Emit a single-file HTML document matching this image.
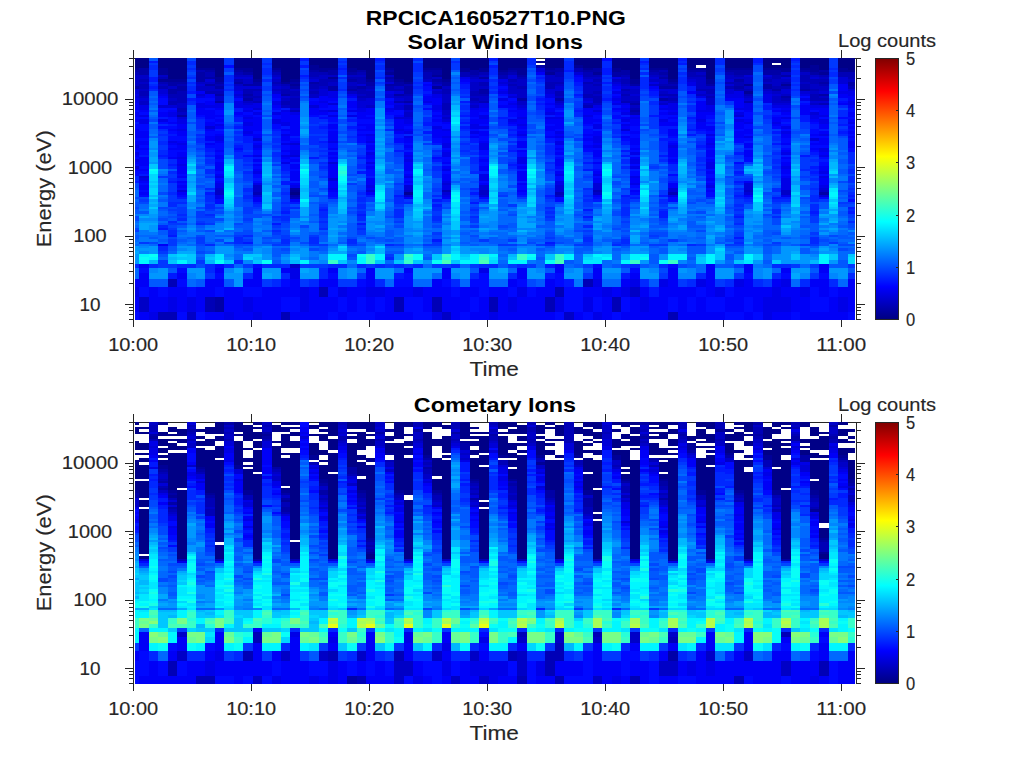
<!DOCTYPE html>
<html><head><meta charset="utf-8"><style>html,body{margin:0;padding:0;background:#fff;overflow:hidden}svg{display:block}text{font-family:"Liberation Sans",sans-serif;stroke-width:0.15px}</style></head>
<body><svg width="1024" height="768" viewBox="0 0 1024 768">
<text x="495.8" y="24.6" font-size="20" text-anchor="middle" font-weight="bold" fill="#000" textLength="260" lengthAdjust="spacingAndGlyphs" >RPCICA160527T10.PNG</text>
<text x="495.2" y="48.6" font-size="20" text-anchor="middle" font-weight="bold" fill="#000" textLength="175.2" lengthAdjust="spacingAndGlyphs" >Solar Wind Ions</text>
<text x="494.9" y="412.3" font-size="20" text-anchor="middle" font-weight="bold" fill="#000" textLength="162.2" lengthAdjust="spacingAndGlyphs" >Cometary Ions</text>
<rect x="133" y="58" width="724" height="1" fill="#262626"/>
<path fill="#000087" d="M135 58h4v10h-4zM139 58h10v10h-10zM158 58h10v10h-10zM168 58h9v21h-9zM177 58h10v21h-10zM196 58h9v10h-9zM205 58h10v10h-10zM215 58h9v19h-9zM234 58h9v10h-9zM243 58h10v10h-10zM253 58h9v21h-9zM272 58h9v10h-9zM281 58h9v24h-9zM290 58h10v21h-10zM290 192h10v3h-10zM309 58h10v7h-10zM319 58h9v10h-9zM328 58h10v10h-10zM347 58h10v10h-10zM357 58h9v12h-9zM366 58h9v21h-9zM385 58h9v10h-9zM394 58h10v21h-10zM404 58h9v24h-9zM423 58h9v10h-9zM432 58h10v10h-10zM442 58h9v21h-9zM460 58h10v10h-10zM470 58h9v12h-9zM479 58h10v10h-10zM498 58h10v12h-10zM508 58h9v10h-9zM517 58h10v10h-10zM536 61h9v2h-9zM545 58h10v10h-10zM555 58h9v10h-9zM574 58h9v7h-9zM583 58h10v10h-10zM593 58h9v10h-9zM612 58h9v10h-9zM621 58h9v12h-9zM630 58h10v21h-10zM649 58h10v10h-10zM659 58h9v10h-9zM668 58h10v21h-10zM687 58h9v10h-9zM696 58h10v7h-10zM706 58h9v21h-9zM725 58h9v10h-9zM734 58h10v10h-10zM744 58h9v10h-9zM763 58h9v10h-9zM772 58h9v5h-9zM772 65h9v3h-9zM781 58h10v10h-10zM800 58h10v10h-10zM810 58h9v7h-9zM819 58h10v12h-10zM838 58h10v10h-10zM848 58h7v12h-7z"/>
<path fill="#000097" d="M135 68h4v2h-4zM158 68h10v7h-10zM158 79h10v3h-10zM168 79h9v3h-9zM177 79h10v3h-10zM196 68h9v2h-9zM205 68h10v2h-10zM215 77h9v5h-9zM234 68h9v2h-9zM243 68h10v4h-10zM253 79h9v3h-9zM272 68h9v2h-9zM281 82h9v2h-9zM290 79h10v3h-10zM290 84h10v2h-10zM290 190h10v2h-10zM309 65h10v5h-10zM319 68h9v4h-9zM328 68h10v2h-10zM328 77h10v2h-10zM347 68h10v4h-10zM366 79h9v3h-9zM385 68h9v2h-9zM385 72h9v3h-9zM394 79h10v3h-10zM404 82h9v2h-9zM404 192h9v3h-9zM423 68h9v2h-9zM432 68h10v2h-10zM432 75h10v2h-10zM432 86h10v3h-10zM442 79h9v3h-9zM460 68h10v4h-10zM479 68h10v4h-10zM498 70h10v2h-10zM508 68h9v2h-9zM517 68h10v7h-10zM545 68h10v2h-10zM545 72h10v3h-10zM574 65h9v3h-9zM583 68h10v2h-10zM593 72h9v3h-9zM612 68h9v4h-9zM630 79h10v5h-10zM649 68h10v2h-10zM659 68h9v2h-9zM668 79h10v3h-10zM687 68h9v2h-9zM696 68h10v2h-10zM706 79h9v5h-9zM725 68h9v2h-9zM734 68h10v2h-10zM744 68h9v2h-9zM744 84h9v2h-9zM744 91h9v3h-9zM763 68h9v2h-9zM772 68h9v2h-9zM781 68h10v4h-10zM781 84h10v2h-10zM800 68h10v2h-10zM810 65h9v7h-9zM819 72h10v3h-10zM838 68h10v4h-10zM848 70h7v2h-7z"/>
<path fill="#0000a7" d="M135 70h4v2h-4zM135 86h4v3h-4zM139 68h10v7h-10zM168 82h9v4h-9zM168 89h9v5h-9zM177 82h10v2h-10zM177 86h10v5h-10zM177 115h10v2h-10zM196 72h9v10h-9zM205 70h10v2h-10zM205 77h10v2h-10zM205 84h10v2h-10zM215 82h9v2h-9zM215 86h9v3h-9zM215 94h9v2h-9zM215 101h9v2h-9zM215 297h9v15h-9zM234 70h9v2h-9zM234 82h9v2h-9zM243 72h10v3h-10zM243 84h10v2h-10zM243 94h10v2h-10zM243 98h10v3h-10zM253 82h9v4h-9zM272 70h9v2h-9zM281 94h9v2h-9zM290 82h10v2h-10zM290 86h10v3h-10zM290 188h10v2h-10zM290 195h10v2h-10zM309 70h10v2h-10zM309 82h10v2h-10zM328 70h10v5h-10zM328 86h10v5h-10zM347 72h10v3h-10zM347 79h10v3h-10zM347 89h10v2h-10zM357 70h9v2h-9zM357 86h9v3h-9zM366 82h9v4h-9zM385 70h9v2h-9zM385 77h9v2h-9zM385 84h9v2h-9zM394 82h10v4h-10zM394 94h10v2h-10zM404 86h9v8h-9zM404 101h9v2h-9zM423 70h9v2h-9zM432 70h10v5h-10zM432 79h10v3h-10zM442 82h9v4h-9zM470 70h9v5h-9zM479 77h10v2h-10zM479 89h10v5h-10zM498 72h10v3h-10zM508 70h9v2h-9zM517 75h10v2h-10zM517 98h10v3h-10zM536 65h9v3h-9zM545 70h10v2h-10zM555 68h9v4h-9zM555 98h9v3h-9zM583 70h10v2h-10zM593 68h9v4h-9zM612 72h9v5h-9zM621 70h9v5h-9zM630 84h10v2h-10zM630 103h10v2h-10zM630 110h10v2h-10zM649 70h10v2h-10zM659 72h9v3h-9zM659 77h9v2h-9zM659 86h9v3h-9zM659 98h9v3h-9zM668 82h10v2h-10zM668 86h10v3h-10zM687 70h9v2h-9zM696 70h10v2h-10zM706 84h9v2h-9zM725 70h9v2h-9zM734 70h10v5h-10zM734 79h10v3h-10zM734 86h10v3h-10zM744 70h9v5h-9zM763 70h9v5h-9zM763 84h9v5h-9zM772 70h9v5h-9zM772 89h9v2h-9zM781 75h10v2h-10zM781 96h10v2h-10zM800 70h10v2h-10zM800 89h10v2h-10zM810 72h9v3h-9zM819 70h10v2h-10zM819 82h10v2h-10zM819 94h10v2h-10zM819 192h10v3h-10zM848 82h7v4h-7z"/>
<path fill="#0000b7" d="M135 72h4v3h-4zM139 79h10v3h-10zM139 84h10v5h-10zM139 91h10v5h-10zM158 77h10v2h-10zM158 82h10v2h-10zM158 86h10v3h-10zM158 312h10v8h-10zM168 94h9v4h-9zM168 101h9v4h-9zM168 279h9v8h-9zM168 312h9v8h-9zM177 84h10v2h-10zM177 91h10v12h-10zM177 108h10v4h-10zM196 70h9v2h-9zM205 72h10v5h-10zM205 91h10v3h-10zM205 297h10v15h-10zM215 84h9v2h-9zM215 91h9v3h-9zM234 72h9v3h-9zM234 79h9v3h-9zM243 89h10v5h-10zM243 96h10v2h-10zM253 89h9v2h-9zM253 96h9v2h-9zM253 101h9v2h-9zM253 192h9v3h-9zM272 72h9v3h-9zM272 82h9v2h-9zM281 84h9v2h-9zM281 89h9v5h-9zM281 101h9v4h-9zM281 312h9v8h-9zM290 91h10v5h-10zM290 98h10v10h-10zM290 110h10v2h-10zM290 197h10v2h-10zM309 72h10v5h-10zM309 84h10v5h-10zM309 91h10v3h-10zM319 72h9v3h-9zM319 79h9v7h-9zM319 287h9v10h-9zM328 79h10v3h-10zM347 77h10v2h-10zM347 86h10v3h-10zM357 72h9v3h-9zM357 77h9v7h-9zM357 89h9v5h-9zM357 96h9v2h-9zM366 86h9v3h-9zM366 91h9v7h-9zM385 79h9v3h-9zM385 86h9v5h-9zM394 89h10v2h-10zM394 101h10v2h-10zM394 297h10v15h-10zM404 84h9v2h-9zM404 94h9v2h-9zM404 105h9v5h-9zM423 72h9v7h-9zM432 82h10v2h-10zM432 297h10v15h-10zM442 89h9v5h-9zM442 103h9v7h-9zM442 190h9v2h-9zM460 72h10v5h-10zM470 75h9v2h-9zM470 91h9v5h-9zM470 98h9v3h-9zM479 72h10v3h-10zM479 82h10v4h-10zM479 94h10v2h-10zM479 101h10v2h-10zM489 297h9v15h-9zM498 75h10v4h-10zM508 72h9v3h-9zM508 79h9v3h-9zM508 84h9v2h-9zM517 77h10v2h-10zM517 86h10v3h-10zM545 82h10v7h-10zM545 297h10v15h-10zM555 72h9v5h-9zM555 82h9v2h-9zM555 91h9v5h-9zM555 192h9v3h-9zM555 287h9v10h-9zM574 68h9v4h-9zM583 72h10v5h-10zM583 82h10v2h-10zM583 94h10v4h-10zM583 105h10v3h-10zM583 279h10v8h-10zM593 75h9v2h-9zM593 79h9v3h-9zM593 84h9v2h-9zM593 91h9v3h-9zM593 96h9v7h-9zM593 190h9v2h-9zM612 297h9v15h-9zM621 75h9v2h-9zM621 79h9v5h-9zM621 89h9v2h-9zM621 94h9v2h-9zM621 101h9v2h-9zM630 101h10v2h-10zM630 108h10v2h-10zM630 112h10v3h-10zM649 72h10v3h-10zM659 70h9v2h-9zM659 75h9v2h-9zM659 84h9v2h-9zM659 94h9v2h-9zM668 84h10v2h-10zM668 94h10v2h-10zM668 98h10v3h-10zM668 192h10v3h-10zM668 312h10v8h-10zM687 72h9v5h-9zM696 75h10v2h-10zM696 89h10v2h-10zM706 89h9v5h-9zM706 96h9v2h-9zM725 72h9v3h-9zM725 82h9v2h-9zM725 86h9v3h-9zM734 75h10v2h-10zM734 82h10v4h-10zM734 89h10v2h-10zM744 89h9v2h-9zM744 94h9v2h-9zM744 101h9v2h-9zM763 79h9v3h-9zM772 75h9v4h-9zM772 86h9v3h-9zM781 82h10v2h-10zM781 86h10v3h-10zM781 98h10v3h-10zM800 75h10v7h-10zM800 84h10v5h-10zM810 79h9v5h-9zM810 89h9v2h-9zM810 94h9v7h-9zM819 75h10v2h-10zM819 79h10v3h-10zM819 84h10v2h-10zM819 98h10v3h-10zM819 103h10v2h-10zM838 72h10v5h-10zM848 72h7v7h-7zM848 86h7v3h-7z"/>
<path fill="#0000c7" d="M135 75h4v11h-4zM139 75h10v4h-10zM139 82h10v2h-10zM139 89h10v2h-10zM139 96h10v2h-10zM139 101h10v4h-10zM139 297h10v15h-10zM158 75h10v2h-10zM158 84h10v2h-10zM168 86h9v3h-9zM168 98h9v3h-9zM177 103h10v5h-10zM177 112h10v3h-10zM187 312h9v8h-9zM196 82h9v2h-9zM196 86h9v5h-9zM205 82h10v2h-10zM205 86h10v5h-10zM215 89h9v2h-9zM215 96h9v5h-9zM215 190h9v5h-9zM234 75h9v2h-9zM234 84h9v2h-9zM243 75h10v2h-10zM243 79h10v5h-10zM243 101h10v2h-10zM253 91h9v5h-9zM253 98h9v3h-9zM253 185h9v7h-9zM272 75h9v2h-9zM272 79h9v3h-9zM272 84h9v2h-9zM272 89h9v2h-9zM281 86h9v3h-9zM281 98h9v3h-9zM281 105h9v3h-9zM290 89h10v2h-10zM290 96h10v2h-10zM290 264h10v4h-10zM309 77h10v2h-10zM309 89h10v2h-10zM309 94h10v4h-10zM319 75h9v4h-9zM319 86h9v3h-9zM328 75h10v2h-10zM328 82h10v4h-10zM347 75h10v2h-10zM347 82h10v4h-10zM347 91h10v3h-10zM357 75h9v2h-9zM357 94h9v2h-9zM357 98h9v3h-9zM366 89h9v2h-9zM366 105h9v3h-9zM385 75h9v2h-9zM394 86h10v3h-10zM394 96h10v2h-10zM404 96h9v5h-9zM404 112h9v5h-9zM404 190h9v2h-9zM404 195h9v2h-9zM423 79h9v3h-9zM432 77h10v2h-10zM432 84h10v2h-10zM432 91h10v3h-10zM442 86h9v3h-9zM442 94h9v9h-9zM442 110h9v5h-9zM442 117h9v2h-9zM442 312h9v8h-9zM470 77h9v2h-9zM470 82h9v9h-9zM470 96h9v2h-9zM470 101h9v2h-9zM470 105h9v3h-9zM479 75h10v2h-10zM479 86h10v3h-10zM479 96h10v5h-10zM479 190h10v5h-10zM508 82h9v2h-9zM508 86h9v8h-9zM517 79h10v7h-10zM517 89h10v9h-10zM517 101h10v4h-10zM545 75h10v7h-10zM555 77h9v5h-9zM555 84h9v2h-9zM555 96h9v2h-9zM555 101h9v2h-9zM555 195h9v2h-9zM564 312h10v8h-10zM583 77h10v2h-10zM583 84h10v10h-10zM583 103h10v2h-10zM593 77h9v2h-9zM593 82h9v2h-9zM593 86h9v5h-9zM593 94h9v2h-9zM593 103h9v2h-9zM593 192h9v3h-9zM612 79h9v3h-9zM621 77h9v2h-9zM621 84h9v2h-9zM621 91h9v3h-9zM621 96h9v5h-9zM630 89h10v5h-10zM630 96h10v5h-10zM630 105h10v3h-10zM630 287h10v10h-10zM649 75h10v2h-10zM649 79h10v3h-10zM649 84h10v2h-10zM659 79h9v5h-9zM659 91h9v3h-9zM659 103h9v2h-9zM668 96h10v2h-10zM668 101h10v2h-10zM687 77h9v2h-9zM696 72h10v3h-10zM696 77h10v12h-10zM696 94h10v2h-10zM706 86h9v3h-9zM706 94h9v2h-9zM706 98h9v7h-9zM725 75h9v4h-9zM734 77h10v2h-10zM744 77h9v7h-9zM744 86h9v3h-9zM744 96h9v2h-9zM744 190h9v2h-9zM763 77h9v2h-9zM763 82h9v2h-9zM763 89h9v2h-9zM772 79h9v7h-9zM772 91h9v3h-9zM772 96h9v7h-9zM781 72h10v3h-10zM781 79h10v3h-10zM781 94h10v2h-10zM781 101h10v2h-10zM781 190h10v5h-10zM800 72h10v3h-10zM800 82h10v2h-10zM810 75h9v2h-9zM810 84h9v5h-9zM810 91h9v3h-9zM810 103h9v2h-9zM819 77h10v2h-10zM819 86h10v5h-10zM819 96h10v2h-10zM819 190h10v2h-10zM848 79h7v3h-7z"/>
<path fill="#0000d7" d="M135 89h4v5h-4zM135 96h4v2h-4zM135 166h4v3h-4zM139 98h10v3h-10zM139 176h10v2h-10zM158 89h10v5h-10zM158 105h10v3h-10zM168 105h9v3h-9zM177 117h10v2h-10zM177 190h10v2h-10zM196 84h9v2h-9zM196 94h9v2h-9zM205 79h10v3h-10zM205 126h10v3h-10zM215 188h9v2h-9zM234 77h9v2h-9zM234 86h9v5h-9zM234 94h9v2h-9zM243 77h10v2h-10zM243 86h10v3h-10zM243 103h10v2h-10zM253 86h9v3h-9zM253 108h9v2h-9zM253 138h9v3h-9zM253 195h9v2h-9zM272 77h9v2h-9zM272 86h9v3h-9zM272 91h9v3h-9zM281 96h9v2h-9zM290 108h10v2h-10zM290 143h10v2h-10zM290 155h10v2h-10zM309 79h10v3h-10zM309 105h10v3h-10zM319 89h9v7h-9zM328 103h10v2h-10zM328 110h10v2h-10zM328 162h10v2h-10zM328 178h10v3h-10zM357 84h9v2h-9zM357 101h9v7h-9zM366 98h9v7h-9zM366 190h9v2h-9zM385 82h9v2h-9zM385 94h9v4h-9zM394 91h10v3h-10zM394 98h10v3h-10zM394 105h10v5h-10zM394 117h10v2h-10zM404 103h9v2h-9zM404 110h9v2h-9zM404 117h9v2h-9zM404 185h9v5h-9zM432 89h10v2h-10zM442 115h9v2h-9zM442 119h9v3h-9zM442 183h9v2h-9zM442 192h9v3h-9zM470 79h9v3h-9zM470 103h9v2h-9zM479 79h10v3h-10zM479 185h10v5h-10zM479 195h10v2h-10zM498 82h10v2h-10zM508 75h9v4h-9zM508 96h9v2h-9zM517 105h10v3h-10zM536 68h9v4h-9zM545 89h10v5h-10zM555 86h9v5h-9zM555 103h9v2h-9zM555 185h9v7h-9zM574 72h9v3h-9zM583 79h10v3h-10zM583 98h10v3h-10zM593 110h9v2h-9zM593 183h9v7h-9zM612 82h9v2h-9zM621 86h9v3h-9zM621 129h9v2h-9zM630 86h10v3h-10zM630 94h10v2h-10zM649 77h10v2h-10zM659 89h9v2h-9zM659 96h9v2h-9zM659 101h9v2h-9zM668 89h10v5h-10zM668 188h10v4h-10zM687 79h9v3h-9zM696 91h10v3h-10zM725 79h9v3h-9zM725 84h9v2h-9zM725 89h9v5h-9zM734 115h10v2h-10zM744 75h9v2h-9zM744 98h9v3h-9zM744 183h9v7h-9zM744 192h9v3h-9zM763 75h9v2h-9zM763 91h9v3h-9zM772 94h9v2h-9zM772 103h9v2h-9zM781 77h10v2h-10zM781 89h10v5h-10zM781 103h10v2h-10zM800 91h10v3h-10zM810 77h9v2h-9zM810 101h9v2h-9zM810 112h9v3h-9zM810 138h9v3h-9zM819 91h10v3h-10zM819 101h10v2h-10zM819 188h10v2h-10zM819 195h10v2h-10zM838 77h10v7h-10zM848 89h7v2h-7z"/>
<path fill="#0000e7" d="M135 94h4v2h-4zM135 98h4v5h-4zM135 145h4v3h-4zM135 152h4v3h-4zM135 159h4v3h-4zM135 287h4v10h-4zM139 105h10v5h-10zM139 115h10v2h-10zM139 119h10v5h-10zM139 178h10v3h-10zM149 312h9v8h-9zM158 94h10v2h-10zM158 119h10v3h-10zM168 112h9v5h-9zM168 141h9v2h-9zM168 297h9v15h-9zM177 119h10v5h-10zM177 129h10v2h-10zM177 143h10v2h-10zM177 157h10v2h-10zM177 164h10v2h-10zM187 297h9v15h-9zM196 96h9v2h-9zM196 103h9v5h-9zM205 105h10v3h-10zM215 103h9v5h-9zM215 124h9v2h-9zM215 136h9v5h-9zM215 176h9v2h-9zM215 183h9v5h-9zM215 195h9v4h-9zM224 312h10v8h-10zM234 91h9v3h-9zM234 96h9v2h-9zM234 101h9v7h-9zM243 105h10v3h-10zM243 110h10v2h-10zM243 117h10v2h-10zM243 122h10v4h-10zM243 131h10v3h-10zM243 297h10v15h-10zM253 103h9v5h-9zM253 112h9v3h-9zM253 145h9v3h-9zM253 155h9v2h-9zM253 171h9v3h-9zM253 183h9v2h-9zM253 312h9v8h-9zM272 101h9v4h-9zM272 112h9v3h-9zM272 119h9v5h-9zM281 110h9v2h-9zM281 122h9v4h-9zM281 134h9v2h-9zM281 143h9v2h-9zM281 155h9v2h-9zM281 162h9v2h-9zM290 112h10v3h-10zM290 150h10v5h-10zM290 185h10v3h-10zM290 268h10v11h-10zM300 287h9v25h-9zM319 101h9v2h-9zM319 110h9v2h-9zM328 91h10v7h-10zM328 115h10v2h-10zM328 141h10v2h-10zM328 188h10v2h-10zM338 287h9v10h-9zM347 94h10v2h-10zM347 110h10v2h-10zM347 115h10v2h-10zM357 108h9v4h-9zM366 134h9v2h-9zM366 141h9v2h-9zM366 152h9v3h-9zM366 162h9v2h-9zM366 185h9v3h-9zM366 287h9v10h-9zM375 287h10v10h-10zM385 91h9v3h-9zM385 108h9v2h-9zM394 103h10v2h-10zM394 129h10v2h-10zM404 119h9v5h-9zM404 131h9v3h-9zM404 136h9v2h-9zM404 155h9v2h-9zM404 159h9v3h-9zM404 176h9v2h-9zM413 287h10v10h-10zM423 101h9v2h-9zM432 94h10v4h-10zM432 105h10v5h-10zM432 126h10v3h-10zM432 312h10v8h-10zM442 129h9v2h-9zM442 136h9v2h-9zM442 143h9v5h-9zM442 152h9v5h-9zM442 169h9v2h-9zM442 181h9v2h-9zM442 185h9v5h-9zM442 195h9v2h-9zM460 77h10v2h-10zM470 108h9v2h-9zM470 124h9v5h-9zM470 131h9v3h-9zM479 103h10v5h-10zM479 115h10v4h-10zM479 126h10v3h-10zM479 143h10v7h-10zM479 174h10v7h-10zM479 268h10v5h-10zM489 312h9v8h-9zM498 79h10v3h-10zM498 84h10v2h-10zM498 91h10v3h-10zM498 98h10v3h-10zM508 94h9v2h-9zM508 103h9v2h-9zM508 119h9v3h-9zM508 297h9v15h-9zM517 108h10v2h-10zM517 117h10v2h-10zM517 124h10v2h-10zM517 134h10v2h-10zM517 157h10v7h-10zM517 287h10v10h-10zM545 94h10v4h-10zM545 112h10v3h-10zM545 117h10v2h-10zM555 105h9v3h-9zM555 117h9v2h-9zM555 131h9v3h-9zM555 136h9v2h-9zM555 141h9v4h-9zM555 174h9v2h-9zM555 181h9v4h-9zM555 297h9v15h-9zM583 101h10v2h-10zM583 115h10v2h-10zM583 297h10v15h-10zM593 105h9v3h-9zM593 124h9v5h-9zM593 136h9v7h-9zM593 145h9v3h-9zM593 174h9v2h-9zM593 279h9v8h-9zM593 312h9v8h-9zM602 287h10v10h-10zM612 77h9v2h-9zM612 84h9v2h-9zM612 91h9v3h-9zM612 98h9v3h-9zM612 103h9v2h-9zM621 103h9v2h-9zM621 108h9v2h-9zM621 112h9v3h-9zM621 119h9v3h-9zM621 124h9v2h-9zM621 287h9v10h-9zM630 117h10v2h-10zM630 152h10v3h-10zM630 159h10v5h-10zM630 166h10v3h-10zM630 176h10v2h-10zM630 183h10v2h-10zM630 279h10v8h-10zM640 297h9v15h-9zM649 82h10v2h-10zM659 108h9v2h-9zM659 119h9v3h-9zM659 279h9v8h-9zM668 103h10v7h-10zM668 112h10v3h-10zM668 145h10v3h-10zM668 195h10v2h-10zM687 82h9v4h-9zM696 96h10v2h-10zM696 110h10v2h-10zM696 119h10v3h-10zM696 279h10v8h-10zM706 105h9v7h-9zM706 134h9v2h-9zM706 143h9v2h-9zM706 162h9v7h-9zM706 185h9v3h-9zM715 287h10v10h-10zM725 94h9v4h-9zM734 91h10v7h-10zM734 108h10v2h-10zM734 112h10v3h-10zM734 119h10v3h-10zM734 279h10v8h-10zM744 103h9v7h-9zM744 122h9v2h-9zM744 136h9v2h-9zM763 94h9v9h-9zM763 297h9v23h-9zM772 105h9v3h-9zM772 122h9v2h-9zM772 287h9v25h-9zM781 105h10v3h-10zM781 110h10v2h-10zM781 117h10v2h-10zM781 126h10v3h-10zM781 131h10v3h-10zM781 152h10v3h-10zM781 166h10v3h-10zM781 178h10v12h-10zM781 195h10v2h-10zM781 279h10v8h-10zM781 297h10v15h-10zM800 94h10v2h-10zM800 98h10v3h-10zM800 287h10v10h-10zM810 105h9v3h-9zM810 115h9v4h-9zM819 105h10v3h-10zM819 115h10v2h-10zM819 119h10v5h-10zM819 134h10v2h-10zM819 148h10v4h-10zM819 155h10v2h-10zM819 171h10v3h-10zM819 176h10v2h-10zM819 185h10v3h-10zM838 91h10v3h-10zM838 297h10v15h-10zM848 91h7v5h-7zM848 101h7v4h-7zM848 122h7v2h-7z"/>
<path fill="#0000f7" d="M135 103h4v7h-4zM135 112h4v5h-4zM135 119h4v3h-4zM135 129h4v9h-4zM135 141h4v4h-4zM135 148h4v2h-4zM135 155h4v2h-4zM135 162h4v2h-4zM135 169h4v2h-4zM135 279h4v8h-4zM135 297h4v15h-4zM139 110h10v2h-10zM139 131h10v7h-10zM139 141h10v4h-10zM139 148h10v2h-10zM139 157h10v9h-10zM139 169h10v2h-10zM139 181h10v2h-10zM139 185h10v5h-10zM139 192h10v3h-10zM139 264h10v4h-10zM139 273h10v14h-10zM139 312h10v8h-10zM149 287h9v25h-9zM158 96h10v2h-10zM158 112h10v5h-10zM158 244h10v2h-10zM158 297h10v15h-10zM168 110h9v2h-9zM168 122h9v2h-9zM168 129h9v2h-9zM168 143h9v2h-9zM168 148h9v2h-9zM168 157h9v2h-9zM168 287h9v10h-9zM177 124h10v5h-10zM177 131h10v5h-10zM177 141h10v2h-10zM177 145h10v5h-10zM177 152h10v5h-10zM177 159h10v5h-10zM177 166h10v8h-10zM177 176h10v2h-10zM177 181h10v2h-10zM177 185h10v3h-10zM177 192h10v3h-10zM177 273h10v6h-10zM177 287h10v25h-10zM196 91h9v3h-9zM196 108h9v7h-9zM196 287h9v25h-9zM205 94h10v4h-10zM205 101h10v4h-10zM205 110h10v9h-10zM205 122h10v4h-10zM205 129h10v2h-10zM205 136h10v5h-10zM205 143h10v2h-10zM205 279h10v18h-10zM205 312h10v8h-10zM215 108h9v2h-9zM215 115h9v2h-9zM215 119h9v3h-9zM215 126h9v3h-9zM215 134h9v2h-9zM215 141h9v2h-9zM215 150h9v2h-9zM215 155h9v4h-9zM215 162h9v9h-9zM215 174h9v2h-9zM215 181h9v2h-9zM215 268h9v5h-9zM215 279h9v8h-9zM215 312h9v8h-9zM224 287h10v25h-10zM234 112h9v3h-9zM234 287h9v33h-9zM243 108h10v2h-10zM243 115h10v2h-10zM243 119h10v3h-10zM243 126h10v5h-10zM243 134h10v2h-10zM243 279h10v8h-10zM243 312h10v8h-10zM253 117h9v14h-9zM253 134h9v4h-9zM253 143h9v2h-9zM253 148h9v2h-9zM253 159h9v3h-9zM253 164h9v2h-9zM253 169h9v2h-9zM253 197h9v5h-9zM253 268h9v19h-9zM253 297h9v15h-9zM262 287h10v33h-10zM272 94h9v4h-9zM272 105h9v3h-9zM272 287h9v33h-9zM281 112h9v10h-9zM281 129h9v2h-9zM281 136h9v5h-9zM281 150h9v2h-9zM281 157h9v2h-9zM281 268h9v5h-9zM281 287h9v10h-9zM290 115h10v21h-10zM290 141h10v2h-10zM290 145h10v5h-10zM290 159h10v3h-10zM290 164h10v5h-10zM290 171h10v10h-10zM290 183h10v2h-10zM290 199h10v3h-10zM290 279h10v18h-10zM290 312h10v8h-10zM300 312h9v8h-9zM309 101h10v4h-10zM309 108h10v7h-10zM309 287h10v33h-10zM319 96h9v5h-9zM319 103h9v5h-9zM319 112h9v3h-9zM319 279h9v8h-9zM319 297h9v23h-9zM328 98h10v3h-10zM328 124h10v5h-10zM328 131h10v10h-10zM328 148h10v2h-10zM328 152h10v3h-10zM328 157h10v2h-10zM328 164h10v14h-10zM328 181h10v7h-10zM328 190h10v2h-10zM328 268h10v5h-10zM328 279h10v8h-10zM328 297h10v15h-10zM338 312h9v8h-9zM347 96h10v2h-10zM347 101h10v7h-10zM347 287h10v25h-10zM357 112h9v7h-9zM357 124h9v2h-9zM357 129h9v2h-9zM357 134h9v2h-9zM357 287h9v10h-9zM366 108h9v7h-9zM366 117h9v2h-9zM366 124h9v7h-9zM366 136h9v5h-9zM366 145h9v5h-9zM366 155h9v4h-9zM366 166h9v3h-9zM366 178h9v7h-9zM366 188h9v2h-9zM366 192h9v3h-9zM366 268h9v19h-9zM366 297h9v15h-9zM375 312h10v8h-10zM385 101h9v4h-9zM385 110h9v2h-9zM385 287h9v33h-9zM394 115h10v2h-10zM394 119h10v10h-10zM394 131h10v3h-10zM394 287h10v10h-10zM394 312h10v8h-10zM404 124h9v2h-9zM404 129h9v2h-9zM404 138h9v5h-9zM404 145h9v3h-9zM404 152h9v3h-9zM404 157h9v2h-9zM404 162h9v9h-9zM404 174h9v2h-9zM404 181h9v2h-9zM404 197h9v2h-9zM404 268h9v5h-9zM404 287h9v10h-9zM404 312h9v8h-9zM423 84h9v2h-9zM423 96h9v5h-9zM423 287h9v25h-9zM432 98h10v7h-10zM432 110h10v2h-10zM432 115h10v2h-10zM432 119h10v3h-10zM432 129h10v9h-10zM432 279h10v18h-10zM442 122h9v2h-9zM442 131h9v5h-9zM442 138h9v5h-9zM442 150h9v2h-9zM442 162h9v2h-9zM442 166h9v3h-9zM442 174h9v7h-9zM442 197h9v2h-9zM442 268h9v11h-9zM442 287h9v25h-9zM451 297h9v23h-9zM460 79h10v3h-10zM460 287h10v25h-10zM470 110h9v7h-9zM470 119h9v5h-9zM470 136h9v2h-9zM470 287h9v10h-9zM470 312h9v8h-9zM479 108h10v4h-10zM479 119h10v5h-10zM479 131h10v5h-10zM479 141h10v2h-10zM479 159h10v3h-10zM479 166h10v5h-10zM479 183h10v2h-10zM479 297h10v23h-10zM489 287h9v10h-9zM498 89h10v2h-10zM498 105h10v3h-10zM498 287h10v33h-10zM508 101h9v2h-9zM508 105h9v3h-9zM508 110h9v2h-9zM508 122h9v2h-9zM508 279h9v8h-9zM508 312h9v8h-9zM517 110h10v7h-10zM517 119h10v5h-10zM517 126h10v3h-10zM517 131h10v3h-10zM517 141h10v7h-10zM517 150h10v2h-10zM517 166h10v3h-10zM517 171h10v10h-10zM517 183h10v2h-10zM517 190h10v2h-10zM517 268h10v11h-10zM517 297h10v23h-10zM527 297h9v23h-9zM536 72h9v3h-9zM536 287h9v33h-9zM545 103h10v2h-10zM545 108h10v4h-10zM545 119h10v5h-10zM545 126h10v5h-10zM545 136h10v2h-10zM545 279h10v18h-10zM545 312h10v8h-10zM555 112h9v3h-9zM555 119h9v10h-9zM555 134h9v2h-9zM555 148h9v2h-9zM555 152h9v3h-9zM555 159h9v7h-9zM555 171h9v3h-9zM555 264h9v9h-9zM574 75h9v2h-9zM574 312h9v8h-9zM583 108h10v7h-10zM583 117h10v7h-10zM583 134h10v2h-10zM583 138h10v3h-10zM583 145h10v3h-10zM583 287h10v10h-10zM593 108h9v2h-9zM593 112h9v3h-9zM593 119h9v3h-9zM593 131h9v5h-9zM593 143h9v2h-9zM593 150h9v7h-9zM593 162h9v2h-9zM593 171h9v3h-9zM593 178h9v5h-9zM593 195h9v2h-9zM593 268h9v11h-9zM593 287h9v10h-9zM602 297h10v23h-10zM612 86h9v3h-9zM612 96h9v2h-9zM612 101h9v2h-9zM612 108h9v2h-9zM612 287h9v10h-9zM621 105h9v3h-9zM621 110h9v2h-9zM621 117h9v2h-9zM621 126h9v3h-9zM621 136h9v2h-9zM621 279h9v8h-9zM621 312h9v8h-9zM630 115h10v2h-10zM630 119h10v7h-10zM630 131h10v3h-10zM630 138h10v7h-10zM630 148h10v2h-10zM630 157h10v2h-10zM630 178h10v5h-10zM630 190h10v2h-10zM630 273h10v6h-10zM630 297h10v23h-10zM640 287h9v10h-9zM640 312h9v8h-9zM649 86h10v3h-10zM649 297h10v23h-10zM659 105h9v3h-9zM659 112h9v3h-9zM659 122h9v4h-9zM659 287h9v33h-9zM668 110h10v2h-10zM668 117h10v2h-10zM668 122h10v4h-10zM668 129h10v7h-10zM668 143h10v2h-10zM668 148h10v9h-10zM668 159h10v3h-10zM668 183h10v5h-10zM668 268h10v29h-10zM678 287h9v33h-9zM687 91h9v3h-9zM687 287h9v10h-9zM687 312h9v8h-9zM696 101h10v9h-10zM696 112h10v7h-10zM696 122h10v7h-10zM696 297h10v23h-10zM706 112h9v3h-9zM706 126h9v5h-9zM706 138h9v5h-9zM706 145h9v3h-9zM706 150h9v7h-9zM706 159h9v3h-9zM706 171h9v3h-9zM706 178h9v3h-9zM706 183h9v2h-9zM706 190h9v2h-9zM706 264h9v33h-9zM706 312h9v8h-9zM715 312h10v8h-10zM725 98h9v3h-9zM725 297h9v15h-9zM734 98h10v10h-10zM734 122h10v7h-10zM734 131h10v7h-10zM734 287h10v25h-10zM744 110h9v2h-9zM744 119h9v3h-9zM744 129h9v5h-9zM744 143h9v5h-9zM744 150h9v7h-9zM744 181h9v2h-9zM744 195h9v2h-9zM744 264h9v9h-9zM744 279h9v18h-9zM744 312h9v8h-9zM753 287h10v25h-10zM763 287h9v10h-9zM772 110h9v2h-9zM772 117h9v5h-9zM772 124h9v2h-9zM772 279h9v8h-9zM772 312h9v8h-9zM781 108h10v2h-10zM781 112h10v3h-10zM781 134h10v4h-10zM781 143h10v2h-10zM781 150h10v2h-10zM781 157h10v2h-10zM781 162h10v4h-10zM781 169h10v5h-10zM781 176h10v2h-10zM781 268h10v5h-10zM781 287h10v10h-10zM781 312h10v8h-10zM791 287h9v25h-9zM800 105h10v10h-10zM800 297h10v23h-10zM810 108h9v2h-9zM810 119h9v3h-9zM810 134h9v2h-9zM810 143h9v2h-9zM810 148h9v2h-9zM810 279h9v8h-9zM810 312h9v8h-9zM819 108h10v7h-10zM819 124h10v5h-10zM819 131h10v3h-10zM819 138h10v7h-10zM819 152h10v3h-10zM819 166h10v5h-10zM819 178h10v7h-10zM819 264h10v9h-10zM819 279h10v18h-10zM819 312h10v8h-10zM829 297h9v23h-9zM838 84h10v7h-10zM838 94h10v4h-10zM838 103h10v2h-10zM838 287h10v10h-10zM838 312h10v8h-10zM848 96h7v5h-7zM848 105h7v3h-7zM848 112h7v5h-7zM848 119h7v3h-7zM848 126h7v3h-7zM848 131h7v3h-7zM848 136h7v2h-7zM848 141h7v7h-7zM848 279h7v33h-7z"/>
<path fill="#0008ff" d="M135 110h4v2h-4zM135 117h4v2h-4zM135 124h4v5h-4zM135 138h4v3h-4zM135 150h4v2h-4zM135 157h4v2h-4zM135 164h4v2h-4zM135 171h4v5h-4zM135 312h4v8h-4zM139 112h10v3h-10zM139 117h10v2h-10zM139 124h10v7h-10zM139 138h10v3h-10zM139 145h10v3h-10zM139 150h10v5h-10zM139 166h10v3h-10zM139 171h10v3h-10zM139 183h10v2h-10zM139 190h10v2h-10zM139 195h10v2h-10zM139 268h10v5h-10zM139 287h10v10h-10zM158 98h10v7h-10zM158 108h10v4h-10zM158 122h10v2h-10zM158 126h10v3h-10zM158 287h10v10h-10zM168 108h9v2h-9zM168 117h9v5h-9zM168 126h9v3h-9zM168 131h9v3h-9zM168 136h9v5h-9zM168 145h9v3h-9zM168 150h9v7h-9zM177 136h10v5h-10zM177 150h10v2h-10zM177 174h10v2h-10zM177 183h10v2h-10zM177 188h10v2h-10zM177 195h10v2h-10zM177 268h10v5h-10zM177 279h10v8h-10zM177 312h10v8h-10zM187 287h9v10h-9zM196 98h9v5h-9zM196 115h9v2h-9zM196 312h9v8h-9zM205 98h10v3h-10zM205 108h10v2h-10zM205 119h10v3h-10zM205 131h10v5h-10zM205 145h10v3h-10zM215 110h9v5h-9zM215 117h9v2h-9zM215 122h9v2h-9zM215 131h9v3h-9zM215 143h9v7h-9zM215 152h9v3h-9zM215 159h9v3h-9zM215 171h9v3h-9zM215 178h9v3h-9zM215 199h9v5h-9zM215 264h9v4h-9zM215 273h9v6h-9zM215 287h9v10h-9zM224 65h10v3h-10zM234 98h9v3h-9zM234 115h9v2h-9zM234 148h9v2h-9zM243 112h10v3h-10zM243 155h10v2h-10zM243 287h10v10h-10zM253 110h9v2h-9zM253 115h9v2h-9zM253 131h9v3h-9zM253 141h9v2h-9zM253 150h9v5h-9zM253 166h9v3h-9zM253 174h9v4h-9zM253 181h9v2h-9zM253 264h9v4h-9zM253 287h9v10h-9zM272 98h9v3h-9zM272 108h9v2h-9zM272 115h9v4h-9zM272 124h9v5h-9zM281 131h9v3h-9zM281 141h9v2h-9zM281 145h9v5h-9zM281 152h9v3h-9zM281 159h9v3h-9zM281 279h9v8h-9zM281 297h9v15h-9zM290 138h10v3h-10zM290 157h10v2h-10zM290 169h10v2h-10zM290 297h10v15h-10zM309 98h10v3h-10zM309 115h10v2h-10zM319 108h9v2h-9zM319 117h9v2h-9zM328 101h10v2h-10zM328 105h10v5h-10zM328 112h10v3h-10zM328 117h10v5h-10zM328 129h10v2h-10zM328 143h10v5h-10zM328 155h10v2h-10zM328 159h10v3h-10zM328 192h10v5h-10zM328 273h10v6h-10zM328 287h10v10h-10zM328 312h10v8h-10zM338 297h9v15h-9zM347 108h10v2h-10zM347 312h10v8h-10zM357 119h9v5h-9zM357 126h9v3h-9zM357 131h9v3h-9zM357 136h9v7h-9zM357 279h9v8h-9zM357 297h9v23h-9zM366 115h9v2h-9zM366 119h9v5h-9zM366 131h9v3h-9zM366 143h9v2h-9zM366 150h9v2h-9zM366 159h9v3h-9zM366 164h9v2h-9zM366 169h9v7h-9zM366 312h9v8h-9zM375 297h10v15h-10zM385 98h9v3h-9zM385 105h9v3h-9zM385 112h9v3h-9zM394 110h10v5h-10zM394 138h10v5h-10zM394 279h10v8h-10zM404 126h9v3h-9zM404 143h9v2h-9zM404 148h9v2h-9zM404 171h9v3h-9zM404 178h9v3h-9zM404 183h9v2h-9zM404 273h9v14h-9zM404 297h9v15h-9zM413 297h10v23h-10zM423 82h9v2h-9zM423 86h9v5h-9zM423 94h9v2h-9zM423 103h9v2h-9zM423 108h9v2h-9zM423 312h9v8h-9zM432 112h10v3h-10zM432 117h10v2h-10zM432 122h10v4h-10zM432 138h10v5h-10zM432 157h10v2h-10zM442 124h9v5h-9zM442 148h9v2h-9zM442 157h9v5h-9zM442 171h9v3h-9zM442 279h9v8h-9zM451 287h9v10h-9zM460 82h10v2h-10zM460 312h10v8h-10zM470 117h9v2h-9zM470 129h9v2h-9zM470 134h9v2h-9zM470 279h9v8h-9zM470 297h9v15h-9zM479 112h10v3h-10zM479 124h10v2h-10zM479 136h10v5h-10zM479 150h10v5h-10zM479 157h10v2h-10zM479 162h10v4h-10zM479 181h10v2h-10zM479 197h10v2h-10zM479 273h10v24h-10zM498 86h10v3h-10zM498 94h10v2h-10zM498 101h10v4h-10zM508 98h9v3h-9zM508 108h9v2h-9zM508 112h9v5h-9zM508 124h9v2h-9zM508 287h9v10h-9zM517 129h10v2h-10zM517 136h10v2h-10zM517 152h10v5h-10zM517 164h10v2h-10zM517 185h10v5h-10zM517 192h10v3h-10zM517 279h10v8h-10zM527 287h9v10h-9zM545 98h10v5h-10zM545 105h10v3h-10zM545 124h10v2h-10zM545 131h10v5h-10zM555 108h9v2h-9zM555 115h9v2h-9zM555 129h9v2h-9zM555 138h9v3h-9zM555 145h9v3h-9zM555 150h9v2h-9zM555 157h9v2h-9zM555 166h9v3h-9zM555 176h9v5h-9zM555 197h9v5h-9zM555 273h9v14h-9zM555 312h9v8h-9zM564 287h10v25h-10zM574 77h9v5h-9zM574 287h9v25h-9zM583 124h10v2h-10zM583 129h10v5h-10zM583 136h10v2h-10zM583 141h10v4h-10zM583 148h10v4h-10zM583 312h10v8h-10zM593 115h9v4h-9zM593 122h9v2h-9zM593 148h9v2h-9zM593 157h9v2h-9zM593 169h9v2h-9zM593 176h9v2h-9zM593 197h9v2h-9zM593 264h9v4h-9zM593 297h9v15h-9zM602 58h10v3h-10zM612 89h9v2h-9zM612 94h9v2h-9zM612 110h9v2h-9zM612 115h9v4h-9zM612 312h9v8h-9zM621 122h9v2h-9zM621 131h9v3h-9zM621 138h9v3h-9zM621 297h9v15h-9zM630 126h10v5h-10zM630 134h10v4h-10zM630 145h10v3h-10zM630 150h10v2h-10zM630 164h10v2h-10zM630 171h10v5h-10zM630 185h10v3h-10zM630 192h10v3h-10zM630 268h10v5h-10zM649 89h10v2h-10zM659 110h9v2h-9zM659 115h9v4h-9zM668 115h10v2h-10zM668 119h10v3h-10zM668 136h10v2h-10zM668 141h10v2h-10zM668 157h10v2h-10zM668 162h10v2h-10zM668 174h10v2h-10zM668 197h10v5h-10zM668 264h10v4h-10zM668 297h10v15h-10zM687 297h9v15h-9zM696 129h10v2h-10zM696 287h10v10h-10zM706 115h9v4h-9zM706 122h9v2h-9zM706 131h9v3h-9zM706 136h9v2h-9zM706 148h9v2h-9zM706 157h9v2h-9zM706 169h9v2h-9zM706 174h9v4h-9zM706 181h9v2h-9zM706 188h9v2h-9zM706 192h9v5h-9zM706 297h9v15h-9zM715 297h10v15h-10zM725 287h9v10h-9zM725 312h9v8h-9zM734 110h10v2h-10zM734 117h10v2h-10zM734 129h10v2h-10zM734 138h10v5h-10zM734 162h10v2h-10zM734 312h10v8h-10zM744 112h9v7h-9zM744 124h9v5h-9zM744 134h9v2h-9zM744 138h9v3h-9zM744 157h9v5h-9zM744 273h9v6h-9zM744 297h9v15h-9zM753 312h10v8h-10zM772 108h9v2h-9zM772 115h9v2h-9zM772 126h9v3h-9zM781 115h10v2h-10zM781 119h10v3h-10zM781 124h10v2h-10zM781 129h10v2h-10zM781 138h10v5h-10zM781 148h10v2h-10zM781 159h10v3h-10zM781 174h10v2h-10zM781 273h10v6h-10zM791 312h9v8h-9zM800 96h10v2h-10zM800 103h10v2h-10zM810 110h9v2h-9zM810 122h9v2h-9zM810 129h9v5h-9zM810 136h9v2h-9zM810 141h9v2h-9zM810 145h9v3h-9zM810 150h9v2h-9zM810 287h9v25h-9zM819 117h10v2h-10zM819 136h10v2h-10zM819 145h10v3h-10zM819 157h10v2h-10zM819 162h10v4h-10zM819 174h10v2h-10zM819 197h10v2h-10zM819 273h10v6h-10zM819 297h10v15h-10zM829 287h9v10h-9zM838 101h10v2h-10zM838 117h10v2h-10zM848 108h7v4h-7zM848 117h7v2h-7zM848 124h7v2h-7zM848 129h7v2h-7zM848 134h7v2h-7zM848 138h7v3h-7zM848 148h7v4h-7zM848 199h7v3h-7zM848 312h7v8h-7z"/>
<path fill="#0018ff" d="M135 122h4v2h-4zM135 181h4v2h-4zM139 155h10v2h-10zM139 174h10v2h-10zM149 61h9v2h-9zM149 77h9v5h-9zM149 86h9v3h-9zM158 117h10v2h-10zM158 155h10v2h-10zM158 228h10v2h-10zM168 124h9v2h-9zM168 134h9v2h-9zM168 164h9v2h-9zM168 181h9v2h-9zM168 235h9v2h-9zM168 273h9v6h-9zM177 178h10v3h-10zM177 197h10v2h-10zM187 91h9v3h-9zM187 98h9v3h-9zM196 117h9v2h-9zM205 141h10v2h-10zM205 148h10v4h-10zM205 155h10v2h-10zM205 192h10v3h-10zM215 129h9v2h-9zM234 108h9v4h-9zM234 117h9v5h-9zM234 126h9v3h-9zM234 145h9v3h-9zM234 150h9v2h-9zM243 136h10v7h-10zM243 242h10v2h-10zM253 157h9v2h-9zM253 162h9v2h-9zM253 178h9v3h-9zM253 202h9v2h-9zM272 110h9v2h-9zM272 129h9v2h-9zM272 223h9v2h-9zM281 108h9v2h-9zM281 126h9v3h-9zM281 164h9v7h-9zM281 181h9v4h-9zM281 211h9v3h-9zM290 136h10v2h-10zM290 162h10v2h-10zM290 181h10v2h-10zM290 202h10v2h-10zM300 58h9v3h-9zM300 65h9v3h-9zM300 75h9v2h-9zM309 157h10v2h-10zM319 115h9v2h-9zM319 126h9v3h-9zM319 141h9v2h-9zM319 209h9v2h-9zM328 122h10v2h-10zM328 150h10v2h-10zM328 197h10v2h-10zM338 68h9v2h-9zM347 98h10v3h-10zM347 112h10v3h-10zM347 119h10v3h-10zM347 126h10v3h-10zM357 157h9v2h-9zM357 171h9v3h-9zM357 214h9v2h-9zM357 223h9v2h-9zM366 176h9v2h-9zM366 195h9v2h-9zM375 58h10v3h-10zM385 115h9v4h-9zM394 134h10v4h-10zM394 150h10v2h-10zM394 195h10v2h-10zM394 273h10v6h-10zM404 150h9v2h-9zM423 91h9v3h-9zM423 122h9v4h-9zM423 131h9v3h-9zM432 143h10v2h-10zM432 159h10v3h-10zM432 199h10v3h-10zM432 204h10v3h-10zM432 239h10v3h-10zM442 164h9v2h-9zM460 84h10v5h-10zM460 101h10v2h-10zM460 115h10v2h-10zM460 122h10v2h-10zM460 126h10v3h-10zM470 138h9v5h-9zM470 192h9v3h-9zM470 202h9v2h-9zM479 129h10v2h-10zM479 155h10v2h-10zM479 171h10v3h-10zM489 58h9v3h-9zM489 65h9v3h-9zM498 96h10v2h-10zM498 117h10v2h-10zM508 117h9v2h-9zM508 129h9v2h-9zM508 134h9v2h-9zM508 150h9v2h-9zM508 164h9v2h-9zM517 138h10v3h-10zM517 169h10v2h-10zM517 181h10v2h-10zM517 195h10v2h-10zM536 77h9v2h-9zM536 98h9v3h-9zM536 103h9v2h-9zM545 115h10v2h-10zM545 138h10v5h-10zM545 195h10v2h-10zM545 242h10v2h-10zM545 264h10v4h-10zM545 273h10v6h-10zM555 110h9v2h-9zM555 155h9v2h-9zM555 169h9v2h-9zM564 70h10v2h-10zM564 279h10v8h-10zM574 82h9v4h-9zM574 94h9v2h-9zM574 110h9v2h-9zM583 126h10v3h-10zM583 162h10v2h-10zM583 169h10v2h-10zM583 209h10v2h-10zM583 216h10v2h-10zM593 129h9v2h-9zM593 159h9v3h-9zM593 164h9v5h-9zM593 199h9v3h-9zM602 68h10v7h-10zM602 82h10v2h-10zM602 98h10v3h-10zM612 105h9v3h-9zM612 112h9v3h-9zM612 122h9v2h-9zM621 115h9v2h-9zM621 134h9v2h-9zM621 141h9v4h-9zM621 150h9v2h-9zM621 155h9v2h-9zM621 195h9v2h-9zM621 273h9v6h-9zM630 155h10v2h-10zM630 169h10v2h-10zM630 188h10v2h-10zM630 197h10v2h-10zM640 61h9v2h-9zM649 91h10v5h-10zM649 115h10v2h-10zM649 287h10v10h-10zM659 126h9v8h-9zM659 138h9v3h-9zM659 155h9v2h-9zM659 195h9v2h-9zM659 211h9v7h-9zM668 126h10v3h-10zM668 138h10v3h-10zM668 181h10v2h-10zM678 58h9v3h-9zM678 63h9v2h-9zM687 86h9v5h-9zM687 117h9v2h-9zM687 129h9v2h-9zM687 134h9v2h-9zM696 98h10v3h-10zM696 131h10v3h-10zM696 145h10v3h-10zM706 119h9v3h-9zM706 124h9v2h-9zM734 152h10v3h-10zM734 171h10v3h-10zM734 181h10v2h-10zM734 195h10v2h-10zM734 216h10v2h-10zM734 237h10v2h-10zM744 141h9v2h-9zM744 148h9v2h-9zM744 197h9v2h-9zM753 58h10v5h-10zM763 105h9v5h-9zM772 112h9v3h-9zM772 131h9v3h-9zM772 143h9v2h-9zM772 197h9v2h-9zM781 122h10v2h-10zM781 145h10v3h-10zM781 155h10v2h-10zM781 197h10v2h-10zM791 58h9v3h-9zM800 101h10v2h-10zM800 115h10v7h-10zM800 155h10v2h-10zM810 124h9v5h-9zM810 152h9v3h-9zM810 166h9v3h-9zM810 171h9v3h-9zM810 211h9v3h-9zM819 129h10v2h-10zM819 159h10v3h-10zM838 98h10v3h-10zM838 124h10v2h-10zM838 131h10v3h-10zM848 195h7v2h-7zM848 207h7v2h-7zM848 211h7v3h-7z"/>
<path fill="#0028ff" d="M135 176h4v5h-4zM135 264h4v4h-4zM149 65h9v5h-9zM149 84h9v2h-9zM149 89h9v2h-9zM149 264h9v4h-9zM158 124h10v2h-10zM158 129h10v2h-10zM158 134h10v2h-10zM158 141h10v4h-10zM158 150h10v5h-10zM158 157h10v2h-10zM158 225h10v3h-10zM158 246h10v5h-10zM168 159h9v5h-9zM168 166h9v3h-9zM168 171h9v3h-9zM168 178h9v3h-9zM168 192h9v3h-9zM168 202h9v5h-9zM168 221h9v2h-9zM168 230h9v5h-9zM177 202h10v2h-10zM177 214h10v2h-10zM177 218h10v3h-10zM177 264h10v4h-10zM187 61h9v4h-9zM187 68h9v2h-9zM187 77h9v2h-9zM187 82h9v2h-9zM187 86h9v5h-9zM187 101h9v4h-9zM187 264h9v4h-9zM196 119h9v10h-9zM196 134h9v2h-9zM196 138h9v5h-9zM196 223h9v2h-9zM205 152h10v3h-10zM205 159h10v5h-10zM205 169h10v5h-10zM205 188h10v2h-10zM205 195h10v7h-10zM205 204h10v5h-10zM205 214h10v2h-10zM205 244h10v2h-10zM205 264h10v9h-10zM224 75h10v7h-10zM224 84h10v2h-10zM224 89h10v2h-10zM224 264h10v4h-10zM234 124h9v2h-9zM234 131h9v3h-9zM234 136h9v5h-9zM234 143h9v2h-9zM234 152h9v7h-9zM234 237h9v7h-9zM234 260h9v4h-9zM243 143h10v7h-10zM243 152h10v3h-10zM243 157h10v5h-10zM243 164h10v2h-10zM243 171h10v3h-10zM243 188h10v4h-10zM243 195h10v4h-10zM243 235h10v2h-10zM243 273h10v6h-10zM253 204h9v3h-9zM262 63h10v2h-10zM262 68h10v7h-10zM262 79h10v3h-10zM262 264h10v4h-10zM272 131h9v5h-9zM272 138h9v5h-9zM272 145h9v3h-9zM272 152h9v5h-9zM272 216h9v2h-9zM272 230h9v2h-9zM272 264h9v4h-9zM272 279h9v8h-9zM281 171h9v3h-9zM281 176h9v2h-9zM281 192h9v3h-9zM281 202h9v2h-9zM281 207h9v4h-9zM281 216h9v5h-9zM281 239h9v5h-9zM281 264h9v4h-9zM281 273h9v6h-9zM290 207h10v2h-10zM300 77h9v2h-9zM309 117h10v7h-10zM309 126h10v8h-10zM309 136h10v9h-10zM309 237h10v7h-10zM309 279h10v8h-10zM319 119h9v3h-9zM319 124h9v2h-9zM319 129h9v5h-9zM319 136h9v2h-9zM319 143h9v5h-9zM319 150h9v2h-9zM319 155h9v2h-9zM319 162h9v2h-9zM319 166h9v3h-9zM319 207h9v2h-9zM319 211h9v7h-9zM319 221h9v2h-9zM319 228h9v2h-9zM319 268h9v11h-9zM328 264h10v4h-10zM338 61h9v2h-9zM338 65h9v3h-9zM338 70h9v5h-9zM338 77h9v2h-9zM338 89h9v2h-9zM338 264h9v4h-9zM347 117h10v2h-10zM347 129h10v2h-10zM347 136h10v2h-10zM347 239h10v5h-10zM357 143h9v2h-9zM357 155h9v2h-9zM357 164h9v5h-9zM357 192h9v3h-9zM357 197h9v5h-9zM357 204h9v5h-9zM357 211h9v3h-9zM357 216h9v5h-9zM357 228h9v2h-9zM357 264h9v4h-9zM375 61h10v2h-10zM375 65h10v5h-10zM375 77h10v2h-10zM375 264h10v4h-10zM375 279h10v8h-10zM385 129h9v2h-9zM385 244h9v2h-9zM385 257h9v3h-9zM394 143h10v2h-10zM394 197h10v7h-10zM394 209h10v9h-10zM394 264h10v4h-10zM404 134h9v2h-9zM404 202h9v2h-9zM413 58h10v3h-10zM413 63h10v9h-10zM413 82h10v2h-10zM413 86h10v3h-10zM413 264h10v4h-10zM423 105h9v3h-9zM423 117h9v5h-9zM432 150h10v2h-10zM432 155h10v2h-10zM432 166h10v5h-10zM432 195h10v2h-10zM432 207h10v4h-10zM432 216h10v5h-10zM442 199h9v3h-9zM451 61h9v2h-9zM451 264h9v4h-9zM451 279h9v8h-9zM460 89h10v5h-10zM460 96h10v2h-10zM460 105h10v5h-10zM460 112h10v3h-10zM460 119h10v3h-10zM460 129h10v2h-10zM460 136h10v2h-10zM460 143h10v2h-10zM460 150h10v2h-10zM470 145h9v5h-9zM470 152h9v3h-9zM470 157h9v7h-9zM470 171h9v3h-9zM470 188h9v2h-9zM470 209h9v2h-9zM470 216h9v2h-9zM470 273h9v6h-9zM479 199h10v3h-10zM479 264h10v4h-10zM489 68h9v7h-9zM489 79h9v3h-9zM489 86h9v3h-9zM489 91h9v3h-9zM489 264h9v4h-9zM498 108h10v2h-10zM498 119h10v7h-10zM508 126h9v3h-9zM508 131h9v3h-9zM508 136h9v2h-9zM508 141h9v2h-9zM508 145h9v5h-9zM508 162h9v2h-9zM508 166h9v3h-9zM508 273h9v6h-9zM517 148h10v2h-10zM517 264h10v4h-10zM527 58h9v7h-9zM536 75h9v2h-9zM536 79h9v3h-9zM536 96h9v2h-9zM536 101h9v2h-9zM536 105h9v5h-9zM545 145h10v10h-10zM545 162h10v2h-10zM545 169h10v2h-10zM545 197h10v2h-10zM545 207h10v2h-10zM545 211h10v3h-10zM545 216h10v2h-10zM545 244h10v2h-10zM564 61h10v9h-10zM574 86h9v5h-9zM574 96h9v2h-9zM574 108h9v2h-9zM574 112h9v5h-9zM583 152h10v3h-10zM583 157h10v2h-10zM583 188h10v2h-10zM583 195h10v2h-10zM583 199h10v3h-10zM583 225h10v3h-10zM583 237h10v5h-10zM602 61h10v7h-10zM602 77h10v2h-10zM602 86h10v5h-10zM602 94h10v4h-10zM612 119h9v3h-9zM612 129h9v5h-9zM612 136h9v2h-9zM612 244h9v2h-9zM621 159h9v5h-9zM621 166h9v3h-9zM621 197h9v7h-9zM621 207h9v9h-9zM621 239h9v5h-9zM630 195h10v2h-10zM630 264h10v4h-10zM640 63h9v2h-9zM640 68h9v2h-9zM640 72h9v3h-9zM640 77h9v12h-9zM640 279h9v8h-9zM649 96h10v2h-10zM649 101h10v4h-10zM659 134h9v2h-9zM659 141h9v11h-9zM659 159h9v3h-9zM659 199h9v5h-9zM659 209h9v2h-9zM659 264h9v4h-9zM668 164h10v7h-10zM668 176h10v5h-10zM678 61h9v2h-9zM678 72h9v3h-9zM678 77h9v7h-9zM687 94h9v4h-9zM687 101h9v2h-9zM687 105h9v7h-9zM687 119h9v3h-9zM687 124h9v5h-9zM687 244h9v2h-9zM687 279h9v8h-9zM696 141h10v4h-10zM696 148h10v2h-10zM696 157h10v5h-10zM696 164h10v2h-10zM696 169h10v2h-10zM696 273h10v6h-10zM706 197h9v2h-9zM715 58h10v7h-10zM725 279h9v8h-9zM734 143h10v2h-10zM734 164h10v5h-10zM734 174h10v2h-10zM734 183h10v2h-10zM734 188h10v2h-10zM734 192h10v3h-10zM734 197h10v2h-10zM734 204h10v3h-10zM734 209h10v2h-10zM734 214h10v2h-10zM734 223h10v2h-10zM734 242h10v2h-10zM744 199h9v3h-9zM753 63h10v2h-10zM753 279h10v8h-10zM763 103h9v2h-9zM763 115h9v4h-9zM772 136h9v5h-9zM772 152h9v3h-9zM772 159h9v5h-9zM772 166h9v3h-9zM772 188h9v4h-9zM772 199h9v3h-9zM772 209h9v5h-9zM772 216h9v2h-9zM772 264h9v4h-9zM772 273h9v6h-9zM781 199h10v3h-10zM781 264h10v4h-10zM791 61h9v2h-9zM791 65h9v3h-9zM791 70h9v5h-9zM791 77h9v5h-9zM791 84h9v2h-9zM791 89h9v2h-9zM800 169h10v2h-10zM800 279h10v8h-10zM810 155h9v2h-9zM810 159h9v3h-9zM810 169h9v2h-9zM810 174h9v2h-9zM810 178h9v3h-9zM810 188h9v2h-9zM810 195h9v7h-9zM810 204h9v7h-9zM810 214h9v2h-9zM810 237h9v7h-9zM829 68h9v2h-9zM829 72h9v5h-9zM829 279h9v8h-9zM838 105h10v3h-10zM838 110h10v7h-10zM838 119h10v5h-10zM838 129h10v2h-10zM838 134h10v2h-10zM848 152h7v12h-7zM848 169h7v5h-7zM848 176h7v7h-7zM848 188h7v2h-7zM848 192h7v3h-7zM848 197h7v2h-7zM848 209h7v2h-7zM848 221h7v2h-7zM848 273h7v6h-7z"/>
<path fill="#0048ff" d="M135 183h4v5h-4zM135 197h4v2h-4zM135 207h4v2h-4zM135 216h4v5h-4zM135 228h4v2h-4zM139 197h10v2h-10zM139 202h10v2h-10zM149 119h9v3h-9zM149 242h9v2h-9zM158 159h10v10h-10zM158 192h10v3h-10zM158 207h10v2h-10zM158 218h10v3h-10zM168 207h9v2h-9zM168 211h9v3h-9zM168 216h9v2h-9zM168 225h9v3h-9zM168 237h9v2h-9zM177 204h10v3h-10zM187 58h9v3h-9zM187 72h9v3h-9zM187 79h9v3h-9zM187 94h9v4h-9zM187 122h9v2h-9zM196 131h9v3h-9zM196 145h9v3h-9zM196 150h9v2h-9zM196 155h9v2h-9zM196 166h9v3h-9zM196 185h9v3h-9zM196 207h9v2h-9zM196 218h9v3h-9zM196 235h9v2h-9zM196 244h9v2h-9zM196 251h9v3h-9zM196 264h9v4h-9zM205 174h10v2h-10zM205 190h10v2h-10zM205 211h10v3h-10zM205 218h10v5h-10zM205 230h10v2h-10zM215 211h9v3h-9zM215 218h9v3h-9zM215 239h9v3h-9zM224 91h10v5h-10zM224 126h10v3h-10zM234 122h9v2h-9zM234 129h9v2h-9zM234 159h9v12h-9zM234 223h9v2h-9zM234 232h9v3h-9zM234 244h9v2h-9zM243 169h10v2h-10zM243 181h10v2h-10zM243 185h10v3h-10zM243 202h10v5h-10zM243 214h10v4h-10zM243 221h10v2h-10zM243 230h10v5h-10zM243 237h10v2h-10zM243 244h10v2h-10zM253 209h9v2h-9zM253 214h9v4h-9zM262 77h10v2h-10zM262 82h10v4h-10zM262 94h10v2h-10zM262 115h10v2h-10zM262 134h10v2h-10zM262 143h10v2h-10zM262 214h10v2h-10zM262 237h10v2h-10zM262 242h10v2h-10zM272 150h9v2h-9zM272 211h9v3h-9zM272 221h9v2h-9zM272 228h9v2h-9zM272 235h9v4h-9zM272 242h9v2h-9zM281 178h9v3h-9zM281 185h9v3h-9zM281 223h9v5h-9zM281 230h9v5h-9zM281 248h9v3h-9zM290 204h10v3h-10zM290 211h10v7h-10zM290 237h10v2h-10zM300 68h9v2h-9zM300 84h9v2h-9zM300 89h9v2h-9zM300 96h9v2h-9zM300 225h9v3h-9zM300 242h9v2h-9zM309 145h10v3h-10zM309 152h10v5h-10zM309 159h10v5h-10zM309 195h10v2h-10zM309 248h10v3h-10zM319 159h9v3h-9zM319 171h9v5h-9zM319 188h9v2h-9zM319 195h9v2h-9zM319 202h9v2h-9zM319 232h9v3h-9zM328 199h10v3h-10zM338 79h9v3h-9zM338 91h9v3h-9zM338 96h9v2h-9zM338 119h9v5h-9zM338 131h9v3h-9zM338 141h9v2h-9zM347 150h10v2h-10zM347 174h10v2h-10zM347 207h10v2h-10zM347 211h10v3h-10zM347 237h10v2h-10zM347 254h10v3h-10zM357 145h9v3h-9zM357 169h9v2h-9zM357 185h9v5h-9zM357 221h9v2h-9zM357 244h9v2h-9zM366 237h9v2h-9zM375 70h10v2h-10zM375 84h10v2h-10zM375 98h10v3h-10zM385 122h9v2h-9zM385 143h9v2h-9zM385 216h9v2h-9zM385 239h9v3h-9zM394 157h10v7h-10zM394 185h10v5h-10zM394 207h10v2h-10zM394 218h10v3h-10zM394 225h10v3h-10zM413 61h10v2h-10zM413 77h10v2h-10zM413 94h10v2h-10zM413 105h10v3h-10zM413 129h10v2h-10zM413 134h10v2h-10zM423 115h9v2h-9zM423 129h9v2h-9zM423 134h9v2h-9zM432 148h10v2h-10zM432 164h10v2h-10zM432 183h10v5h-10zM432 192h10v3h-10zM432 197h10v2h-10zM432 225h10v3h-10zM432 235h10v4h-10zM442 202h9v2h-9zM442 207h9v2h-9zM451 58h9v3h-9zM460 138h10v3h-10zM460 155h10v2h-10zM460 188h10v2h-10zM470 155h9v2h-9zM470 181h9v2h-9zM470 197h9v2h-9zM470 204h9v3h-9zM470 214h9v2h-9zM470 235h9v2h-9zM489 63h9v2h-9zM489 77h9v2h-9zM489 96h9v2h-9zM489 117h9v5h-9zM489 126h9v3h-9zM489 134h9v2h-9zM498 138h10v3h-10zM498 152h10v3h-10zM498 157h10v7h-10zM498 192h10v3h-10zM498 225h10v3h-10zM508 138h9v3h-9zM508 143h9v2h-9zM508 157h9v2h-9zM508 171h9v3h-9zM508 185h9v3h-9zM508 214h9v2h-9zM527 70h9v2h-9zM527 79h9v3h-9zM527 96h9v5h-9zM527 112h9v3h-9zM527 124h9v5h-9zM527 131h9v3h-9zM527 242h9v2h-9zM527 279h9v8h-9zM536 84h9v2h-9zM536 94h9v2h-9zM536 115h9v4h-9zM545 159h10v3h-10zM545 174h10v7h-10zM545 185h10v3h-10zM545 202h10v5h-10zM545 232h10v5h-10zM545 239h10v3h-10zM555 202h9v2h-9zM555 242h9v2h-9zM564 79h10v3h-10zM564 136h10v2h-10zM574 98h9v3h-9zM574 134h9v2h-9zM574 214h9v2h-9zM574 230h9v2h-9zM583 174h10v2h-10zM583 178h10v3h-10zM583 207h10v2h-10zM583 214h10v2h-10zM583 232h10v3h-10zM593 204h9v3h-9zM602 103h10v5h-10zM602 110h10v5h-10zM602 122h10v2h-10zM602 126h10v3h-10zM612 141h9v2h-9zM612 176h9v2h-9zM612 181h9v4h-9zM612 199h9v3h-9zM612 211h9v5h-9zM612 228h9v2h-9zM612 239h9v3h-9zM621 148h9v2h-9zM621 157h9v2h-9zM621 164h9v2h-9zM621 169h9v5h-9zM621 176h9v2h-9zM621 190h9v5h-9zM621 218h9v3h-9zM621 223h9v5h-9zM621 230h9v2h-9zM621 235h9v2h-9zM640 91h9v3h-9zM640 96h9v5h-9zM640 124h9v2h-9zM640 129h9v2h-9zM649 98h10v3h-10zM649 134h10v2h-10zM649 164h10v2h-10zM649 232h10v3h-10zM649 237h10v2h-10zM659 162h9v2h-9zM659 166h9v3h-9zM659 178h9v5h-9zM659 197h9v2h-9zM659 207h9v2h-9zM659 221h9v4h-9zM659 232h9v5h-9zM659 268h9v5h-9zM668 202h10v2h-10zM668 207h10v2h-10zM678 65h9v3h-9zM678 70h9v2h-9zM678 96h9v2h-9zM678 264h9v4h-9zM687 103h9v2h-9zM687 112h9v3h-9zM687 136h9v2h-9zM687 141h9v2h-9zM687 202h9v2h-9zM696 136h10v2h-10zM696 150h10v2h-10zM696 178h10v3h-10zM696 199h10v3h-10zM696 211h10v3h-10zM696 230h10v2h-10zM706 202h9v2h-9zM715 65h10v3h-10zM715 72h10v3h-10zM715 82h10v2h-10zM715 122h10v2h-10zM725 157h9v2h-9zM725 176h9v2h-9zM725 207h9v2h-9zM725 239h9v3h-9zM734 145h10v3h-10zM734 159h10v3h-10zM734 176h10v2h-10zM734 185h10v3h-10zM734 225h10v3h-10zM734 230h10v2h-10zM744 176h9v2h-9zM753 65h10v7h-10zM753 98h10v3h-10zM753 112h10v3h-10zM753 126h10v3h-10zM763 124h9v10h-9zM763 155h9v2h-9zM763 171h9v3h-9zM763 192h9v3h-9zM763 214h9v2h-9zM763 244h9v2h-9zM772 148h9v2h-9zM772 174h9v2h-9zM772 178h9v3h-9zM772 192h9v3h-9zM772 204h9v5h-9zM772 214h9v2h-9zM772 218h9v7h-9zM772 232h9v3h-9zM772 244h9v2h-9zM781 202h10v2h-10zM791 96h9v2h-9zM791 105h9v3h-9zM791 117h9v2h-9zM791 131h9v3h-9zM800 129h10v5h-10zM800 152h10v3h-10zM800 171h10v5h-10zM800 178h10v3h-10zM800 185h10v5h-10zM800 197h10v2h-10zM810 181h9v2h-9zM810 202h9v2h-9zM810 235h9v2h-9zM819 239h10v3h-10zM829 77h9v2h-9zM829 91h9v3h-9zM829 235h9v2h-9zM838 108h10v2h-10zM838 136h10v2h-10zM838 181h10v2h-10zM838 190h10v2h-10zM838 204h10v3h-10zM838 244h10v2h-10zM838 248h10v3h-10zM848 164h7v2h-7zM848 174h7v2h-7zM848 183h7v2h-7zM848 204h7v3h-7zM848 218h7v3h-7zM848 223h7v5h-7zM848 244h7v2h-7z"/>
<path fill="#0058ff" d="M135 188h4v2h-4zM135 202h4v5h-4zM135 209h4v5h-4zM135 235h4v4h-4zM139 211h10v3h-10zM149 58h9v3h-9zM149 91h9v5h-9zM149 98h9v3h-9zM149 103h9v2h-9zM149 110h9v2h-9zM149 117h9v2h-9zM149 124h9v5h-9zM149 136h9v2h-9zM149 237h9v2h-9zM149 279h9v8h-9zM158 199h10v3h-10zM158 209h10v2h-10zM158 216h10v2h-10zM158 223h10v2h-10zM158 230h10v5h-10zM158 239h10v3h-10zM158 254h10v3h-10zM158 279h10v8h-10zM168 169h9v2h-9zM168 214h9v2h-9zM168 218h9v3h-9zM168 246h9v5h-9zM168 268h9v5h-9zM177 221h10v2h-10zM177 225h10v3h-10zM177 230h10v2h-10zM177 239h10v3h-10zM187 105h9v5h-9zM187 112h9v7h-9zM187 131h9v5h-9zM187 138h9v3h-9zM187 145h9v3h-9zM187 237h9v2h-9zM196 152h9v3h-9zM196 159h9v3h-9zM196 164h9v2h-9zM196 174h9v2h-9zM196 178h9v5h-9zM196 188h9v2h-9zM196 195h9v2h-9zM196 199h9v3h-9zM196 225h9v3h-9zM196 230h9v2h-9zM196 246h9v5h-9zM196 257h9v3h-9zM196 279h9v8h-9zM205 166h10v3h-10zM205 178h10v3h-10zM205 183h10v5h-10zM205 242h10v2h-10zM205 251h10v3h-10zM215 204h9v3h-9zM215 209h9v2h-9zM215 235h9v2h-9zM224 72h10v3h-10zM224 96h10v7h-10zM224 124h10v2h-10zM224 136h10v2h-10zM224 141h10v7h-10zM224 235h10v2h-10zM224 279h10v8h-10zM234 171h9v3h-9zM234 178h9v5h-9zM234 197h9v10h-9zM234 225h9v3h-9zM234 246h9v2h-9zM243 183h10v2h-10zM243 223h10v7h-10zM243 248h10v3h-10zM253 211h9v3h-9zM262 91h10v3h-10zM262 96h10v5h-10zM262 110h10v2h-10zM262 119h10v10h-10zM262 141h10v2h-10zM262 145h10v3h-10zM262 230h10v2h-10zM262 239h10v3h-10zM272 162h9v2h-9zM272 169h9v5h-9zM272 176h9v2h-9zM272 185h9v3h-9zM272 192h9v5h-9zM272 202h9v9h-9zM272 214h9v2h-9zM272 248h9v9h-9zM272 260h9v4h-9zM281 228h9v2h-9zM281 251h9v3h-9zM290 209h10v2h-10zM290 239h10v3h-10zM300 82h9v2h-9zM300 86h9v3h-9zM300 91h9v3h-9zM300 98h9v3h-9zM300 145h9v5h-9zM309 171h10v5h-10zM309 181h10v7h-10zM309 192h10v3h-10zM309 202h10v2h-10zM309 214h10v2h-10zM309 221h10v2h-10zM309 232h10v3h-10zM319 178h9v3h-9zM319 190h9v2h-9zM319 197h9v5h-9zM319 230h9v2h-9zM319 235h9v7h-9zM319 246h9v5h-9zM328 202h10v2h-10zM338 75h9v2h-9zM338 94h9v2h-9zM338 108h9v2h-9zM338 115h9v2h-9zM338 126h9v5h-9zM338 136h9v2h-9zM338 145h9v3h-9zM338 242h9v2h-9zM347 145h10v5h-10zM347 155h10v2h-10zM347 166h10v8h-10zM347 178h10v3h-10zM347 185h10v7h-10zM347 199h10v3h-10zM347 209h10v2h-10zM347 214h10v2h-10zM347 223h10v14h-10zM347 257h10v3h-10zM357 174h9v4h-9zM357 181h9v4h-9zM357 235h9v2h-9zM357 242h9v2h-9zM357 251h9v3h-9zM366 204h9v3h-9zM366 209h9v2h-9zM375 79h10v3h-10zM375 91h10v5h-10zM375 237h10v5h-10zM385 126h9v3h-9zM385 134h9v2h-9zM385 138h9v5h-9zM385 145h9v3h-9zM385 152h9v10h-9zM385 169h9v5h-9zM385 199h9v3h-9zM385 211h9v5h-9zM385 230h9v7h-9zM385 246h9v2h-9zM385 251h9v3h-9zM394 164h10v5h-10zM394 171h10v3h-10zM394 178h10v5h-10zM394 223h10v2h-10zM394 237h10v5h-10zM394 246h10v2h-10zM394 251h10v3h-10zM413 98h10v3h-10zM413 108h10v4h-10zM413 122h10v2h-10zM413 126h10v3h-10zM413 131h10v3h-10zM423 169h9v2h-9zM423 235h9v2h-9zM423 239h9v3h-9zM423 246h9v2h-9zM423 257h9v3h-9zM432 145h10v3h-10zM432 178h10v5h-10zM432 223h10v2h-10zM432 246h10v2h-10zM442 204h9v3h-9zM451 70h9v2h-9zM451 77h9v2h-9zM451 82h9v2h-9zM451 89h9v2h-9zM451 181h9v2h-9zM460 98h10v3h-10zM460 159h10v7h-10zM460 178h10v3h-10zM460 183h10v5h-10zM460 190h10v7h-10zM460 211h10v3h-10zM460 216h10v5h-10zM460 225h10v3h-10zM460 232h10v3h-10zM460 242h10v2h-10zM470 178h9v3h-9zM470 183h9v5h-9zM470 223h9v2h-9zM470 230h9v2h-9zM470 237h9v5h-9zM470 244h9v2h-9zM470 268h9v5h-9zM479 202h10v2h-10zM479 207h10v2h-10zM489 94h9v2h-9zM489 98h9v3h-9zM489 103h9v7h-9zM489 112h9v3h-9zM489 124h9v2h-9zM489 129h9v2h-9zM489 136h9v2h-9zM489 237h9v7h-9zM498 129h10v5h-10zM498 148h10v2h-10zM498 169h10v5h-10zM498 199h10v8h-10zM498 209h10v2h-10zM498 228h10v2h-10zM498 239h10v5h-10zM498 264h10v4h-10zM508 174h9v7h-9zM508 192h9v3h-9zM508 211h9v3h-9zM508 223h9v5h-9zM508 237h9v2h-9zM508 248h9v3h-9zM517 199h10v3h-10zM517 244h10v2h-10zM527 68h9v2h-9zM527 72h9v3h-9zM527 77h9v2h-9zM527 84h9v5h-9zM527 94h9v2h-9zM527 103h9v2h-9zM527 110h9v2h-9zM527 115h9v7h-9zM527 129h9v2h-9zM527 136h9v2h-9zM527 239h9v3h-9zM536 119h9v3h-9zM536 129h9v5h-9zM536 141h9v2h-9zM536 145h9v5h-9zM536 152h9v3h-9zM536 157h9v2h-9zM536 190h9v7h-9zM536 204h9v7h-9zM536 225h9v3h-9zM536 239h9v3h-9zM536 248h9v3h-9zM536 257h9v3h-9zM536 279h9v8h-9zM545 183h10v2h-10zM545 221h10v7h-10zM545 230h10v2h-10zM545 246h10v2h-10zM545 268h10v5h-10zM555 237h9v5h-9zM564 82h10v7h-10zM564 98h10v5h-10zM564 131h10v5h-10zM564 239h10v5h-10zM564 260h10v4h-10zM574 117h9v2h-9zM574 122h9v4h-9zM574 136h9v2h-9zM574 143h9v5h-9zM574 159h9v3h-9zM574 166h9v5h-9zM574 178h9v10h-9zM574 190h9v2h-9zM574 197h9v2h-9zM574 202h9v7h-9zM574 211h9v3h-9zM574 216h9v2h-9zM574 223h9v7h-9zM574 242h9v2h-9zM574 248h9v6h-9zM574 264h9v4h-9zM583 171h10v3h-10zM583 183h10v5h-10zM583 223h10v2h-10zM583 228h10v2h-10zM583 246h10v5h-10zM583 268h10v5h-10zM593 207h9v2h-9zM602 108h10v2h-10zM602 119h10v3h-10zM602 124h10v2h-10zM602 129h10v2h-10zM602 239h10v3h-10zM612 138h9v3h-9zM612 143h9v5h-9zM612 174h9v2h-9zM612 185h9v3h-9zM612 192h9v3h-9zM612 202h9v2h-9zM612 209h9v2h-9zM612 225h9v3h-9zM612 248h9v3h-9zM612 264h9v4h-9zM621 174h9v2h-9zM621 178h9v3h-9zM621 183h9v2h-9zM621 228h9v2h-9zM621 232h9v3h-9zM621 246h9v2h-9zM621 268h9v5h-9zM630 202h10v2h-10zM630 207h10v2h-10zM640 70h9v2h-9zM640 75h9v2h-9zM640 117h9v5h-9zM640 131h9v3h-9zM640 242h9v2h-9zM640 264h9v4h-9zM649 129h10v5h-10zM649 136h10v2h-10zM649 141h10v9h-10zM649 169h10v2h-10zM649 195h10v2h-10zM649 202h10v2h-10zM649 207h10v4h-10zM649 214h10v2h-10zM649 218h10v5h-10zM649 225h10v3h-10zM649 230h10v2h-10zM649 246h10v2h-10zM649 254h10v10h-10zM649 279h10v8h-10zM659 171h9v3h-9zM659 176h9v2h-9zM659 183h9v7h-9zM659 225h9v3h-9zM659 230h9v2h-9zM659 239h9v5h-9zM659 248h9v6h-9zM678 91h9v5h-9zM678 98h9v5h-9zM678 105h9v3h-9zM678 239h9v3h-9zM687 148h9v7h-9zM687 162h9v4h-9zM687 190h9v5h-9zM687 199h9v3h-9zM687 211h9v3h-9zM687 221h9v7h-9zM687 246h9v8h-9zM687 257h9v3h-9zM687 264h9v4h-9zM696 176h10v2h-10zM696 185h10v3h-10zM696 192h10v3h-10zM696 197h10v2h-10zM696 216h10v2h-10zM696 225h10v3h-10zM696 237h10v2h-10zM696 246h10v8h-10zM706 199h9v3h-9zM715 79h10v3h-10zM715 84h10v7h-10zM715 94h10v2h-10zM715 98h10v7h-10zM715 112h10v3h-10zM715 126h10v3h-10zM715 134h10v2h-10zM715 242h10v2h-10zM715 264h10v4h-10zM725 105h9v3h-9zM725 155h9v2h-9zM725 159h9v3h-9zM725 166h9v3h-9zM725 178h9v7h-9zM725 188h9v7h-9zM725 197h9v2h-9zM725 204h9v3h-9zM725 209h9v5h-9zM725 216h9v5h-9zM725 225h9v3h-9zM725 235h9v4h-9zM725 246h9v2h-9zM725 254h9v6h-9zM725 264h9v4h-9zM734 228h10v2h-10zM734 246h10v2h-10zM734 251h10v3h-10zM744 174h9v2h-9zM744 204h9v5h-9zM753 75h10v7h-10zM753 86h10v5h-10zM753 96h10v2h-10zM753 105h10v3h-10zM753 134h10v2h-10zM763 134h9v2h-9zM763 145h9v7h-9zM763 157h9v9h-9zM763 169h9v2h-9zM763 174h9v2h-9zM763 195h9v4h-9zM763 204h9v3h-9zM763 209h9v2h-9zM763 216h9v2h-9zM763 230h9v7h-9zM763 239h9v3h-9zM763 246h9v8h-9zM763 260h9v4h-9zM772 181h9v2h-9zM772 185h9v3h-9zM772 230h9v2h-9zM781 237h10v2h-10zM791 108h9v2h-9zM791 129h9v2h-9zM791 134h9v4h-9zM791 244h9v2h-9zM800 138h10v3h-10zM800 145h10v3h-10zM800 150h10v2h-10zM800 199h10v5h-10zM800 211h10v3h-10zM800 216h10v2h-10zM800 225h10v3h-10zM800 235h10v4h-10zM800 248h10v6h-10zM810 223h9v9h-9zM810 246h9v2h-9zM810 268h9v5h-9zM819 202h10v7h-10zM819 237h10v2h-10zM819 242h10v4h-10zM829 84h9v5h-9zM829 98h9v3h-9zM829 103h9v2h-9zM829 117h9v2h-9zM829 122h9v2h-9zM829 134h9v2h-9zM829 239h9v3h-9zM829 264h9v4h-9zM838 138h10v12h-10zM838 152h10v3h-10zM838 159h10v5h-10zM838 169h10v5h-10zM838 192h10v3h-10zM838 197h10v2h-10zM838 211h10v5h-10zM838 225h10v3h-10zM838 235h10v4h-10zM838 242h10v2h-10zM838 260h10v8h-10zM848 228h7v2h-7zM848 232h7v3h-7zM848 237h7v2h-7zM848 248h7v3h-7zM848 268h7v5h-7z"/>
<path fill="#0068ff" d="M135 190h4v7h-4zM135 199h4v3h-4zM135 221h4v2h-4zM135 225h4v3h-4zM135 232h4v3h-4zM135 239h4v3h-4zM135 244h4v2h-4zM135 268h4v11h-4zM139 204h10v5h-10zM139 235h10v2h-10zM149 96h9v2h-9zM149 101h9v2h-9zM149 105h9v3h-9zM149 115h9v2h-9zM149 129h9v5h-9zM149 235h9v2h-9zM149 244h9v2h-9zM158 174h10v2h-10zM158 178h10v5h-10zM158 185h10v7h-10zM158 197h10v2h-10zM158 211h10v5h-10zM158 221h10v2h-10zM158 235h10v4h-10zM158 242h10v2h-10zM158 257h10v3h-10zM168 251h9v3h-9zM177 232h10v3h-10zM177 237h10v2h-10zM177 242h10v2h-10zM187 110h9v2h-9zM187 119h9v3h-9zM187 124h9v7h-9zM187 136h9v2h-9zM187 143h9v2h-9zM187 148h9v4h-9zM187 216h9v2h-9zM187 223h9v2h-9zM187 239h9v3h-9zM187 244h9v2h-9zM187 279h9v8h-9zM196 157h9v2h-9zM196 162h9v2h-9zM196 169h9v5h-9zM196 176h9v2h-9zM196 183h9v2h-9zM196 190h9v5h-9zM196 197h9v2h-9zM196 202h9v2h-9zM196 209h9v2h-9zM196 228h9v2h-9zM196 254h9v3h-9zM205 181h10v2h-10zM205 232h10v10h-10zM205 246h10v5h-10zM215 214h9v2h-9zM215 221h9v2h-9zM215 244h9v2h-9zM224 122h10v2h-10zM224 131h10v5h-10zM224 138h10v3h-10zM224 148h10v7h-10zM224 230h10v2h-10zM224 244h10v2h-10zM234 174h9v4h-9zM234 183h9v12h-9zM234 211h9v5h-9zM234 218h9v3h-9zM234 228h9v4h-9zM234 248h9v3h-9zM234 254h9v6h-9zM234 264h9v4h-9zM243 246h10v2h-10zM243 268h10v5h-10zM253 232h9v5h-9zM253 244h9v2h-9zM262 101h10v2h-10zM262 105h10v5h-10zM262 112h10v3h-10zM262 129h10v2h-10zM262 136h10v5h-10zM262 148h10v2h-10zM262 155h10v2h-10zM262 216h10v2h-10zM262 221h10v4h-10zM262 235h10v2h-10zM262 244h10v2h-10zM272 166h9v3h-9zM272 181h9v2h-9zM272 199h9v3h-9zM272 239h9v3h-9zM272 246h9v2h-9zM272 257h9v3h-9zM281 246h9v2h-9zM290 235h10v2h-10zM300 94h9v2h-9zM300 138h9v5h-9zM300 228h9v14h-9zM300 244h9v2h-9zM309 164h10v7h-10zM309 176h10v5h-10zM309 188h10v4h-10zM309 204h10v10h-10zM309 216h10v5h-10zM309 246h10v2h-10zM309 257h10v3h-10zM319 185h9v3h-9zM319 251h9v3h-9zM328 204h10v3h-10zM328 244h10v2h-10zM338 98h9v7h-9zM338 110h9v5h-9zM338 124h9v2h-9zM338 134h9v2h-9zM338 138h9v3h-9zM338 143h9v2h-9zM338 148h9v2h-9zM338 232h9v3h-9zM338 237h9v5h-9zM347 152h10v3h-10zM347 159h10v7h-10zM347 176h10v2h-10zM347 192h10v7h-10zM347 202h10v5h-10zM347 216h10v7h-10zM347 246h10v2h-10zM347 251h10v3h-10zM347 264h10v4h-10zM357 237h9v2h-9zM357 246h9v5h-9zM357 268h9v5h-9zM366 202h9v2h-9zM366 207h9v2h-9zM366 235h9v2h-9zM366 239h9v3h-9zM375 86h10v3h-10zM375 96h10v2h-10zM375 242h10v2h-10zM385 131h9v3h-9zM385 136h9v2h-9zM385 164h9v5h-9zM385 188h9v11h-9zM385 207h9v4h-9zM385 218h9v5h-9zM385 225h9v5h-9zM385 237h9v2h-9zM385 242h9v2h-9zM385 248h9v3h-9zM385 260h9v4h-9zM385 279h9v8h-9zM394 174h10v4h-10zM394 228h10v7h-10zM394 242h10v2h-10zM394 248h10v3h-10zM394 268h10v5h-10zM404 204h9v3h-9zM404 244h9v2h-9zM413 96h10v2h-10zM413 101h10v4h-10zM413 112h10v10h-10zM413 124h10v2h-10zM413 136h10v5h-10zM413 244h10v2h-10zM413 279h10v8h-10zM423 141h9v2h-9zM423 145h9v5h-9zM423 157h9v5h-9zM423 164h9v5h-9zM423 171h9v5h-9zM423 192h9v7h-9zM423 211h9v3h-9zM423 216h9v12h-9zM423 230h9v2h-9zM423 237h9v2h-9zM423 242h9v2h-9zM423 248h9v3h-9zM423 254h9v3h-9zM423 264h9v4h-9zM423 279h9v8h-9zM432 228h10v4h-10zM432 248h10v6h-10zM432 273h10v6h-10zM451 75h9v2h-9zM451 79h9v3h-9zM451 84h9v5h-9zM451 91h9v3h-9zM451 171h9v3h-9zM460 166h10v5h-10zM460 174h10v2h-10zM460 181h10v2h-10zM460 199h10v3h-10zM460 204h10v7h-10zM460 214h10v2h-10zM460 230h10v2h-10zM460 235h10v7h-10zM460 244h10v2h-10zM460 264h10v4h-10zM460 279h10v8h-10zM470 174h9v4h-9zM470 232h9v3h-9zM470 242h9v2h-9zM479 242h10v4h-10zM489 101h9v2h-9zM489 115h9v2h-9zM489 131h9v3h-9zM489 232h9v3h-9zM489 244h9v2h-9zM489 279h9v8h-9zM498 136h10v2h-10zM498 141h10v2h-10zM498 145h10v3h-10zM498 155h10v2h-10zM498 197h10v2h-10zM498 207h10v2h-10zM498 214h10v11h-10zM498 232h10v7h-10zM498 246h10v5h-10zM498 254h10v3h-10zM498 260h10v4h-10zM498 279h10v8h-10zM508 181h9v4h-9zM508 190h9v2h-9zM508 195h9v7h-9zM508 207h9v2h-9zM508 216h9v7h-9zM508 228h9v4h-9zM508 235h9v2h-9zM508 246h9v2h-9zM508 251h9v3h-9zM508 268h9v5h-9zM527 75h9v2h-9zM527 82h9v2h-9zM527 89h9v5h-9zM527 101h9v2h-9zM527 105h9v5h-9zM527 122h9v2h-9zM527 237h9v2h-9zM527 244h9v2h-9zM536 122h9v4h-9zM536 136h9v5h-9zM536 143h9v2h-9zM536 150h9v2h-9zM536 155h9v2h-9zM536 159h9v3h-9zM536 188h9v2h-9zM536 197h9v7h-9zM536 211h9v5h-9zM536 218h9v3h-9zM536 235h9v4h-9zM536 242h9v2h-9zM536 251h9v6h-9zM536 260h9v8h-9zM545 228h10v2h-10zM545 248h10v3h-10zM555 204h9v3h-9zM555 235h9v2h-9zM564 89h10v2h-10zM564 94h10v2h-10zM564 126h10v5h-10zM564 237h10v2h-10zM564 244h10v2h-10zM564 264h10v4h-10zM574 119h9v3h-9zM574 126h9v8h-9zM574 141h9v2h-9zM574 152h9v7h-9zM574 162h9v2h-9zM574 171h9v7h-9zM574 188h9v2h-9zM574 192h9v5h-9zM574 199h9v3h-9zM574 218h9v3h-9zM574 232h9v7h-9zM574 246h9v2h-9zM574 254h9v10h-9zM583 181h10v2h-10zM583 221h10v2h-10zM583 251h10v3h-10zM593 202h9v2h-9zM593 214h9v2h-9zM593 242h9v4h-9zM602 115h10v2h-10zM602 134h10v4h-10zM602 237h10v2h-10zM602 260h10v8h-10zM602 279h10v8h-10zM612 150h9v2h-9zM612 155h9v4h-9zM612 162h9v12h-9zM612 195h9v4h-9zM612 204h9v3h-9zM612 216h9v9h-9zM612 230h9v7h-9zM612 251h9v9h-9zM612 279h9v8h-9zM621 181h9v2h-9zM621 185h9v3h-9zM621 248h9v3h-9zM630 204h10v3h-10zM630 244h10v2h-10zM640 103h9v14h-9zM640 122h9v2h-9zM640 134h9v7h-9zM640 148h9v2h-9zM640 232h9v3h-9zM640 237h9v5h-9zM640 244h9v2h-9zM649 138h10v3h-10zM649 150h10v14h-10zM649 197h10v5h-10zM649 204h10v3h-10zM649 211h10v3h-10zM649 223h10v2h-10zM649 228h10v2h-10zM649 242h10v2h-10zM649 248h10v6h-10zM649 264h10v4h-10zM659 164h9v2h-9zM659 169h9v2h-9zM659 174h9v2h-9zM659 237h9v2h-9zM659 246h9v2h-9zM678 108h9v9h-9zM678 145h9v3h-9zM678 235h9v4h-9zM678 244h9v2h-9zM687 138h9v3h-9zM687 143h9v5h-9zM687 155h9v7h-9zM687 166h9v3h-9zM687 171h9v3h-9zM687 176h9v2h-9zM687 188h9v2h-9zM687 195h9v4h-9zM687 204h9v5h-9zM687 216h9v5h-9zM687 228h9v4h-9zM687 237h9v5h-9zM687 254h9v3h-9zM687 260h9v4h-9zM696 183h10v2h-10zM696 188h10v4h-10zM696 195h10v2h-10zM696 202h10v5h-10zM696 209h10v2h-10zM696 218h10v3h-10zM696 228h10v2h-10zM696 232h10v5h-10zM696 239h10v5h-10zM696 264h10v9h-10zM706 204h9v3h-9zM706 214h9v2h-9zM715 75h10v4h-10zM715 91h10v3h-10zM715 96h10v2h-10zM715 110h10v2h-10zM715 115h10v7h-10zM715 124h10v2h-10zM715 129h10v5h-10zM715 237h10v5h-10zM725 162h9v2h-9zM725 169h9v5h-9zM725 195h9v2h-9zM725 199h9v5h-9zM725 221h9v4h-9zM725 230h9v5h-9zM725 242h9v2h-9zM725 248h9v3h-9zM725 260h9v4h-9zM734 248h10v3h-10zM734 268h10v5h-10zM744 164h9v2h-9zM753 72h10v3h-10zM753 82h10v4h-10zM753 91h10v3h-10zM753 101h10v4h-10zM753 108h10v4h-10zM753 115h10v7h-10zM753 124h10v2h-10zM753 131h10v3h-10zM753 143h10v2h-10zM753 235h10v4h-10zM753 242h10v4h-10zM763 136h9v9h-9zM763 152h9v3h-9zM763 176h9v7h-9zM763 188h9v2h-9zM763 199h9v3h-9zM763 218h9v12h-9zM763 237h9v2h-9zM763 242h9v2h-9zM763 254h9v6h-9zM763 264h9v4h-9zM772 183h9v2h-9zM772 225h9v5h-9zM772 235h9v4h-9zM772 246h9v8h-9zM772 268h9v5h-9zM781 204h10v3h-10zM781 209h10v2h-10zM781 242h10v4h-10zM791 101h9v2h-9zM791 110h9v7h-9zM791 119h9v10h-9zM791 138h9v3h-9zM791 237h9v2h-9zM791 279h9v8h-9zM800 136h10v2h-10zM800 141h10v2h-10zM800 148h10v2h-10zM800 181h10v4h-10zM800 190h10v5h-10zM800 204h10v3h-10zM800 218h10v7h-10zM800 230h10v5h-10zM800 239h10v5h-10zM800 264h10v4h-10zM810 251h9v3h-9zM819 235h10v2h-10zM829 101h9v2h-9zM829 105h9v10h-9zM829 119h9v3h-9zM829 124h9v10h-9zM829 136h9v7h-9zM829 237h9v2h-9zM838 150h10v2h-10zM838 155h10v4h-10zM838 164h10v5h-10zM838 174h10v2h-10zM838 183h10v7h-10zM838 195h10v2h-10zM838 199h10v3h-10zM838 207h10v4h-10zM838 216h10v2h-10zM838 221h10v4h-10zM838 230h10v5h-10zM838 239h10v3h-10zM838 246h10v2h-10zM838 251h10v9h-10zM838 279h10v8h-10zM848 235h7v2h-7zM848 239h7v3h-7zM848 246h7v2h-7zM848 251h7v3h-7z"/>
<path fill="#0078ff" d="M135 214h4v2h-4zM135 223h4v2h-4zM135 242h4v2h-4zM139 209h10v2h-10zM139 230h10v5h-10zM139 237h10v5h-10zM139 244h10v2h-10zM149 108h9v2h-9zM149 112h9v3h-9zM149 122h9v2h-9zM149 134h9v2h-9zM149 232h9v3h-9zM149 239h9v3h-9zM158 171h10v3h-10zM158 183h10v2h-10zM158 195h10v2h-10zM158 202h10v5h-10zM177 228h10v2h-10zM177 235h10v2h-10zM177 244h10v2h-10zM187 141h9v2h-9zM187 152h9v3h-9zM187 209h9v7h-9zM187 218h9v5h-9zM187 232h9v5h-9zM187 242h9v2h-9zM196 204h9v3h-9zM196 232h9v3h-9zM205 225h10v3h-10zM215 232h9v3h-9zM215 237h9v2h-9zM215 242h9v2h-9zM224 115h10v7h-10zM224 129h10v2h-10zM224 232h10v3h-10zM224 237h10v2h-10zM234 195h9v2h-9zM234 207h9v4h-9zM234 216h9v2h-9zM234 221h9v2h-9zM234 251h9v3h-9zM243 251h10v3h-10zM253 221h9v2h-9zM253 225h9v3h-9zM253 237h9v7h-9zM262 103h10v2h-10zM262 117h10v2h-10zM262 131h10v3h-10zM262 150h10v5h-10zM262 211h10v3h-10zM262 218h10v3h-10zM262 225h10v5h-10zM262 232h10v3h-10zM272 174h9v2h-9zM272 178h9v3h-9zM272 183h9v2h-9zM272 188h9v4h-9zM290 218h10v3h-10zM290 223h10v5h-10zM290 242h10v4h-10zM300 101h9v2h-9zM300 143h9v2h-9zM300 150h9v2h-9zM300 221h9v2h-9zM309 197h10v5h-10zM309 223h10v9h-10zM309 251h10v6h-10zM319 181h9v4h-9zM319 192h9v3h-9zM319 242h9v2h-9zM328 207h10v7h-10zM338 105h9v3h-9zM338 117h9v2h-9zM338 150h9v2h-9zM338 155h9v4h-9zM338 225h9v3h-9zM347 143h10v2h-10zM347 157h10v2h-10zM347 181h10v2h-10zM347 248h10v3h-10zM357 178h9v3h-9zM357 239h9v3h-9zM366 211h9v5h-9zM366 232h9v3h-9zM366 242h9v4h-9zM375 89h10v2h-10zM375 101h10v7h-10zM375 232h10v5h-10zM385 148h9v4h-9zM385 162h9v2h-9zM385 178h9v3h-9zM385 183h9v2h-9zM385 202h9v5h-9zM385 223h9v2h-9zM394 169h10v2h-10zM394 235h10v2h-10zM404 207h9v4h-9zM404 235h9v2h-9zM404 246h9v2h-9zM413 141h10v2h-10zM413 150h10v2h-10zM423 150h9v5h-9zM423 162h9v2h-9zM423 181h9v2h-9zM423 188h9v2h-9zM423 228h9v2h-9zM423 232h9v3h-9zM423 251h9v3h-9zM442 209h9v5h-9zM442 216h9v2h-9zM442 223h9v2h-9zM442 237h9v2h-9zM442 244h9v2h-9zM451 94h9v2h-9zM451 166h9v3h-9zM451 178h9v3h-9zM451 183h9v2h-9zM460 157h10v2h-10zM460 171h10v3h-10zM460 176h10v2h-10zM460 197h10v2h-10zM460 202h10v2h-10zM460 221h10v4h-10zM460 228h10v2h-10zM470 228h9v2h-9zM479 209h10v2h-10zM479 225h10v3h-10zM479 232h10v3h-10zM479 237h10v2h-10zM489 110h9v2h-9zM489 122h9v2h-9zM489 138h9v5h-9zM489 230h9v2h-9zM498 134h10v2h-10zM498 143h10v2h-10zM498 150h10v2h-10zM498 164h10v5h-10zM498 174h10v2h-10zM498 178h10v3h-10zM498 188h10v4h-10zM498 211h10v3h-10zM498 230h10v2h-10zM498 251h10v3h-10zM498 257h10v3h-10zM508 188h9v2h-9zM508 202h9v2h-9zM508 209h9v2h-9zM508 242h9v2h-9zM517 202h10v2h-10zM517 235h10v2h-10zM527 134h9v2h-9zM527 138h9v12h-9zM527 216h9v2h-9zM527 232h9v3h-9zM527 260h9v4h-9zM536 126h9v3h-9zM536 134h9v2h-9zM536 162h9v2h-9zM536 185h9v3h-9zM536 216h9v2h-9zM536 221h9v4h-9zM536 228h9v7h-9zM536 246h9v2h-9zM545 181h10v2h-10zM545 251h10v3h-10zM555 211h9v3h-9zM555 225h9v3h-9zM555 244h9v2h-9zM564 91h10v3h-10zM564 96h10v2h-10zM564 105h10v3h-10zM564 119h10v3h-10zM564 138h10v3h-10zM564 155h10v2h-10zM564 230h10v5h-10zM574 148h9v4h-9zM574 164h9v2h-9zM574 209h9v2h-9zM574 221h9v2h-9zM574 279h9v8h-9zM593 209h9v5h-9zM593 230h9v5h-9zM593 239h9v3h-9zM602 117h10v2h-10zM602 131h10v3h-10zM602 141h10v2h-10zM602 150h10v2h-10zM602 157h10v2h-10zM602 225h10v3h-10zM602 232h10v5h-10zM602 242h10v4h-10zM612 148h9v2h-9zM612 152h9v3h-9zM612 159h9v3h-9zM612 178h9v3h-9zM612 188h9v4h-9zM612 207h9v2h-9zM612 237h9v2h-9zM612 246h9v2h-9zM612 260h9v4h-9zM621 251h9v3h-9zM630 209h10v5h-10zM630 216h10v2h-10zM640 101h9v2h-9zM640 126h9v3h-9zM640 141h9v7h-9zM640 152h9v3h-9zM640 218h9v3h-9zM640 235h9v2h-9zM649 171h10v10h-10zM649 190h10v2h-10zM649 216h10v2h-10zM649 239h10v3h-10zM659 228h9v2h-9zM668 204h10v3h-10zM668 209h10v2h-10zM668 223h10v2h-10zM668 232h10v7h-10zM668 242h10v4h-10zM678 103h9v2h-9zM678 119h9v3h-9zM678 134h9v2h-9zM678 138h9v3h-9zM678 143h9v2h-9zM678 150h9v7h-9zM678 218h9v3h-9zM678 232h9v3h-9zM687 169h9v2h-9zM687 174h9v2h-9zM687 183h9v2h-9zM687 209h9v2h-9zM687 214h9v2h-9zM687 232h9v5h-9zM687 242h9v2h-9zM696 181h10v2h-10zM696 207h10v2h-10zM696 214h10v2h-10zM696 223h10v2h-10zM706 207h9v4h-9zM706 244h9v2h-9zM715 105h10v5h-10zM715 138h10v3h-10zM715 232h10v3h-10zM725 108h9v2h-9zM725 152h9v3h-9zM725 164h9v2h-9zM725 174h9v2h-9zM725 185h9v3h-9zM725 214h9v2h-9zM725 228h9v2h-9zM725 251h9v3h-9zM744 244h9v2h-9zM753 94h10v2h-10zM753 122h10v2h-10zM753 129h10v2h-10zM753 136h10v2h-10zM753 141h10v2h-10zM753 225h10v3h-10zM753 232h10v3h-10zM753 239h10v3h-10zM753 264h10v4h-10zM763 166h9v3h-9zM763 183h9v5h-9zM763 190h9v2h-9zM763 202h9v2h-9zM763 207h9v2h-9zM763 211h9v3h-9zM772 239h9v3h-9zM781 207h10v2h-10zM781 211h10v3h-10zM781 216h10v2h-10zM781 235h10v2h-10zM781 239h10v3h-10zM791 98h9v3h-9zM791 103h9v2h-9zM791 141h9v2h-9zM791 152h9v3h-9zM791 230h9v7h-9zM791 239h9v5h-9zM800 134h10v2h-10zM800 143h10v2h-10zM800 207h10v4h-10zM800 214h10v2h-10zM800 228h10v2h-10zM800 246h10v2h-10zM810 248h9v3h-9zM819 211h10v3h-10zM819 218h10v3h-10zM819 225h10v3h-10zM819 230h10v2h-10zM829 89h9v2h-9zM829 96h9v2h-9zM829 115h9v2h-9zM829 143h9v2h-9zM829 150h9v2h-9zM829 223h9v2h-9zM829 232h9v3h-9zM829 246h9v2h-9zM838 176h10v5h-10zM838 218h10v3h-10zM838 228h10v2h-10z"/>
<path fill="#0038ff" d="M135 230h4v2h-4zM139 199h10v3h-10zM139 242h10v2h-10zM149 63h9v2h-9zM149 70h9v7h-9zM149 82h9v2h-9zM158 131h10v3h-10zM158 136h10v5h-10zM158 145h10v5h-10zM158 176h10v2h-10zM158 251h10v3h-10zM158 260h10v8h-10zM168 174h9v4h-9zM168 183h9v9h-9zM168 195h9v7h-9zM168 209h9v2h-9zM168 223h9v2h-9zM168 228h9v2h-9zM168 239h9v7h-9zM168 264h9v4h-9zM177 199h10v3h-10zM177 207h10v7h-10zM177 216h10v2h-10zM177 223h10v2h-10zM187 65h9v3h-9zM187 70h9v2h-9zM187 75h9v2h-9zM187 84h9v2h-9zM196 129h9v2h-9zM196 136h9v2h-9zM196 143h9v2h-9zM196 148h9v2h-9zM196 211h9v7h-9zM196 221h9v2h-9zM196 237h9v7h-9zM196 260h9v4h-9zM205 157h10v2h-10zM205 164h10v2h-10zM205 176h10v2h-10zM205 202h10v2h-10zM205 209h10v2h-10zM205 216h10v2h-10zM205 223h10v2h-10zM205 273h10v6h-10zM215 207h9v2h-9zM224 58h10v7h-10zM224 68h10v4h-10zM224 82h10v2h-10zM224 86h10v3h-10zM224 242h10v2h-10zM234 134h9v2h-9zM234 141h9v2h-9zM234 235h9v2h-9zM243 150h10v2h-10zM243 162h10v2h-10zM243 166h10v3h-10zM243 174h10v7h-10zM243 192h10v3h-10zM243 199h10v3h-10zM243 207h10v7h-10zM243 218h10v3h-10zM243 239h10v3h-10zM243 264h10v4h-10zM253 207h9v2h-9zM262 58h10v5h-10zM262 65h10v3h-10zM262 75h10v2h-10zM262 86h10v5h-10zM262 279h10v8h-10zM272 136h9v2h-9zM272 143h9v2h-9zM272 148h9v2h-9zM272 157h9v5h-9zM272 164h9v2h-9zM272 218h9v3h-9zM272 225h9v3h-9zM272 232h9v3h-9zM272 244h9v2h-9zM281 174h9v2h-9zM281 188h9v4h-9zM281 195h9v7h-9zM281 204h9v3h-9zM281 214h9v2h-9zM281 221h9v2h-9zM281 235h9v4h-9zM281 244h9v2h-9zM300 61h9v4h-9zM300 70h9v5h-9zM300 79h9v3h-9zM300 264h9v4h-9zM300 279h9v8h-9zM309 124h10v2h-10zM309 134h10v2h-10zM309 148h10v4h-10zM309 235h10v2h-10zM309 244h10v2h-10zM309 264h10v4h-10zM319 122h9v2h-9zM319 134h9v2h-9zM319 138h9v3h-9zM319 148h9v2h-9zM319 152h9v3h-9zM319 157h9v2h-9zM319 164h9v2h-9zM319 169h9v2h-9zM319 176h9v2h-9zM319 204h9v3h-9zM319 218h9v3h-9zM319 223h9v5h-9zM319 244h9v2h-9zM319 264h9v4h-9zM338 58h9v3h-9zM338 63h9v2h-9zM338 82h9v7h-9zM338 279h9v8h-9zM347 122h10v4h-10zM347 131h10v5h-10zM347 138h10v5h-10zM347 183h10v2h-10zM347 244h10v2h-10zM347 279h10v8h-10zM357 148h9v7h-9zM357 159h9v5h-9zM357 190h9v2h-9zM357 195h9v2h-9zM357 202h9v2h-9zM357 209h9v2h-9zM357 225h9v3h-9zM357 230h9v5h-9zM357 273h9v6h-9zM366 197h9v5h-9zM366 264h9v4h-9zM375 63h10v2h-10zM375 72h10v5h-10zM375 82h10v2h-10zM385 119h9v3h-9zM385 124h9v2h-9zM385 254h9v3h-9zM385 264h9v4h-9zM394 145h10v5h-10zM394 152h10v5h-10zM394 183h10v2h-10zM394 190h10v5h-10zM394 204h10v3h-10zM394 221h10v2h-10zM394 244h10v2h-10zM404 199h9v3h-9zM404 264h9v4h-9zM413 72h10v5h-10zM413 79h10v3h-10zM413 84h10v2h-10zM413 89h10v5h-10zM423 110h9v5h-9zM423 126h9v3h-9zM423 136h9v5h-9zM423 143h9v2h-9zM423 244h9v2h-9zM432 152h10v3h-10zM432 162h10v2h-10zM432 171h10v7h-10zM432 188h10v4h-10zM432 202h10v2h-10zM432 211h10v5h-10zM432 221h10v2h-10zM432 232h10v3h-10zM432 242h10v4h-10zM432 264h10v4h-10zM442 264h9v4h-9zM451 63h9v7h-9zM460 94h10v2h-10zM460 103h10v2h-10zM460 110h10v2h-10zM460 117h10v2h-10zM460 124h10v2h-10zM460 131h10v5h-10zM460 141h10v2h-10zM460 145h10v5h-10zM460 152h10v3h-10zM470 143h9v2h-9zM470 150h9v2h-9zM470 164h9v7h-9zM470 190h9v2h-9zM470 195h9v2h-9zM470 199h9v3h-9zM470 207h9v2h-9zM470 211h9v3h-9zM470 218h9v5h-9zM470 225h9v3h-9zM470 264h9v4h-9zM479 239h10v3h-10zM489 61h9v2h-9zM489 75h9v2h-9zM489 82h9v4h-9zM489 89h9v2h-9zM498 110h10v7h-10zM498 126h10v3h-10zM498 195h10v2h-10zM498 244h10v2h-10zM508 152h9v5h-9zM508 159h9v3h-9zM508 169h9v2h-9zM508 204h9v3h-9zM508 239h9v3h-9zM508 244h9v2h-9zM508 264h9v4h-9zM517 197h10v2h-10zM527 65h9v3h-9zM527 264h9v4h-9zM536 82h9v2h-9zM536 86h9v8h-9zM536 110h9v5h-9zM536 244h9v2h-9zM545 143h10v2h-10zM545 155h10v4h-10zM545 164h10v5h-10zM545 171h10v3h-10zM545 188h10v7h-10zM545 199h10v3h-10zM545 209h10v2h-10zM545 214h10v2h-10zM545 218h10v3h-10zM545 237h10v2h-10zM564 58h10v3h-10zM564 72h10v7h-10zM574 91h9v3h-9zM574 101h9v7h-9zM574 138h9v3h-9zM574 244h9v2h-9zM583 155h10v2h-10zM583 159h10v3h-10zM583 164h10v5h-10zM583 176h10v2h-10zM583 190h10v5h-10zM583 197h10v2h-10zM583 202h10v5h-10zM583 211h10v3h-10zM583 218h10v3h-10zM583 230h10v2h-10zM583 235h10v2h-10zM583 242h10v4h-10zM583 264h10v4h-10zM583 273h10v6h-10zM602 75h10v2h-10zM602 79h10v3h-10zM602 84h10v2h-10zM602 91h10v3h-10zM602 101h10v2h-10zM612 124h9v5h-9zM612 134h9v2h-9zM612 242h9v2h-9zM621 145h9v3h-9zM621 152h9v3h-9zM621 188h9v2h-9zM621 204h9v3h-9zM621 216h9v2h-9zM621 221h9v2h-9zM621 237h9v2h-9zM621 244h9v2h-9zM621 264h9v4h-9zM630 199h10v3h-10zM640 58h9v3h-9zM640 65h9v3h-9zM640 89h9v2h-9zM640 94h9v2h-9zM649 105h10v10h-10zM649 117h10v12h-10zM649 166h10v3h-10zM649 235h10v2h-10zM649 244h10v2h-10zM659 136h9v2h-9zM659 152h9v3h-9zM659 157h9v2h-9zM659 190h9v5h-9zM659 204h9v3h-9zM659 218h9v3h-9zM659 244h9v2h-9zM659 273h9v6h-9zM668 171h10v3h-10zM668 239h10v3h-10zM678 68h9v2h-9zM678 75h9v2h-9zM678 84h9v7h-9zM678 279h9v8h-9zM687 98h9v3h-9zM687 115h9v2h-9zM687 122h9v2h-9zM687 131h9v3h-9zM696 134h10v2h-10zM696 138h10v3h-10zM696 152h10v5h-10zM696 162h10v2h-10zM696 166h10v3h-10zM696 171h10v5h-10zM696 244h10v2h-10zM715 68h10v4h-10zM715 279h10v8h-10zM725 101h9v4h-9zM725 244h9v2h-9zM734 148h10v4h-10zM734 155h10v4h-10zM734 169h10v2h-10zM734 178h10v3h-10zM734 190h10v2h-10zM734 199h10v5h-10zM734 207h10v2h-10zM734 211h10v3h-10zM734 218h10v5h-10zM734 232h10v5h-10zM734 239h10v3h-10zM734 244h10v2h-10zM734 264h10v4h-10zM734 273h10v6h-10zM744 162h9v2h-9zM744 178h9v3h-9zM744 202h9v2h-9zM763 110h9v5h-9zM763 119h9v5h-9zM763 279h9v8h-9zM772 129h9v2h-9zM772 134h9v2h-9zM772 141h9v2h-9zM772 145h9v3h-9zM772 150h9v2h-9zM772 155h9v4h-9zM772 164h9v2h-9zM772 169h9v5h-9zM772 176h9v2h-9zM772 195h9v2h-9zM772 202h9v2h-9zM772 242h9v2h-9zM791 63h9v2h-9zM791 68h9v2h-9zM791 75h9v2h-9zM791 82h9v2h-9zM791 86h9v3h-9zM791 91h9v5h-9zM791 264h9v4h-9zM800 122h10v7h-10zM800 157h10v12h-10zM800 176h10v2h-10zM800 244h10v2h-10zM810 157h9v2h-9zM810 162h9v4h-9zM810 176h9v2h-9zM810 183h9v5h-9zM810 190h9v5h-9zM810 216h9v7h-9zM810 232h9v3h-9zM810 244h9v2h-9zM810 264h9v4h-9zM810 273h9v6h-9zM819 199h10v3h-10zM829 58h9v10h-9zM829 70h9v2h-9zM829 79h9v5h-9zM829 242h9v2h-9zM838 126h10v3h-10zM838 202h10v2h-10zM848 166h7v3h-7zM848 185h7v3h-7zM848 190h7v2h-7zM848 202h7v2h-7zM848 214h7v4h-7zM848 264h7v4h-7z"/>
<path fill="#0097ff" d="M135 246h4v5h-4zM135 254h4v10h-4zM139 221h10v2h-10zM139 248h10v3h-10zM149 141h9v7h-9zM149 152h9v5h-9zM149 162h9v2h-9zM149 214h9v4h-9zM149 221h9v2h-9zM149 225h9v7h-9zM149 246h9v8h-9zM149 273h9v6h-9zM158 268h10v11h-10zM177 246h10v2h-10zM187 157h9v2h-9zM187 174h9v2h-9zM187 181h9v2h-9zM187 207h9v2h-9zM187 228h9v2h-9zM187 246h9v5h-9zM187 268h9v5h-9zM196 268h9v11h-9zM215 246h9v8h-9zM224 110h10v5h-10zM224 155h10v2h-10zM224 214h10v4h-10zM224 221h10v7h-10zM224 246h10v8h-10zM224 257h10v3h-10zM224 273h10v6h-10zM234 273h9v14h-9zM253 248h9v6h-9zM262 157h10v2h-10zM262 181h10v2h-10zM262 209h10v2h-10zM262 246h10v2h-10zM262 254h10v6h-10zM262 268h10v5h-10zM272 268h9v11h-9zM281 257h9v3h-9zM290 246h10v2h-10zM290 251h10v3h-10zM300 117h9v5h-9zM300 124h9v2h-9zM300 134h9v2h-9zM300 155h9v4h-9zM300 248h9v9h-9zM300 273h9v6h-9zM309 260h10v4h-10zM309 268h10v11h-10zM319 254h9v6h-9zM328 214h10v2h-10zM328 218h10v10h-10zM328 230h10v5h-10zM328 237h10v5h-10zM328 248h10v3h-10zM338 214h9v7h-9zM338 228h9v2h-9zM338 244h9v2h-9zM347 268h10v11h-10zM366 218h9v3h-9zM366 223h9v7h-9zM366 246h9v2h-9zM366 251h9v3h-9zM375 108h10v9h-10zM375 122h10v2h-10zM375 131h10v7h-10zM375 141h10v2h-10zM375 145h10v3h-10zM375 150h10v2h-10zM375 155h10v2h-10zM375 174h10v2h-10zM375 178h10v5h-10zM375 211h10v10h-10zM375 230h10v2h-10zM375 244h10v2h-10zM375 268h10v11h-10zM385 268h9v11h-9zM394 254h10v6h-10zM404 216h9v12h-9zM404 232h9v3h-9zM404 248h9v6h-9zM413 152h10v3h-10zM413 157h10v2h-10zM413 221h10v2h-10zM413 228h10v2h-10zM413 235h10v2h-10zM413 242h10v2h-10zM413 251h10v3h-10zM413 268h10v11h-10zM423 176h9v2h-9zM423 204h9v3h-9zM423 260h9v4h-9zM423 268h9v11h-9zM432 268h10v5h-10zM442 214h9v2h-9zM442 218h9v3h-9zM442 225h9v5h-9zM442 235h9v2h-9zM442 239h9v5h-9zM442 246h9v8h-9zM451 96h9v5h-9zM451 103h9v2h-9zM451 141h9v2h-9zM451 145h9v3h-9zM451 152h9v3h-9zM451 162h9v2h-9zM451 169h9v2h-9zM451 230h9v5h-9zM451 237h9v2h-9zM451 242h9v4h-9zM451 268h9v5h-9zM460 246h10v8h-10zM460 268h10v11h-10zM470 246h9v2h-9zM470 251h9v3h-9zM479 214h10v2h-10zM479 218h10v5h-10zM479 230h10v2h-10zM479 246h10v2h-10zM489 143h9v2h-9zM489 148h9v2h-9zM489 152h9v3h-9zM489 157h9v2h-9zM489 211h9v10h-9zM489 228h9v2h-9zM489 246h9v8h-9zM489 268h9v11h-9zM498 273h10v6h-10zM517 209h10v5h-10zM517 216h10v2h-10zM517 232h10v3h-10zM517 242h10v2h-10zM517 248h10v6h-10zM527 218h9v3h-9zM527 230h9v2h-9zM527 268h9v11h-9zM536 178h9v7h-9zM536 273h9v6h-9zM555 216h9v2h-9zM555 221h9v2h-9zM555 228h9v4h-9zM555 246h9v2h-9zM564 110h10v7h-10zM564 141h10v2h-10zM564 145h10v5h-10zM564 214h10v14h-10zM564 246h10v2h-10zM564 251h10v3h-10zM564 273h10v6h-10zM574 268h9v11h-9zM593 216h9v2h-9zM593 225h9v3h-9zM593 248h9v3h-9zM602 145h10v5h-10zM602 152h10v3h-10zM602 214h10v9h-10zM602 230h10v2h-10zM602 246h10v8h-10zM602 268h10v5h-10zM612 268h9v5h-9zM630 214h10v2h-10zM630 225h10v3h-10zM630 242h10v2h-10zM630 246h10v8h-10zM640 150h9v2h-9zM640 159h9v3h-9zM640 216h9v2h-9zM640 223h9v2h-9zM640 246h9v2h-9zM640 251h9v3h-9zM640 260h9v4h-9zM640 268h9v11h-9zM649 273h10v6h-10zM659 254h9v6h-9zM668 216h10v2h-10zM668 221h10v2h-10zM668 228h10v2h-10zM668 246h10v8h-10zM678 126h9v5h-9zM678 136h9v2h-9zM678 178h9v3h-9zM678 216h9v2h-9zM678 246h9v2h-9zM678 251h9v3h-9zM678 268h9v5h-9zM687 181h9v2h-9zM687 185h9v3h-9zM706 216h9v2h-9zM706 223h9v2h-9zM706 228h9v4h-9zM706 239h9v5h-9zM706 246h9v8h-9zM715 145h10v3h-10zM715 157h10v2h-10zM715 162h10v2h-10zM715 181h10v2h-10zM715 244h10v2h-10zM715 260h10v4h-10zM715 268h10v11h-10zM725 110h9v9h-9zM725 129h9v2h-9zM725 136h9v2h-9zM725 141h9v2h-9zM725 268h9v11h-9zM744 211h9v3h-9zM744 218h9v7h-9zM744 228h9v2h-9zM744 232h9v7h-9zM744 246h9v8h-9zM753 152h10v3h-10zM753 157h10v2h-10zM753 162h10v2h-10zM753 176h10v2h-10zM753 214h10v7h-10zM753 223h10v2h-10zM753 230h10v2h-10zM753 248h10v6h-10zM753 260h10v4h-10zM763 268h9v11h-9zM772 254h9v6h-9zM781 223h10v2h-10zM781 232h10v3h-10zM781 246h10v18h-10zM791 143h9v2h-9zM791 155h9v2h-9zM791 159h9v5h-9zM791 176h9v2h-9zM791 181h9v4h-9zM791 214h9v4h-9zM791 223h9v5h-9zM791 246h9v5h-9zM791 260h9v4h-9zM791 268h9v5h-9zM800 254h10v10h-10zM800 268h10v5h-10zM810 257h9v3h-9zM819 216h10v2h-10zM819 228h10v2h-10zM819 232h10v3h-10zM819 246h10v2h-10zM819 251h10v3h-10zM829 148h9v2h-9zM829 152h9v3h-9zM829 174h9v2h-9zM829 214h9v4h-9zM829 230h9v2h-9zM829 251h9v3h-9zM829 260h9v4h-9zM829 268h9v5h-9zM838 268h10v11h-10z"/>
<path fill="#00a7ff" d="M135 251h4v3h-4zM139 216h10v2h-10zM139 223h10v7h-10zM149 150h9v2h-9zM149 157h9v5h-9zM149 199h9v3h-9zM149 204h9v3h-9zM149 209h9v5h-9zM149 223h9v2h-9zM177 251h10v3h-10zM187 159h9v3h-9zM187 176h9v5h-9zM187 183h9v5h-9zM187 195h9v7h-9zM187 251h9v3h-9zM215 230h9v2h-9zM224 209h10v2h-10zM234 268h9v5h-9zM262 164h10v2h-10zM262 178h10v3h-10zM262 185h10v7h-10zM262 202h10v2h-10zM262 273h10v6h-10zM290 230h10v2h-10zM300 122h9v2h-9zM300 129h9v5h-9zM300 207h9v9h-9zM300 218h9v3h-9zM300 268h9v5h-9zM328 228h10v2h-10zM328 235h10v2h-10zM328 251h10v3h-10zM338 197h9v2h-9zM338 223h9v2h-9zM338 251h9v3h-9zM366 216h9v2h-9zM375 117h10v2h-10zM375 126h10v3h-10zM375 138h10v3h-10zM375 143h10v2h-10zM375 148h10v2h-10zM375 152h10v3h-10zM375 159h10v5h-10zM375 171h10v3h-10zM375 176h10v2h-10zM375 183h10v2h-10zM375 225h10v3h-10zM385 181h9v2h-9zM413 223h10v5h-10zM413 232h10v3h-10zM413 248h10v3h-10zM451 101h9v2h-9zM451 131h9v5h-9zM451 138h9v3h-9zM451 155h9v2h-9zM451 159h9v3h-9zM451 185h9v3h-9zM479 216h10v2h-10zM479 228h10v2h-10zM489 145h9v3h-9zM489 159h9v3h-9zM489 204h9v3h-9zM489 209h9v2h-9zM498 268h10v5h-10zM517 207h10v2h-10zM517 214h10v2h-10zM517 218h10v10h-10zM527 150h9v5h-9zM527 188h9v2h-9zM527 207h9v4h-9zM527 214h9v2h-9zM527 223h9v5h-9zM536 169h9v2h-9zM555 223h9v2h-9zM564 122h10v2h-10zM564 152h10v3h-10zM564 159h10v3h-10zM564 209h10v2h-10zM593 218h9v3h-9zM593 223h9v2h-9zM593 228h9v2h-9zM602 155h10v2h-10zM602 204h10v3h-10zM602 209h10v5h-10zM630 235h10v7h-10zM640 157h9v2h-9zM640 162h9v4h-9zM640 169h9v2h-9zM640 176h9v5h-9zM640 214h9v2h-9zM640 225h9v3h-9zM649 181h10v2h-10zM668 218h10v3h-10zM678 131h9v3h-9zM678 159h9v3h-9zM678 174h9v4h-9zM678 183h9v2h-9zM678 207h9v7h-9zM678 225h9v5h-9zM706 221h9v2h-9zM706 235h9v4h-9zM715 141h10v2h-10zM715 148h10v2h-10zM715 155h10v2h-10zM715 159h10v3h-10zM715 174h10v4h-10zM715 183h10v2h-10zM715 207h10v2h-10zM715 211h10v3h-10zM715 225h10v3h-10zM715 230h10v2h-10zM725 119h9v5h-9zM725 131h9v5h-9zM725 143h9v7h-9zM744 166h9v3h-9zM744 171h9v3h-9zM744 242h9v2h-9zM753 178h10v3h-10zM753 183h10v2h-10zM753 211h10v3h-10zM781 218h10v5h-10zM781 228h10v4h-10zM791 166h9v3h-9zM791 178h9v3h-9zM791 207h9v4h-9zM791 218h9v3h-9zM791 251h9v3h-9zM791 273h9v6h-9zM819 214h10v2h-10zM819 223h10v2h-10zM819 248h10v3h-10zM829 159h9v3h-9zM829 183h9v2h-9zM829 209h9v2h-9zM829 218h9v3h-9zM829 228h9v2h-9z"/>
<path fill="#0087ff" d="M139 214h10v2h-10zM139 218h10v3h-10zM139 246h10v2h-10zM139 251h10v3h-10zM149 138h9v3h-9zM149 148h9v2h-9zM149 218h9v3h-9zM149 268h9v5h-9zM158 169h10v2h-10zM177 248h10v3h-10zM187 155h9v2h-9zM187 202h9v5h-9zM187 225h9v3h-9zM187 230h9v2h-9zM187 273h9v6h-9zM205 228h10v2h-10zM215 216h9v2h-9zM215 223h9v7h-9zM224 103h10v7h-10zM224 157h10v2h-10zM224 211h10v3h-10zM224 218h10v3h-10zM224 239h10v3h-10zM224 254h10v3h-10zM224 268h10v5h-10zM243 260h10v4h-10zM253 218h9v3h-9zM253 223h9v2h-9zM253 228h9v4h-9zM253 246h9v2h-9zM262 159h10v3h-10zM262 183h10v2h-10zM262 248h10v6h-10zM272 197h9v2h-9zM281 254h9v3h-9zM281 260h9v4h-9zM290 221h10v2h-10zM290 228h10v2h-10zM290 232h10v3h-10zM290 248h10v3h-10zM300 103h9v14h-9zM300 126h9v3h-9zM300 136h9v2h-9zM300 152h9v3h-9zM300 216h9v2h-9zM300 223h9v2h-9zM300 246h9v2h-9zM300 257h9v3h-9zM319 260h9v4h-9zM328 216h10v2h-10zM328 242h10v2h-10zM328 246h10v2h-10zM338 152h9v3h-9zM338 221h9v2h-9zM338 230h9v2h-9zM338 235h9v2h-9zM338 268h9v11h-9zM347 260h10v4h-10zM366 221h9v2h-9zM366 230h9v2h-9zM366 248h9v3h-9zM375 119h10v3h-10zM375 124h10v2h-10zM375 129h10v2h-10zM375 157h10v2h-10zM375 221h10v4h-10zM375 228h10v2h-10zM385 174h9v4h-9zM385 185h9v3h-9zM404 211h9v5h-9zM404 228h9v4h-9zM404 237h9v7h-9zM413 143h10v7h-10zM413 155h10v2h-10zM413 159h10v3h-10zM413 230h10v2h-10zM413 237h10v5h-10zM413 246h10v2h-10zM423 155h9v2h-9zM423 178h9v3h-9zM423 183h9v5h-9zM423 190h9v2h-9zM423 199h9v5h-9zM423 209h9v2h-9zM423 214h9v2h-9zM442 221h9v2h-9zM442 230h9v5h-9zM451 72h9v3h-9zM451 136h9v2h-9zM451 143h9v2h-9zM451 148h9v4h-9zM451 157h9v2h-9zM451 164h9v2h-9zM451 174h9v4h-9zM451 273h9v6h-9zM470 248h9v3h-9zM479 204h10v3h-10zM479 211h10v3h-10zM479 223h10v2h-10zM479 235h10v2h-10zM479 248h10v6h-10zM489 150h9v2h-9zM489 155h9v2h-9zM489 221h9v7h-9zM489 235h9v2h-9zM498 176h10v2h-10zM498 181h10v7h-10zM508 232h9v3h-9zM517 204h10v3h-10zM517 228h10v2h-10zM517 237h10v5h-10zM517 246h10v2h-10zM527 157h9v2h-9zM527 221h9v2h-9zM527 228h9v2h-9zM527 235h9v2h-9zM527 246h9v8h-9zM536 164h9v5h-9zM536 171h9v7h-9zM536 268h9v5h-9zM555 207h9v4h-9zM555 214h9v2h-9zM555 218h9v3h-9zM555 232h9v3h-9zM555 248h9v6h-9zM564 103h10v2h-10zM564 108h10v2h-10zM564 117h10v2h-10zM564 124h10v2h-10zM564 143h10v2h-10zM564 150h10v2h-10zM564 157h10v2h-10zM564 228h10v2h-10zM564 235h10v2h-10zM564 248h10v3h-10zM564 268h10v5h-10zM574 239h9v3h-9zM593 221h9v2h-9zM593 235h9v4h-9zM593 246h9v2h-9zM593 251h9v3h-9zM602 138h10v3h-10zM602 143h10v2h-10zM602 159h10v3h-10zM602 223h10v2h-10zM602 228h10v2h-10zM602 273h10v6h-10zM612 273h9v6h-9zM630 218h10v7h-10zM630 228h10v2h-10zM630 232h10v3h-10zM640 155h9v2h-9zM640 181h9v2h-9zM640 221h9v2h-9zM640 228h9v4h-9zM640 248h9v3h-9zM649 183h10v7h-10zM649 192h10v3h-10zM649 268h10v5h-10zM668 211h10v5h-10zM668 225h10v3h-10zM668 230h10v2h-10zM678 117h9v2h-9zM678 122h9v4h-9zM678 141h9v2h-9zM678 148h9v2h-9zM678 157h9v2h-9zM678 181h9v2h-9zM678 214h9v2h-9zM678 221h9v4h-9zM678 230h9v2h-9zM678 242h9v2h-9zM678 248h9v3h-9zM678 260h9v4h-9zM678 273h9v6h-9zM687 178h9v3h-9zM687 268h9v11h-9zM696 221h10v2h-10zM706 211h9v3h-9zM706 218h9v3h-9zM706 225h9v3h-9zM706 232h9v3h-9zM715 136h10v2h-10zM715 143h10v2h-10zM715 150h10v5h-10zM715 178h10v3h-10zM715 214h10v11h-10zM715 235h10v2h-10zM725 124h9v5h-9zM725 150h9v2h-9zM734 254h10v6h-10zM744 209h9v2h-9zM744 214h9v4h-9zM744 225h9v3h-9zM744 230h9v2h-9zM744 239h9v3h-9zM753 138h10v3h-10zM753 145h10v7h-10zM753 155h10v2h-10zM753 181h10v2h-10zM753 221h10v2h-10zM753 228h10v2h-10zM753 246h10v2h-10zM753 268h10v11h-10zM781 214h10v2h-10zM791 145h9v7h-9zM791 157h9v2h-9zM791 221h9v2h-9zM791 228h9v2h-9zM800 195h10v2h-10zM800 273h10v6h-10zM810 254h9v3h-9zM819 209h10v2h-10zM819 221h10v2h-10zM829 94h9v2h-9zM829 145h9v3h-9zM829 155h9v4h-9zM829 178h9v5h-9zM829 225h9v3h-9zM829 244h9v2h-9zM829 248h9v3h-9zM829 273h9v6h-9zM848 230h7v2h-7zM848 242h7v2h-7z"/>
<path fill="#00f7ff" d="M139 254h10v3h-10zM139 260h10v4h-10zM149 171h9v3h-9zM149 257h9v3h-9zM177 260h10v4h-10zM224 166h10v5h-10zM224 190h10v2h-10zM224 195h10v2h-10zM300 171h9v3h-9zM300 199h9v3h-9zM300 260h9v4h-9zM328 254h10v6h-10zM338 164h9v2h-9zM338 181h9v2h-9zM338 254h9v6h-9zM357 257h9v7h-9zM375 192h10v7h-10zM375 254h10v6h-10zM413 169h10v5h-10zM413 190h10v7h-10zM451 122h9v2h-9zM451 192h9v3h-9zM451 197h9v2h-9zM451 254h9v6h-9zM460 260h10v4h-10zM470 254h9v10h-9zM489 169h9v7h-9zM489 254h9v3h-9zM508 260h9v4h-9zM517 260h10v4h-10zM527 171h9v3h-9zM527 176h9v2h-9zM527 257h9v3h-9zM564 171h10v3h-10zM564 254h10v6h-10zM593 254h9v3h-9zM602 171h10v5h-10zM602 195h10v4h-10zM602 257h10v3h-10zM621 260h9v4h-9zM630 254h10v6h-10zM640 190h9v5h-9zM640 254h9v3h-9zM668 254h10v6h-10zM678 192h9v5h-9zM678 254h9v6h-9zM706 254h9v10h-9zM744 254h9v6h-9zM753 199h10v3h-10zM819 254h10v10h-10zM829 192h9v5h-9z"/>
<path fill="#08fff7" d="M139 257h10v3h-10zM149 169h9v2h-9zM149 254h9v3h-9zM215 260h9v4h-9zM224 192h10v3h-10zM262 260h10v4h-10zM300 169h9v2h-9zM338 176h9v5h-9zM357 254h9v3h-9zM413 254h10v6h-10zM432 260h10v4h-10zM451 195h9v2h-9zM451 199h9v3h-9zM489 166h9v3h-9zM527 169h9v2h-9zM527 254h9v3h-9zM545 260h10v4h-10zM602 169h10v2h-10zM602 192h10v3h-10zM640 257h9v3h-9zM659 260h9v4h-9zM753 195h10v2h-10z"/>
<path fill="#00c7ff" d="M149 164h9v5h-9zM149 181h9v2h-9zM149 185h9v3h-9zM149 207h9v2h-9zM168 254h9v3h-9zM168 260h9v4h-9zM177 257h10v3h-10zM187 169h9v2h-9zM187 254h9v10h-9zM205 257h10v3h-10zM224 204h10v3h-10zM224 260h10v4h-10zM243 254h10v3h-10zM253 254h9v3h-9zM253 260h9v4h-9zM262 174h10v2h-10zM262 192h10v3h-10zM262 204h10v5h-10zM290 257h10v3h-10zM300 185h9v3h-9zM300 192h9v7h-9zM338 162h9v2h-9zM338 190h9v2h-9zM338 195h9v2h-9zM338 202h9v7h-9zM338 248h9v3h-9zM338 260h9v4h-9zM375 166h10v3h-10zM375 260h10v4h-10zM394 260h10v4h-10zM413 166h10v3h-10zM413 176h10v2h-10zM413 181h10v4h-10zM413 207h10v2h-10zM413 211h10v7h-10zM413 260h10v4h-10zM432 254h10v6h-10zM451 110h9v2h-9zM451 115h9v2h-9zM451 126h9v5h-9zM451 216h9v2h-9zM451 221h9v9h-9zM451 248h9v3h-9zM451 260h9v4h-9zM460 254h10v3h-10zM489 178h9v5h-9zM489 188h9v2h-9zM489 197h9v2h-9zM489 207h9v2h-9zM508 257h9v3h-9zM527 190h9v2h-9zM527 195h9v2h-9zM527 202h9v2h-9zM545 254h10v6h-10zM564 183h10v5h-10zM564 190h10v5h-10zM564 199h10v5h-10zM564 207h10v2h-10zM583 254h10v3h-10zM602 178h10v5h-10zM640 171h9v5h-9zM640 188h9v2h-9zM678 164h9v2h-9zM678 188h9v2h-9zM678 202h9v2h-9zM696 257h10v7h-10zM715 164h10v10h-10zM715 190h10v2h-10zM715 199h10v3h-10zM715 204h10v3h-10zM715 251h10v9h-10zM734 260h10v4h-10zM744 169h9v2h-9zM753 164h10v2h-10zM753 169h10v2h-10zM753 174h10v2h-10zM753 202h10v9h-10zM753 254h10v6h-10zM772 260h9v4h-9zM781 225h10v3h-10zM791 169h9v2h-9zM791 197h9v7h-9zM791 254h9v6h-9zM829 169h9v2h-9zM829 199h9v3h-9zM829 207h9v2h-9zM829 211h9v3h-9zM829 254h9v6h-9zM848 254h7v3h-7z"/>
<path fill="#00d7ff" d="M149 174h9v7h-9zM149 183h9v2h-9zM149 188h9v7h-9zM149 197h9v2h-9zM177 254h10v3h-10zM187 164h9v2h-9zM187 192h9v3h-9zM224 164h10v2h-10zM224 176h10v2h-10zM224 183h10v5h-10zM224 199h10v5h-10zM243 257h10v3h-10zM300 166h9v3h-9zM300 178h9v7h-9zM300 202h9v5h-9zM338 185h9v3h-9zM338 192h9v3h-9zM338 246h9v2h-9zM375 185h10v5h-10zM375 204h10v5h-10zM375 246h10v2h-10zM413 164h10v2h-10zM413 178h10v3h-10zM413 202h10v2h-10zM413 209h10v2h-10zM451 112h9v3h-9zM451 124h9v2h-9zM451 190h9v2h-9zM451 207h9v2h-9zM451 214h9v2h-9zM451 218h9v3h-9zM451 246h9v2h-9zM451 251h9v3h-9zM460 257h10v3h-10zM489 183h9v5h-9zM489 192h9v5h-9zM489 199h9v3h-9zM489 260h9v4h-9zM527 164h9v5h-9zM527 178h9v5h-9zM527 185h9v3h-9zM527 197h9v5h-9zM527 204h9v3h-9zM564 162h10v4h-10zM564 181h10v2h-10zM564 188h10v2h-10zM564 197h10v2h-10zM583 257h10v3h-10zM602 176h10v2h-10zM602 183h10v2h-10zM602 202h10v2h-10zM640 166h9v3h-9zM640 197h9v5h-9zM640 207h9v2h-9zM678 190h9v2h-9zM678 199h9v3h-9zM715 197h10v2h-10zM715 202h10v2h-10zM715 248h10v3h-10zM753 190h10v2h-10zM791 192h9v3h-9zM791 204h9v3h-9zM829 171h9v3h-9zM829 204h9v3h-9zM848 257h7v7h-7z"/>
<path fill="#00b7ff" d="M149 195h9v2h-9zM149 202h9v2h-9zM149 260h9v4h-9zM168 257h9v3h-9zM187 162h9v2h-9zM187 166h9v3h-9zM187 188h9v4h-9zM205 254h10v3h-10zM205 260h10v4h-10zM224 159h10v5h-10zM224 178h10v5h-10zM224 207h10v2h-10zM224 228h10v2h-10zM253 257h9v3h-9zM262 162h10v2h-10zM262 166h10v8h-10zM262 176h10v2h-10zM262 195h10v7h-10zM290 254h10v3h-10zM290 260h10v4h-10zM300 159h9v5h-9zM300 188h9v4h-9zM338 159h9v3h-9zM338 199h9v3h-9zM338 209h9v5h-9zM375 164h10v2h-10zM375 169h10v2h-10zM375 202h10v2h-10zM375 209h10v2h-10zM375 248h10v6h-10zM413 162h10v2h-10zM413 204h10v3h-10zM413 218h10v3h-10zM423 207h9v2h-9zM451 105h9v5h-9zM451 188h9v2h-9zM451 235h9v2h-9zM451 239h9v3h-9zM489 162h9v2h-9zM489 190h9v2h-9zM508 254h9v3h-9zM517 230h10v2h-10zM527 155h9v2h-9zM527 159h9v5h-9zM527 183h9v2h-9zM527 192h9v3h-9zM527 211h9v3h-9zM564 204h10v3h-10zM564 211h10v3h-10zM602 162h10v2h-10zM602 199h10v3h-10zM602 207h10v2h-10zM621 254h9v6h-9zM630 230h10v2h-10zM640 183h9v2h-9zM640 202h9v5h-9zM640 209h9v5h-9zM678 162h9v2h-9zM678 166h9v8h-9zM678 185h9v3h-9zM678 204h9v3h-9zM696 254h10v3h-10zM715 185h10v5h-10zM715 192h10v5h-10zM715 209h10v2h-10zM715 228h10v2h-10zM715 246h10v2h-10zM725 138h9v3h-9zM753 159h10v3h-10zM753 166h10v3h-10zM753 171h10v3h-10zM753 185h10v3h-10zM791 164h9v2h-9zM791 171h9v5h-9zM791 185h9v7h-9zM791 195h9v2h-9zM791 211h9v3h-9zM810 260h9v4h-9zM829 162h9v7h-9zM829 176h9v2h-9zM829 185h9v3h-9zM829 221h9v2h-9z"/>
<path fill="#00e7ff" d="M187 171h9v3h-9zM215 254h9v6h-9zM224 171h10v5h-10zM224 188h10v2h-10zM224 197h10v2h-10zM300 164h9v2h-9zM300 174h9v4h-9zM338 183h9v2h-9zM338 188h9v2h-9zM375 190h10v2h-10zM375 199h10v3h-10zM413 174h10v2h-10zM413 185h10v5h-10zM413 197h10v5h-10zM451 117h9v5h-9zM451 202h9v5h-9zM451 209h9v5h-9zM489 164h9v2h-9zM489 176h9v2h-9zM489 202h9v2h-9zM489 257h9v3h-9zM527 174h9v2h-9zM564 166h10v5h-10zM564 174h10v7h-10zM564 195h10v2h-10zM583 260h10v4h-10zM593 257h9v7h-9zM602 164h10v5h-10zM602 185h10v7h-10zM602 254h10v3h-10zM640 185h9v3h-9zM640 195h9v2h-9zM678 197h9v2h-9zM744 260h9v4h-9zM753 188h10v2h-10zM753 192h10v3h-10zM753 197h10v2h-10zM829 188h9v4h-9zM829 197h9v2h-9zM829 202h9v2h-9z"/>
<path fill="#38ffc7" d="M328 260h10v4h-10zM366 254h9v10h-9zM404 254h9v3h-9zM404 260h9v4h-9zM442 254h9v3h-9zM479 257h10v3h-10zM517 254h10v6h-10zM555 254h9v6h-9zM630 260h10v4h-10zM668 260h10v4h-10z"/>
<path fill="#18ffe7" d="M338 166h9v5h-9zM338 174h9v2h-9z"/>
<path fill="#28ffd7" d="M338 171h9v3h-9zM404 257h9v3h-9zM442 257h9v3h-9zM479 254h10v3h-10z"/>
<path fill="#48ffb7" d="M442 260h9v4h-9zM479 260h10v4h-10zM555 260h9v4h-9z"/>
<rect x="133" y="50" width="1" height="277" fill="#262626"/>
<rect x="856" y="58" width="1" height="262" fill="#262626"/>
<rect x="133" y="50" width="1" height="8" fill="#262626"/>
<rect x="133" y="320" width="1" height="7" fill="#262626"/>
<rect x="251" y="50" width="1" height="8" fill="#262626"/>
<rect x="251" y="320" width="1" height="7" fill="#262626"/>
<rect x="369" y="50" width="1" height="8" fill="#262626"/>
<rect x="369" y="320" width="1" height="7" fill="#262626"/>
<rect x="487" y="50" width="1" height="8" fill="#262626"/>
<rect x="487" y="320" width="1" height="7" fill="#262626"/>
<rect x="605" y="50" width="1" height="8" fill="#262626"/>
<rect x="605" y="320" width="1" height="7" fill="#262626"/>
<rect x="723" y="50" width="1" height="8" fill="#262626"/>
<rect x="723" y="320" width="1" height="7" fill="#262626"/>
<rect x="841" y="50" width="1" height="8" fill="#262626"/>
<rect x="841" y="320" width="1" height="7" fill="#262626"/>
<rect x="129" y="319" width="5" height="1" fill="#262626"/>
<rect x="856" y="319" width="5" height="1" fill="#262626"/>
<rect x="129" y="314" width="5" height="1" fill="#262626"/>
<rect x="856" y="314" width="5" height="1" fill="#262626"/>
<rect x="129" y="310" width="5" height="1" fill="#262626"/>
<rect x="856" y="310" width="5" height="1" fill="#262626"/>
<rect x="129" y="307" width="5" height="1" fill="#262626"/>
<rect x="856" y="307" width="5" height="1" fill="#262626"/>
<rect x="125" y="304" width="9" height="1" fill="#262626"/>
<rect x="856" y="304" width="9" height="1" fill="#262626"/>
<rect x="129" y="283" width="5" height="1" fill="#262626"/>
<rect x="856" y="283" width="5" height="1" fill="#262626"/>
<rect x="129" y="271" width="5" height="1" fill="#262626"/>
<rect x="856" y="271" width="5" height="1" fill="#262626"/>
<rect x="129" y="263" width="5" height="1" fill="#262626"/>
<rect x="856" y="263" width="5" height="1" fill="#262626"/>
<rect x="129" y="256" width="5" height="1" fill="#262626"/>
<rect x="856" y="256" width="5" height="1" fill="#262626"/>
<rect x="129" y="251" width="5" height="1" fill="#262626"/>
<rect x="856" y="251" width="5" height="1" fill="#262626"/>
<rect x="129" y="247" width="5" height="1" fill="#262626"/>
<rect x="856" y="247" width="5" height="1" fill="#262626"/>
<rect x="129" y="243" width="5" height="1" fill="#262626"/>
<rect x="856" y="243" width="5" height="1" fill="#262626"/>
<rect x="129" y="239" width="5" height="1" fill="#262626"/>
<rect x="856" y="239" width="5" height="1" fill="#262626"/>
<rect x="125" y="236" width="9" height="1" fill="#262626"/>
<rect x="856" y="236" width="9" height="1" fill="#262626"/>
<rect x="129" y="215" width="5" height="1" fill="#262626"/>
<rect x="856" y="215" width="5" height="1" fill="#262626"/>
<rect x="129" y="203" width="5" height="1" fill="#262626"/>
<rect x="856" y="203" width="5" height="1" fill="#262626"/>
<rect x="129" y="194" width="5" height="1" fill="#262626"/>
<rect x="856" y="194" width="5" height="1" fill="#262626"/>
<rect x="129" y="188" width="5" height="1" fill="#262626"/>
<rect x="856" y="188" width="5" height="1" fill="#262626"/>
<rect x="129" y="182" width="5" height="1" fill="#262626"/>
<rect x="856" y="182" width="5" height="1" fill="#262626"/>
<rect x="129" y="178" width="5" height="1" fill="#262626"/>
<rect x="856" y="178" width="5" height="1" fill="#262626"/>
<rect x="129" y="174" width="5" height="1" fill="#262626"/>
<rect x="856" y="174" width="5" height="1" fill="#262626"/>
<rect x="129" y="170" width="5" height="1" fill="#262626"/>
<rect x="856" y="170" width="5" height="1" fill="#262626"/>
<rect x="125" y="167" width="9" height="1" fill="#262626"/>
<rect x="856" y="167" width="9" height="1" fill="#262626"/>
<rect x="129" y="146" width="5" height="1" fill="#262626"/>
<rect x="856" y="146" width="5" height="1" fill="#262626"/>
<rect x="129" y="134" width="5" height="1" fill="#262626"/>
<rect x="856" y="134" width="5" height="1" fill="#262626"/>
<rect x="129" y="126" width="5" height="1" fill="#262626"/>
<rect x="856" y="126" width="5" height="1" fill="#262626"/>
<rect x="129" y="119" width="5" height="1" fill="#262626"/>
<rect x="856" y="119" width="5" height="1" fill="#262626"/>
<rect x="129" y="114" width="5" height="1" fill="#262626"/>
<rect x="856" y="114" width="5" height="1" fill="#262626"/>
<rect x="129" y="109" width="5" height="1" fill="#262626"/>
<rect x="856" y="109" width="5" height="1" fill="#262626"/>
<rect x="129" y="105" width="5" height="1" fill="#262626"/>
<rect x="856" y="105" width="5" height="1" fill="#262626"/>
<rect x="129" y="102" width="5" height="1" fill="#262626"/>
<rect x="856" y="102" width="5" height="1" fill="#262626"/>
<rect x="125" y="99" width="9" height="1" fill="#262626"/>
<rect x="856" y="99" width="9" height="1" fill="#262626"/>
<rect x="129" y="78" width="5" height="1" fill="#262626"/>
<rect x="856" y="78" width="5" height="1" fill="#262626"/>
<rect x="129" y="66" width="5" height="1" fill="#262626"/>
<rect x="856" y="66" width="5" height="1" fill="#262626"/>
<rect x="129" y="58" width="5" height="1" fill="#262626"/>
<rect x="856" y="58" width="5" height="1" fill="#262626"/>
<text x="90" y="104.9" font-size="18.2" text-anchor="middle" font-weight="normal" fill="#262626" stroke="#262626" textLength="56.6" lengthAdjust="spacingAndGlyphs" >10000</text>
<text x="90" y="174" font-size="18.2" text-anchor="middle" font-weight="normal" fill="#262626" stroke="#262626" textLength="44.4" lengthAdjust="spacingAndGlyphs" >1000</text>
<text x="90" y="241.8" font-size="18.2" text-anchor="middle" font-weight="normal" fill="#262626" stroke="#262626" textLength="33.4" lengthAdjust="spacingAndGlyphs" >100</text>
<text x="90" y="310.9" font-size="18.2" text-anchor="middle" font-weight="normal" fill="#262626" stroke="#262626" textLength="21.0" lengthAdjust="spacingAndGlyphs" >10</text>
<text x="133.15" y="351.2" font-size="18.2" text-anchor="middle" font-weight="normal" fill="#262626" stroke="#262626" textLength="50.0" lengthAdjust="spacingAndGlyphs" >10:00</text>
<text x="251.15" y="351.2" font-size="18.2" text-anchor="middle" font-weight="normal" fill="#262626" stroke="#262626" textLength="50.0" lengthAdjust="spacingAndGlyphs" >10:10</text>
<text x="369.15" y="351.2" font-size="18.2" text-anchor="middle" font-weight="normal" fill="#262626" stroke="#262626" textLength="50.0" lengthAdjust="spacingAndGlyphs" >10:20</text>
<text x="487.15" y="351.2" font-size="18.2" text-anchor="middle" font-weight="normal" fill="#262626" stroke="#262626" textLength="50.0" lengthAdjust="spacingAndGlyphs" >10:30</text>
<text x="605.15" y="351.2" font-size="18.2" text-anchor="middle" font-weight="normal" fill="#262626" stroke="#262626" textLength="50.0" lengthAdjust="spacingAndGlyphs" >10:40</text>
<text x="723.15" y="351.2" font-size="18.2" text-anchor="middle" font-weight="normal" fill="#262626" stroke="#262626" textLength="50.0" lengthAdjust="spacingAndGlyphs" >10:50</text>
<text x="841.15" y="351.2" font-size="18.2" text-anchor="middle" font-weight="normal" fill="#262626" stroke="#262626" textLength="50.0" lengthAdjust="spacingAndGlyphs" >11:00</text>
<text x="494.2" y="375.9" font-size="21" text-anchor="middle" font-weight="normal" fill="#262626" stroke="#262626" textLength="49.4" lengthAdjust="spacingAndGlyphs" >Time</text>
<text x="0" y="0" font-size="21" text-anchor="middle" fill="#262626" stroke="#262626" textLength="117" lengthAdjust="spacingAndGlyphs" transform="translate(51.3,188.8) rotate(-90)">Energy (eV)</text>
<text x="838.0" y="46.8" font-size="18.3" text-anchor="start" font-weight="normal" fill="#262626" stroke="#262626" textLength="98" lengthAdjust="spacingAndGlyphs" >Log counts</text>
<defs><linearGradient id="cb0" x1="0" y1="1" x2="0" y2="0">
<stop offset="0" stop-color="#000080"/>
<stop offset="0.125" stop-color="#0000ff"/>
<stop offset="0.375" stop-color="#00ffff"/>
<stop offset="0.625" stop-color="#ffff00"/>
<stop offset="0.875" stop-color="#ff0000"/>
<stop offset="1" stop-color="#800000"/>
</linearGradient></defs>
<rect x="875.5" y="58.5" width="23" height="261" fill="url(#cb0)" stroke="#262626" stroke-width="1"/>
<rect x="896" y="319" width="2" height="1" fill="#262626"/>
<text x="906" y="326.1" font-size="18.2" text-anchor="start" font-weight="normal" fill="#262626" stroke="#262626" textLength="9.2" lengthAdjust="spacingAndGlyphs" >0</text>
<rect x="896" y="267" width="2" height="1" fill="#262626"/>
<text x="906" y="273.8" font-size="18.2" text-anchor="start" font-weight="normal" fill="#262626" stroke="#262626" textLength="9.2" lengthAdjust="spacingAndGlyphs" >1</text>
<rect x="896" y="215" width="2" height="1" fill="#262626"/>
<text x="906" y="221.5" font-size="18.2" text-anchor="start" font-weight="normal" fill="#262626" stroke="#262626" textLength="9.2" lengthAdjust="spacingAndGlyphs" >2</text>
<rect x="896" y="162" width="2" height="1" fill="#262626"/>
<text x="906" y="169.3" font-size="18.2" text-anchor="start" font-weight="normal" fill="#262626" stroke="#262626" textLength="9.2" lengthAdjust="spacingAndGlyphs" >3</text>
<rect x="896" y="110" width="2" height="1" fill="#262626"/>
<text x="906" y="117.0" font-size="18.2" text-anchor="start" font-weight="normal" fill="#262626" stroke="#262626" textLength="9.2" lengthAdjust="spacingAndGlyphs" >4</text>
<rect x="896" y="58" width="2" height="1" fill="#262626"/>
<text x="906" y="64.7" font-size="18.2" text-anchor="start" font-weight="normal" fill="#262626" stroke="#262626" textLength="9.2" lengthAdjust="spacingAndGlyphs" >5</text>
<rect x="133" y="422" width="724" height="1" fill="#262626"/>
<path fill="#000087" d="M135 422h4v3h-4zM135 427h4v7h-4zM135 441h4v9h-4zM135 453h4v2h-4zM135 460h4v19h-4zM135 481h4v9h-4zM139 427h10v2h-10zM139 432h10v2h-10zM139 443h10v7h-10zM139 453h10v2h-10zM139 458h10v4h-10zM139 465h10v14h-10zM139 481h10v17h-10zM139 500h10v7h-10zM139 509h10v45h-10zM139 556h10v3h-10zM158 422h10v3h-10zM158 432h10v4h-10zM158 439h10v7h-10zM158 448h10v5h-10zM158 455h10v3h-10zM158 460h10v5h-10zM168 427h9v5h-9zM168 434h9v2h-9zM168 439h9v2h-9zM168 443h9v7h-9zM168 453h9v37h-9zM177 429h10v7h-10zM177 439h10v4h-10zM177 446h10v4h-10zM177 453h10v35h-10zM177 490h10v69h-10zM196 429h9v3h-9zM196 436h9v3h-9zM196 441h9v5h-9zM196 448h9v19h-9zM205 427h10v7h-10zM205 439h10v7h-10zM205 450h10v43h-10zM215 422h9v12h-9zM215 436h9v5h-9zM215 446h9v12h-9zM215 460h9v82h-9zM215 545h9v14h-9zM234 422h9v10h-9zM234 434h9v2h-9zM234 441h9v24h-9zM243 425h10v16h-10zM243 448h10v2h-10zM243 458h10v4h-10zM243 465h10v2h-10zM243 469h10v21h-10zM253 422h9v3h-9zM253 427h9v2h-9zM253 432h9v7h-9zM253 441h9v7h-9zM253 450h9v22h-9zM253 474h9v85h-9zM272 425h9v7h-9zM272 441h9v2h-9zM272 446h9v21h-9zM281 422h9v3h-9zM281 427h9v5h-9zM281 434h9v14h-9zM281 453h9v2h-9zM281 458h9v28h-9zM281 488h9v2h-9zM290 422h10v3h-10zM290 427h10v2h-10zM290 432h10v4h-10zM290 441h10v7h-10zM290 453h10v87h-10zM290 542h10v17h-10zM309 425h10v4h-10zM309 434h10v2h-10zM309 443h10v12h-10zM319 422h9v5h-9zM319 429h9v3h-9zM319 434h9v7h-9zM319 450h9v5h-9zM319 460h9v2h-9zM319 465h9v14h-9zM328 422h10v14h-10zM328 439h10v11h-10zM328 453h10v19h-10zM328 474h10v85h-10zM347 422h10v7h-10zM347 432h10v2h-10zM347 436h10v3h-10zM347 443h10v24h-10zM357 422h9v7h-9zM357 432h9v18h-9zM357 455h9v5h-9zM357 462h9v14h-9zM357 479h9v11h-9zM366 422h9v10h-9zM366 434h9v2h-9zM366 439h9v7h-9zM366 458h9v4h-9zM366 465h9v73h-9zM366 554h9v5h-9zM385 429h9v3h-9zM385 436h9v5h-9zM385 443h9v10h-9zM394 422h10v17h-10zM394 443h10v47h-10zM404 422h9v5h-9zM404 434h9v2h-9zM404 441h9v5h-9zM404 448h9v7h-9zM404 458h9v37h-9zM404 500h9v59h-9zM423 422h9v7h-9zM423 432h9v23h-9zM432 422h10v5h-10zM432 439h10v7h-10zM432 458h10v18h-10zM432 479h10v11h-10zM442 425h9v4h-9zM442 436h9v17h-9zM442 455h9v3h-9zM442 460h9v99h-9zM460 422h10v17h-10zM470 427h9v2h-9zM470 432h9v2h-9zM470 436h9v3h-9zM470 441h9v5h-9zM470 450h9v5h-9zM470 458h9v21h-9zM479 432h10v2h-10zM479 436h10v17h-10zM479 455h10v10h-10zM479 467h10v33h-10zM479 502h10v5h-10zM479 509h10v50h-10zM498 422h10v7h-10zM498 432h10v2h-10zM498 436h10v19h-10zM508 422h9v5h-9zM508 429h9v5h-9zM508 443h9v7h-9zM508 453h9v5h-9zM508 460h9v7h-9zM508 469h9v10h-9zM517 425h10v9h-10zM517 436h10v5h-10zM517 443h10v3h-10zM517 450h10v3h-10zM517 455h10v104h-10zM536 425h9v9h-9zM536 436h9v3h-9zM536 441h9v14h-9zM545 422h10v3h-10zM545 427h10v2h-10zM545 439h10v2h-10zM545 443h10v3h-10zM545 450h10v5h-10zM545 460h10v30h-10zM555 425h9v11h-9zM555 439h9v2h-9zM555 455h9v3h-9zM555 460h9v99h-9zM574 427h9v7h-9zM574 441h9v14h-9zM583 422h10v5h-10zM583 429h10v7h-10zM583 439h10v2h-10zM583 443h10v3h-10zM583 450h10v3h-10zM583 458h10v14h-10zM583 474h10v16h-10zM593 422h9v7h-9zM593 432h9v7h-9zM593 441h9v2h-9zM593 450h9v5h-9zM593 460h9v28h-9zM593 490h9v22h-9zM593 514h9v5h-9zM593 521h9v38h-9zM612 422h9v3h-9zM612 429h9v3h-9zM612 439h9v9h-9zM612 450h9v5h-9zM621 422h9v5h-9zM621 434h9v5h-9zM621 441h9v5h-9zM621 450h9v17h-9zM621 469h9v3h-9zM621 474h9v5h-9zM630 422h10v3h-10zM630 427h10v7h-10zM630 436h10v10h-10zM630 448h10v2h-10zM630 460h10v99h-10zM649 422h10v3h-10zM649 427h10v2h-10zM649 432h10v2h-10zM649 436h10v3h-10zM649 443h10v12h-10zM659 422h9v7h-9zM659 432h9v7h-9zM659 448h9v7h-9zM659 458h9v2h-9zM659 462h9v10h-9zM659 474h9v5h-9zM668 422h10v3h-10zM668 429h10v5h-10zM668 439h10v7h-10zM668 448h10v2h-10zM668 453h10v2h-10zM668 458h10v101h-10zM687 436h9v5h-9zM696 422h10v5h-10zM696 429h10v10h-10zM696 441h10v2h-10zM696 446h10v2h-10zM696 458h10v32h-10zM706 422h9v7h-9zM706 434h9v9h-9zM706 446h9v2h-9zM706 450h9v3h-9zM706 455h9v10h-9zM706 467h9v92h-9zM725 429h9v3h-9zM725 434h9v7h-9zM725 443h9v10h-9zM734 422h10v3h-10zM734 427h10v2h-10zM734 432h10v9h-10zM734 450h10v3h-10zM734 460h10v30h-10zM744 422h9v10h-9zM744 434h9v2h-9zM744 441h9v5h-9zM744 455h9v3h-9zM744 460h9v7h-9zM744 472h9v87h-9zM763 427h9v12h-9zM763 441h9v7h-9zM763 450h9v5h-9zM772 422h9v5h-9zM772 429h9v5h-9zM772 439h9v28h-9zM772 469h9v21h-9zM781 422h10v3h-10zM781 427h10v2h-10zM781 439h10v2h-10zM781 443h10v3h-10zM781 448h10v7h-10zM781 460h10v28h-10zM781 490h10v69h-10zM800 422h10v5h-10zM800 439h10v4h-10zM800 446h10v2h-10zM800 450h10v5h-10zM810 427h9v9h-9zM810 439h9v11h-9zM810 453h9v5h-9zM810 460h9v19h-9zM810 481h9v9h-9zM819 432h10v2h-10zM819 436h10v14h-10zM819 455h10v3h-10zM819 460h10v63h-10zM819 528h10v10h-10zM819 554h10v5h-10zM838 422h10v3h-10zM838 429h10v7h-10zM838 439h10v4h-10zM838 448h10v7h-10zM848 429h7v3h-7zM848 436h7v3h-7zM848 441h7v2h-7zM848 448h7v5h-7zM848 460h7v19h-7z"/>
<path fill="#000097" d="M135 490h4v3h-4zM149 436h9v3h-9zM158 465h10v4h-10zM168 490h9v3h-9zM168 495h9v3h-9zM196 467h9v2h-9zM205 493h10v2h-10zM234 465h9v4h-9zM243 490h10v5h-10zM262 434h10v2h-10zM281 490h9v3h-9zM281 500h9v2h-9zM309 455h10v5h-10zM319 479h9v4h-9zM357 490h9v3h-9zM366 538h9v2h-9zM366 552h9v2h-9zM385 453h9v2h-9zM394 490h10v3h-10zM423 455h9v3h-9zM432 490h10v3h-10zM460 441h10v2h-10zM470 479h9v2h-9zM498 455h10v3h-10zM508 479h9v2h-9zM536 455h9v3h-9zM536 462h9v3h-9zM574 455h9v3h-9zM583 490h10v5h-10zM612 455h9v5h-9zM621 479h9v2h-9zM659 479h9v2h-9zM668 559h10v2h-10zM687 443h9v7h-9zM696 490h10v5h-10zM715 429h10v3h-10zM725 453h9v2h-9zM734 490h10v3h-10zM763 455h9v5h-9zM772 490h9v5h-9zM810 490h9v5h-9zM810 509h9v3h-9zM819 538h10v2h-10zM819 552h10v2h-10zM838 455h10v3h-10zM848 479h7v4h-7z"/>
<path fill="#0000a7" d="M135 493h4v5h-4zM149 434h9v2h-9zM158 469h10v3h-10zM158 481h10v2h-10zM158 488h10v2h-10zM168 493h9v2h-9zM168 502h9v3h-9zM168 507h9v2h-9zM187 429h9v3h-9zM196 469h9v3h-9zM205 495h10v3h-10zM224 422h10v3h-10zM253 559h9v2h-9zM262 432h10v2h-10zM262 436h10v3h-10zM272 467h9v2h-9zM281 493h9v2h-9zM281 498h9v2h-9zM281 507h9v5h-9zM319 483h9v3h-9zM319 490h9v5h-9zM347 467h10v7h-10zM347 676h10v8h-10zM357 493h9v5h-9zM366 540h9v2h-9zM366 545h9v2h-9zM366 549h9v3h-9zM375 432h10v2h-10zM394 493h10v2h-10zM413 429h10v3h-10zM423 458h9v2h-9zM423 467h9v2h-9zM432 493h10v2h-10zM451 432h9v2h-9zM460 443h10v7h-10zM470 481h9v2h-9zM470 498h9v2h-9zM489 434h9v2h-9zM508 483h9v3h-9zM545 490h10v8h-10zM583 498h10v9h-10zM621 481h9v2h-9zM640 422h9v3h-9zM640 436h9v3h-9zM649 458h10v2h-10zM659 481h9v5h-9zM659 498h9v2h-9zM668 651h10v10h-10zM678 434h9v2h-9zM687 450h9v3h-9zM725 455h9v3h-9zM734 493h10v2h-10zM753 422h10v3h-10zM753 434h10v2h-10zM781 559h10v2h-10zM791 436h9v5h-9zM800 455h10v7h-10zM810 495h9v3h-9zM819 540h10v2h-10zM829 425h9v2h-9zM829 436h9v3h-9zM838 458h10v2h-10zM848 483h7v3h-7zM848 488h7v2h-7z"/>
<path fill="#0000d7" d="M135 498h4v2h-4zM139 559h10v2h-10zM149 432h9v2h-9zM149 446h9v2h-9zM158 483h10v3h-10zM168 500h9v2h-9zM168 505h9v2h-9zM168 514h9v2h-9zM187 422h9v3h-9zM187 436h9v3h-9zM187 441h9v2h-9zM196 474h9v5h-9zM196 481h9v2h-9zM224 441h10v5h-10zM234 469h9v5h-9zM243 502h10v5h-10zM262 441h10v7h-10zM272 474h9v2h-9zM281 514h9v2h-9zM300 436h9v3h-9zM309 467h10v2h-10zM319 502h9v3h-9zM328 559h10v2h-10zM338 429h9v3h-9zM338 434h9v2h-9zM338 443h9v3h-9zM347 476h10v3h-10zM357 507h9v2h-9zM375 427h10v2h-10zM375 436h10v3h-10zM375 446h10v2h-10zM394 502h10v3h-10zM413 443h10v5h-10zM423 481h9v2h-9zM432 502h10v3h-10zM451 429h9v3h-9zM451 443h9v3h-9zM460 450h10v3h-10zM460 455h10v3h-10zM470 495h9v3h-9zM470 502h9v3h-9zM489 443h9v5h-9zM489 450h9v3h-9zM498 465h10v2h-10zM508 500h9v2h-9zM508 505h9v2h-9zM527 425h9v2h-9zM536 472h9v2h-9zM536 486h9v2h-9zM545 502h10v3h-10zM555 559h9v2h-9zM564 443h10v7h-10zM583 516h10v3h-10zM602 422h10v3h-10zM602 439h10v7h-10zM621 493h9v2h-9zM621 498h9v2h-9zM621 521h9v2h-9zM630 559h10v2h-10zM640 432h9v2h-9zM649 462h10v3h-10zM649 469h10v3h-10zM659 490h9v3h-9zM659 505h9v2h-9zM678 446h9v2h-9zM687 455h9v3h-9zM696 500h10v5h-10zM753 443h10v3h-10zM753 448h10v2h-10zM763 467h9v2h-9zM772 507h9v2h-9zM791 441h9v2h-9zM791 446h9v2h-9zM800 465h10v7h-10zM810 514h9v2h-9zM829 446h9v2h-9zM838 467h10v2h-10zM848 493h7v2h-7zM848 502h7v3h-7z"/>
<path fill="#0000c7" d="M135 500h4v7h-4zM149 422h9v3h-9zM158 474h10v5h-10zM158 490h10v3h-10zM168 512h9v2h-9zM177 632h10v5h-10zM177 651h10v10h-10zM187 427h9v2h-9zM187 434h9v2h-9zM187 443h9v5h-9zM187 465h9v2h-9zM205 507h10v2h-10zM224 425h10v2h-10zM224 429h10v3h-10zM224 434h10v5h-10zM253 676h9v8h-9zM262 422h10v3h-10zM262 427h10v5h-10zM272 472h9v2h-9zM272 476h9v5h-9zM281 495h9v3h-9zM281 651h9v10h-9zM319 486h9v4h-9zM319 495h9v3h-9zM319 500h9v2h-9zM319 507h9v2h-9zM319 651h9v10h-9zM338 425h9v4h-9zM338 432h9v2h-9zM338 441h9v2h-9zM347 483h10v3h-10zM357 502h9v3h-9zM357 512h9v2h-9zM357 516h9v3h-9zM357 651h9v10h-9zM366 559h9v2h-9zM375 422h10v5h-10zM375 429h10v3h-10zM375 434h10v2h-10zM375 441h10v5h-10zM385 462h9v5h-9zM385 469h9v3h-9zM394 498h10v2h-10zM394 661h10v23h-10zM404 559h9v2h-9zM404 661h9v15h-9zM413 432h10v7h-10zM413 441h10v2h-10zM423 460h9v2h-9zM423 465h9v2h-9zM423 474h9v5h-9zM432 500h10v2h-10zM432 505h10v2h-10zM432 651h10v10h-10zM442 559h9v2h-9zM451 434h9v5h-9zM451 441h9v2h-9zM451 676h9v8h-9zM460 453h10v2h-10zM460 458h10v2h-10zM470 486h9v2h-9zM470 490h9v3h-9zM470 500h9v2h-9zM470 505h9v2h-9zM470 651h9v10h-9zM479 676h10v8h-10zM489 425h9v2h-9zM489 432h9v2h-9zM489 441h9v2h-9zM508 493h9v2h-9zM517 637h10v6h-10zM517 651h10v25h-10zM527 432h9v7h-9zM527 443h9v3h-9zM536 465h9v4h-9zM545 500h10v2h-10zM555 632h9v11h-9zM574 465h9v2h-9zM583 495h10v3h-10zM583 514h10v2h-10zM593 637h9v6h-9zM593 676h9v8h-9zM602 425h10v7h-10zM602 434h10v5h-10zM612 460h9v5h-9zM612 467h9v2h-9zM621 483h9v3h-9zM621 500h9v2h-9zM630 632h10v11h-10zM640 425h9v4h-9zM640 439h9v2h-9zM640 443h9v3h-9zM659 495h9v3h-9zM659 500h9v5h-9zM659 661h9v15h-9zM668 632h10v5h-10zM668 661h10v15h-10zM678 439h9v4h-9zM687 453h9v2h-9zM696 505h10v2h-10zM706 651h9v10h-9zM715 432h10v7h-10zM715 441h10v5h-10zM725 458h9v4h-9zM734 498h10v2h-10zM744 651h9v10h-9zM753 425h10v2h-10zM753 439h10v4h-10zM772 498h9v7h-9zM781 661h10v15h-10zM791 425h9v2h-9zM791 432h9v2h-9zM810 502h9v5h-9zM819 559h10v2h-10zM829 422h9v3h-9zM829 427h9v7h-9zM838 462h10v5h-10zM848 486h7v2h-7zM848 490h7v3h-7z"/>
<path fill="#0000e7" d="M135 507h4v2h-4zM135 519h4v2h-4zM149 441h9v5h-9zM149 448h9v7h-9zM149 467h9v2h-9zM158 493h10v2h-10zM168 516h9v5h-9zM168 526h9v2h-9zM177 561h10v2h-10zM187 472h9v4h-9zM205 661h10v15h-10zM215 651h9v10h-9zM224 448h10v5h-10zM224 460h10v2h-10zM234 479h9v2h-9zM243 500h10v2h-10zM243 519h10v2h-10zM243 526h10v2h-10zM272 481h9v5h-9zM272 676h9v8h-9zM290 632h10v5h-10zM300 432h9v2h-9zM309 465h10v2h-10zM309 472h10v2h-10zM309 676h10v8h-10zM319 505h9v2h-9zM319 509h9v3h-9zM319 516h9v3h-9zM328 637h10v6h-10zM328 661h10v23h-10zM338 446h9v4h-9zM347 479h10v4h-10zM347 490h10v3h-10zM357 514h9v2h-9zM375 450h10v3h-10zM385 467h9v2h-9zM394 500h10v2h-10zM394 507h10v5h-10zM394 521h10v2h-10zM404 632h9v11h-9zM413 427h10v2h-10zM413 453h10v2h-10zM413 676h10v8h-10zM423 479h9v2h-9zM442 643h9v8h-9zM442 661h9v15h-9zM451 446h9v2h-9zM460 460h10v2h-10zM470 512h9v2h-9zM470 661h9v15h-9zM479 637h10v6h-10zM479 661h10v15h-10zM489 427h9v2h-9zM489 661h9v23h-9zM498 467h10v7h-10zM498 476h10v5h-10zM498 661h10v15h-10zM508 502h9v3h-9zM508 507h9v2h-9zM508 512h9v2h-9zM527 446h9v4h-9zM536 469h9v3h-9zM536 476h9v5h-9zM536 488h9v2h-9zM536 661h9v15h-9zM545 507h10v5h-10zM545 516h10v3h-10zM545 523h10v3h-10zM545 528h10v2h-10zM574 467h9v2h-9zM574 481h9v2h-9zM574 486h9v2h-9zM583 523h10v3h-10zM602 446h10v4h-10zM612 469h9v3h-9zM612 676h9v8h-9zM621 502h9v7h-9zM640 446h9v4h-9zM649 467h10v2h-10zM649 472h10v2h-10zM659 509h9v3h-9zM659 526h9v2h-9zM659 530h9v3h-9zM668 561h10v2h-10zM678 429h9v3h-9zM678 443h9v3h-9zM678 448h9v2h-9zM687 661h9v15h-9zM696 521h10v2h-10zM706 561h9v2h-9zM706 661h9v15h-9zM715 450h10v3h-10zM715 462h10v3h-10zM734 502h10v5h-10zM734 514h10v2h-10zM753 446h10v2h-10zM763 472h9v4h-9zM772 512h9v7h-9zM772 528h9v2h-9zM791 429h9v3h-9zM791 448h9v2h-9zM791 458h9v2h-9zM791 462h9v3h-9zM800 462h10v3h-10zM810 512h9v2h-9zM810 516h9v3h-9zM810 676h9v8h-9zM829 443h9v3h-9zM829 448h9v5h-9zM838 469h10v3h-10zM838 486h10v2h-10zM848 505h7v2h-7zM848 519h7v2h-7zM848 523h7v3h-7z"/>
<path fill="#0008ff" d="M135 509h4v3h-4zM135 514h4v2h-4zM135 526h4v4h-4zM135 661h4v23h-4zM139 561h10v2h-10zM139 651h10v25h-10zM158 661h10v15h-10zM168 521h9v5h-9zM168 535h9v5h-9zM168 545h9v2h-9zM168 643h9v8h-9zM177 661h10v15h-10zM187 448h9v2h-9zM187 453h9v9h-9zM187 469h9v3h-9zM187 479h9v2h-9zM187 486h9v2h-9zM205 521h10v2h-10zM205 643h10v8h-10zM215 561h9v2h-9zM215 676h9v8h-9zM224 462h10v3h-10zM224 676h10v8h-10zM234 474h9v5h-9zM243 509h10v3h-10zM243 521h10v5h-10zM243 528h10v2h-10zM243 533h10v2h-10zM243 538h10v2h-10zM243 676h10v8h-10zM262 465h10v2h-10zM262 505h10v2h-10zM262 676h10v8h-10zM272 490h9v3h-9zM272 512h9v2h-9zM272 661h9v15h-9zM281 521h9v7h-9zM300 422h9v5h-9zM300 441h9v2h-9zM300 446h9v2h-9zM300 450h9v5h-9zM309 474h10v2h-10zM309 479h10v2h-10zM309 490h10v3h-10zM309 661h10v15h-10zM319 512h9v4h-9zM319 530h9v3h-9zM319 661h9v15h-9zM338 453h9v5h-9zM347 486h10v4h-10zM347 493h10v2h-10zM347 498h10v2h-10zM347 502h10v3h-10zM347 507h10v2h-10zM347 661h10v15h-10zM357 521h9v2h-9zM366 661h9v15h-9zM375 458h10v4h-10zM385 476h9v3h-9zM385 481h9v2h-9zM385 661h9v15h-9zM394 512h10v2h-10zM394 523h10v3h-10zM404 561h9v2h-9zM404 676h9v8h-9zM413 455h10v3h-10zM413 460h10v2h-10zM413 469h10v3h-10zM423 486h9v7h-9zM423 661h9v15h-9zM432 514h10v2h-10zM432 519h10v2h-10zM432 523h10v5h-10zM432 530h10v3h-10zM432 661h10v23h-10zM451 661h9v15h-9zM470 509h9v3h-9zM470 516h9v3h-9zM470 521h9v7h-9zM479 561h10v2h-10zM479 632h10v5h-10zM479 643h10v8h-10zM489 448h9v2h-9zM489 453h9v5h-9zM498 474h10v2h-10zM498 486h10v2h-10zM508 509h9v3h-9zM508 523h9v5h-9zM508 661h9v15h-9zM527 450h9v8h-9zM527 661h9v23h-9zM536 474h9v2h-9zM536 490h9v3h-9zM545 519h10v4h-10zM545 530h10v10h-10zM564 676h10v8h-10zM574 474h9v2h-9zM574 479h9v2h-9zM574 490h9v3h-9zM574 676h9v8h-9zM583 519h10v2h-10zM583 526h10v4h-10zM583 535h10v3h-10zM583 651h10v33h-10zM612 474h9v2h-9zM612 488h9v2h-9zM621 516h9v5h-9zM621 528h9v2h-9zM621 651h9v25h-9zM630 561h10v2h-10zM630 651h10v10h-10zM640 458h9v2h-9zM640 465h9v2h-9zM649 476h10v7h-10zM649 493h10v2h-10zM649 661h10v23h-10zM659 514h9v7h-9zM659 535h9v3h-9zM678 453h9v5h-9zM678 676h9v8h-9zM687 676h9v8h-9zM696 514h10v2h-10zM696 533h10v2h-10zM715 455h10v3h-10zM715 493h10v2h-10zM725 462h9v7h-9zM734 521h10v2h-10zM734 530h10v3h-10zM734 535h10v3h-10zM734 542h10v3h-10zM744 561h9v2h-9zM744 676h9v8h-9zM753 455h10v3h-10zM753 460h10v2h-10zM763 479h9v2h-9zM763 490h9v5h-9zM772 521h9v2h-9zM772 530h9v3h-9zM772 538h9v2h-9zM781 643h10v8h-10zM781 676h10v8h-10zM791 453h9v2h-9zM791 465h9v2h-9zM800 476h10v3h-10zM800 483h10v3h-10zM810 519h9v2h-9zM810 526h9v4h-9zM810 533h9v2h-9zM810 651h9v10h-9zM819 561h10v2h-10zM819 637h10v6h-10zM829 661h9v23h-9zM838 474h10v5h-10zM838 481h10v2h-10zM838 488h10v2h-10zM848 512h7v4h-7zM848 521h7v2h-7z"/>
<path fill="#0000f7" d="M135 512h4v2h-4zM135 516h4v3h-4zM135 521h4v2h-4zM135 651h4v10h-4zM139 632h10v19h-10zM139 676h10v8h-10zM149 455h9v3h-9zM149 460h9v2h-9zM149 661h9v23h-9zM158 495h10v3h-10zM158 502h10v3h-10zM158 676h10v8h-10zM168 528h9v7h-9zM168 651h9v10h-9zM168 676h9v8h-9zM177 637h10v14h-10zM177 676h10v8h-10zM187 450h9v3h-9zM187 462h9v3h-9zM187 476h9v3h-9zM187 661h9v23h-9zM196 479h9v2h-9zM196 483h9v7h-9zM196 661h9v15h-9zM205 516h10v5h-10zM205 523h10v5h-10zM205 651h10v10h-10zM215 632h9v19h-9zM215 661h9v15h-9zM224 446h10v2h-10zM224 453h10v7h-10zM224 661h10v15h-10zM234 481h9v12h-9zM234 661h9v23h-9zM243 507h10v2h-10zM243 512h10v2h-10zM243 516h10v3h-10zM243 535h10v3h-10zM243 661h10v15h-10zM253 561h9v2h-9zM253 628h9v4h-9zM253 643h9v33h-9zM262 448h10v17h-10zM262 467h10v7h-10zM262 476h10v3h-10zM262 661h10v15h-10zM272 486h9v2h-9zM272 493h9v2h-9zM272 651h9v10h-9zM281 516h9v5h-9zM281 661h9v23h-9zM290 561h10v2h-10zM290 637h10v47h-10zM300 427h9v5h-9zM300 434h9v2h-9zM300 439h9v2h-9zM300 443h9v3h-9zM300 448h9v2h-9zM300 661h9v23h-9zM309 469h10v3h-10zM309 476h10v3h-10zM319 519h9v2h-9zM319 676h9v8h-9zM328 632h10v5h-10zM328 643h10v8h-10zM338 450h9v3h-9zM338 661h9v23h-9zM347 495h10v3h-10zM347 500h10v2h-10zM357 519h9v2h-9zM357 526h9v2h-9zM357 661h9v15h-9zM366 561h9v2h-9zM366 632h9v29h-9zM366 676h9v8h-9zM375 448h10v2h-10zM375 453h10v5h-10zM375 661h10v23h-10zM385 472h9v2h-9zM385 676h9v8h-9zM394 505h10v2h-10zM394 514h10v7h-10zM394 526h10v2h-10zM394 530h10v8h-10zM404 643h9v18h-9zM413 448h10v5h-10zM413 458h10v2h-10zM413 462h10v5h-10zM413 661h10v15h-10zM423 483h9v3h-9zM423 676h9v8h-9zM432 507h10v2h-10zM432 512h10v2h-10zM432 521h10v2h-10zM442 632h9v11h-9zM442 651h9v10h-9zM442 676h9v8h-9zM460 661h10v23h-10zM470 507h9v2h-9zM470 514h9v2h-9zM470 519h9v2h-9zM470 676h9v8h-9zM479 651h10v10h-10zM498 481h10v5h-10zM498 488h10v2h-10zM498 676h10v8h-10zM508 514h9v7h-9zM508 676h9v8h-9zM517 643h10v8h-10zM536 481h9v2h-9zM536 676h9v8h-9zM545 505h10v2h-10zM545 512h10v4h-10zM545 526h10v2h-10zM545 676h10v8h-10zM555 561h9v2h-9zM555 661h9v15h-9zM564 450h10v3h-10zM564 661h10v15h-10zM574 469h9v5h-9zM574 476h9v3h-9zM574 483h9v3h-9zM574 488h9v2h-9zM574 661h9v15h-9zM583 521h10v2h-10zM583 530h10v5h-10zM593 643h9v33h-9zM602 661h10v23h-10zM612 472h9v2h-9zM612 476h9v3h-9zM612 661h9v15h-9zM621 509h9v7h-9zM621 523h9v3h-9zM621 676h9v8h-9zM630 643h10v8h-10zM630 661h10v15h-10zM640 450h9v8h-9zM640 460h9v5h-9zM640 469h9v3h-9zM640 661h9v23h-9zM649 474h10v2h-10zM659 507h9v2h-9zM659 512h9v2h-9zM659 521h9v5h-9zM659 533h9v2h-9zM659 651h9v10h-9zM659 676h9v8h-9zM668 643h10v8h-10zM668 676h10v8h-10zM678 450h9v3h-9zM678 661h9v15h-9zM687 458h9v9h-9zM696 507h10v7h-10zM696 516h10v5h-10zM696 526h10v2h-10zM696 651h10v33h-10zM706 632h9v19h-9zM706 676h9v8h-9zM715 446h10v4h-10zM715 453h10v2h-10zM715 458h10v4h-10zM715 661h10v23h-10zM725 661h9v23h-9zM734 507h10v7h-10zM734 516h10v5h-10zM734 523h10v7h-10zM734 533h10v2h-10zM734 538h10v2h-10zM734 651h10v25h-10zM744 632h9v19h-9zM744 661h9v15h-9zM753 450h10v3h-10zM753 661h10v23h-10zM763 469h9v3h-9zM763 476h9v3h-9zM763 481h9v9h-9zM763 661h9v23h-9zM772 519h9v2h-9zM772 523h9v5h-9zM772 533h9v2h-9zM772 651h9v33h-9zM781 637h10v6h-10zM781 651h10v10h-10zM791 443h9v3h-9zM791 450h9v3h-9zM791 460h9v2h-9zM791 661h9v23h-9zM800 472h10v4h-10zM800 481h10v2h-10zM800 661h10v23h-10zM810 521h9v5h-9zM810 530h9v3h-9zM810 535h9v3h-9zM810 661h9v15h-9zM819 632h10v5h-10zM819 643h10v18h-10zM819 676h10v8h-10zM829 453h9v5h-9zM838 472h10v2h-10zM838 479h10v2h-10zM838 483h10v3h-10zM838 661h10v23h-10zM848 507h7v5h-7zM848 516h7v3h-7zM848 526h7v2h-7zM848 651h7v33h-7z"/>
<path fill="#0018ff" d="M135 523h4v3h-4zM135 530h4v3h-4zM149 458h9v2h-9zM149 462h9v5h-9zM149 474h9v2h-9zM149 479h9v2h-9zM158 498h10v4h-10zM158 505h10v4h-10zM168 540h9v2h-9zM187 467h9v2h-9zM187 483h9v3h-9zM196 490h9v5h-9zM205 528h10v5h-10zM224 465h10v2h-10zM224 469h10v3h-10zM234 493h9v2h-9zM234 498h9v7h-9zM243 530h10v3h-10zM262 483h10v3h-10zM272 488h9v2h-9zM272 495h9v3h-9zM281 528h9v2h-9zM281 533h9v5h-9zM300 455h9v3h-9zM309 486h10v4h-10zM319 521h9v5h-9zM319 528h9v2h-9zM319 535h9v3h-9zM328 561h10v2h-10zM338 458h9v2h-9zM338 481h9v2h-9zM357 540h9v2h-9zM357 545h9v2h-9zM385 474h9v2h-9zM385 479h9v2h-9zM385 505h9v2h-9zM385 512h9v2h-9zM394 528h10v2h-10zM394 538h10v4h-10zM394 545h10v2h-10zM413 467h10v2h-10zM423 505h9v2h-9zM432 509h10v3h-10zM432 516h10v3h-10zM442 561h9v2h-9zM451 448h9v2h-9zM460 462h10v10h-10zM460 479h10v2h-10zM460 483h10v3h-10zM470 528h9v5h-9zM489 458h9v2h-9zM498 493h10v5h-10zM498 507h10v2h-10zM508 521h9v2h-9zM517 561h10v2h-10zM527 458h9v2h-9zM527 469h9v3h-9zM527 474h9v2h-9zM536 483h9v3h-9zM536 493h9v5h-9zM536 509h9v3h-9zM545 540h10v2h-10zM564 453h10v5h-10zM574 495h9v3h-9zM574 500h9v2h-9zM574 509h9v3h-9zM583 540h10v5h-10zM583 547h10v2h-10zM593 561h9v2h-9zM602 450h10v8h-10zM602 462h10v3h-10zM602 469h10v3h-10zM602 486h10v2h-10zM612 479h9v4h-9zM621 526h9v2h-9zM640 472h9v2h-9zM640 483h9v3h-9zM640 495h9v3h-9zM640 505h9v2h-9zM649 483h10v3h-10zM649 495h10v3h-10zM659 528h9v2h-9zM659 540h9v2h-9zM687 467h9v2h-9zM687 472h9v4h-9zM696 523h10v3h-10zM696 535h10v3h-10zM696 540h10v5h-10zM715 467h10v5h-10zM715 488h10v5h-10zM715 498h10v2h-10zM725 469h9v5h-9zM725 486h9v2h-9zM753 453h10v2h-10zM753 472h10v2h-10zM753 476h10v3h-10zM763 505h9v2h-9zM772 535h9v3h-9zM772 540h9v5h-9zM791 455h9v3h-9zM791 467h9v2h-9zM791 486h9v2h-9zM800 479h10v2h-10zM800 486h10v2h-10zM800 505h10v2h-10zM810 538h9v4h-9zM810 545h9v2h-9zM829 460h9v2h-9zM829 498h9v2h-9zM838 493h10v5h-10zM848 528h7v5h-7z"/>
<path fill="#0038ff" d="M135 533h4v2h-4zM135 643h4v8h-4zM149 469h9v5h-9zM149 488h9v5h-9zM149 495h9v5h-9zM158 523h10v3h-10zM168 542h9v3h-9zM168 547h9v5h-9zM177 628h10v4h-10zM187 488h9v2h-9zM187 502h9v3h-9zM196 500h9v2h-9zM196 516h9v3h-9zM205 538h10v2h-10zM205 542h10v3h-10zM205 547h10v5h-10zM224 481h10v2h-10zM224 486h10v2h-10zM224 651h10v10h-10zM234 507h9v2h-9zM234 512h9v2h-9zM243 643h10v8h-10zM253 563h9v3h-9zM262 498h10v2h-10zM262 651h10v10h-10zM272 500h9v5h-9zM272 509h9v3h-9zM281 540h9v2h-9zM281 545h9v7h-9zM300 481h9v2h-9zM300 651h9v10h-9zM309 500h10v7h-10zM309 509h10v5h-10zM319 542h9v3h-9zM319 547h9v2h-9zM319 554h9v2h-9zM319 643h9v8h-9zM338 465h9v2h-9zM338 469h9v3h-9zM338 474h9v2h-9zM338 493h9v2h-9zM338 651h9v10h-9zM347 509h10v5h-10zM347 516h10v5h-10zM347 526h10v2h-10zM347 530h10v3h-10zM357 533h9v7h-9zM357 542h9v3h-9zM357 547h9v2h-9zM357 643h9v8h-9zM366 628h9v4h-9zM375 498h10v2h-10zM385 493h9v2h-9zM385 502h9v3h-9zM385 507h9v2h-9zM385 514h9v2h-9zM385 594h9v2h-9zM385 651h9v10h-9zM394 643h10v8h-10zM413 479h10v2h-10zM423 498h9v2h-9zM423 514h9v2h-9zM432 540h10v5h-10zM432 549h10v3h-10zM442 628h9v4h-9zM460 472h10v2h-10zM460 481h10v2h-10zM460 493h10v5h-10zM460 502h10v3h-10zM470 545h9v2h-9zM470 549h9v3h-9zM489 460h9v2h-9zM489 474h9v2h-9zM489 490h9v3h-9zM498 500h10v5h-10zM498 509h10v3h-10zM498 514h10v2h-10zM508 533h9v5h-9zM508 540h9v5h-9zM508 547h9v5h-9zM527 460h9v5h-9zM527 467h9v2h-9zM527 472h9v2h-9zM527 476h9v5h-9zM527 483h9v3h-9zM536 521h9v2h-9zM536 526h9v4h-9zM545 545h10v4h-10zM545 643h10v8h-10zM564 462h10v3h-10zM574 512h9v2h-9zM574 608h9v2h-9zM574 651h9v10h-9zM583 545h10v2h-10zM583 643h10v8h-10zM593 628h9v4h-9zM602 474h10v7h-10zM602 483h10v3h-10zM602 488h10v7h-10zM602 651h10v10h-10zM612 500h9v2h-9zM612 651h9v10h-9zM621 538h9v4h-9zM630 628h10v4h-10zM640 474h9v2h-9zM640 479h9v2h-9zM640 486h9v2h-9zM640 490h9v3h-9zM640 507h9v7h-9zM640 651h9v10h-9zM649 490h10v3h-10zM649 500h10v2h-10zM649 608h10v2h-10zM659 547h9v2h-9zM659 643h9v8h-9zM678 462h9v3h-9zM687 476h9v5h-9zM687 486h9v4h-9zM687 495h9v3h-9zM687 500h9v2h-9zM687 651h9v10h-9zM696 545h10v2h-10zM706 628h9v4h-9zM715 495h10v3h-10zM725 479h9v2h-9zM725 500h9v2h-9zM725 535h9v3h-9zM734 547h10v2h-10zM734 556h10v5h-10zM734 643h10v8h-10zM744 563h9v3h-9zM753 467h10v5h-10zM753 483h10v5h-10zM753 490h10v3h-10zM753 495h10v3h-10zM753 507h10v2h-10zM763 498h9v7h-9zM763 507h9v2h-9zM763 512h9v2h-9zM772 547h9v2h-9zM791 474h9v2h-9zM791 483h9v3h-9zM791 488h9v2h-9zM791 493h9v7h-9zM791 502h9v3h-9zM800 488h10v5h-10zM800 495h10v5h-10zM800 507h10v7h-10zM819 563h10v3h-10zM829 465h9v9h-9zM829 479h9v2h-9zM829 488h9v2h-9zM829 493h9v5h-9zM838 490h10v3h-10zM838 507h10v9h-10zM848 538h7v2h-7zM848 547h7v2h-7z"/>
<path fill="#0048ff" d="M135 535h4v7h-4zM149 500h9v7h-9zM158 526h10v9h-10zM158 547h10v2h-10zM158 578h10v4h-10zM168 554h9v2h-9zM168 563h9v3h-9zM168 571h9v2h-9zM168 575h9v3h-9zM177 563h10v3h-10zM187 500h9v2h-9zM187 505h9v2h-9zM196 495h9v3h-9zM196 563h9v3h-9zM196 575h9v3h-9zM205 552h10v4h-10zM205 571h10v2h-10zM224 474h10v2h-10zM224 490h10v3h-10zM224 498h10v2h-10zM234 514h9v2h-9zM234 519h9v2h-9zM234 530h9v3h-9zM234 538h9v4h-9zM234 575h9v3h-9zM243 571h10v2h-10zM243 578h10v2h-10zM262 500h10v5h-10zM262 507h10v2h-10zM272 507h9v2h-9zM272 559h9v4h-9zM281 552h9v2h-9zM281 573h9v2h-9zM281 594h9v2h-9zM300 479h9v2h-9zM300 483h9v5h-9zM300 500h9v2h-9zM309 514h10v2h-10zM309 535h10v3h-10zM309 545h10v2h-10zM309 552h10v2h-10zM309 559h10v2h-10zM309 578h10v2h-10zM319 540h9v2h-9zM319 545h9v2h-9zM319 549h9v3h-9zM319 578h9v2h-9zM338 472h9v2h-9zM338 488h9v5h-9zM338 509h9v3h-9zM347 523h10v3h-10zM347 528h10v2h-10zM347 533h10v2h-10zM347 561h10v2h-10zM357 549h9v3h-9zM375 467h10v5h-10zM375 474h10v7h-10zM385 490h9v3h-9zM385 498h9v2h-9zM385 575h9v3h-9zM385 580h9v2h-9zM394 547h10v2h-10zM413 490h10v5h-10zM413 502h10v3h-10zM413 509h10v3h-10zM423 500h9v5h-9zM423 516h9v5h-9zM423 554h9v2h-9zM423 563h9v3h-9zM423 592h9v2h-9zM423 608h9v2h-9zM432 545h10v4h-10zM432 552h10v2h-10zM432 568h10v3h-10zM432 575h10v3h-10zM432 580h10v2h-10zM442 563h9v3h-9zM451 453h9v2h-9zM460 505h10v2h-10zM460 526h10v2h-10zM460 571h10v2h-10zM460 585h10v2h-10zM460 608h10v2h-10zM470 535h9v5h-9zM470 542h9v3h-9zM470 547h9v2h-9zM470 566h9v2h-9zM489 462h9v3h-9zM489 495h9v3h-9zM498 516h10v3h-10zM498 582h10v3h-10zM508 552h9v2h-9zM508 575h9v3h-9zM517 563h10v3h-10zM527 486h9v2h-9zM527 495h9v7h-9zM527 507h9v2h-9zM527 512h9v2h-9zM536 505h9v2h-9zM536 514h9v2h-9zM536 530h9v3h-9zM536 538h9v2h-9zM536 549h9v3h-9zM545 549h10v3h-10zM545 589h10v5h-10zM555 563h9v3h-9zM564 467h10v2h-10zM564 479h10v4h-10zM574 516h9v5h-9zM574 526h9v2h-9zM574 568h9v3h-9zM583 549h10v3h-10zM583 582h10v3h-10zM593 563h9v3h-9zM602 472h10v2h-10zM602 481h10v2h-10zM602 495h10v3h-10zM602 502h10v3h-10zM612 483h9v3h-9zM612 490h9v3h-9zM612 495h9v3h-9zM612 505h9v2h-9zM612 521h9v2h-9zM621 542h9v5h-9zM621 578h9v2h-9zM621 587h9v2h-9zM630 563h10v3h-10zM640 488h9v2h-9zM640 500h9v2h-9zM640 514h9v5h-9zM649 502h10v3h-10zM649 519h10v2h-10zM649 528h10v2h-10zM649 563h10v3h-10zM649 568h10v3h-10zM649 578h10v2h-10zM659 552h9v2h-9zM678 465h9v4h-9zM678 476h9v5h-9zM678 486h9v2h-9zM687 502h9v3h-9zM687 514h9v2h-9zM687 523h9v3h-9zM687 573h9v2h-9zM687 578h9v2h-9zM687 592h9v2h-9zM696 552h10v2h-10zM696 568h10v5h-10zM715 486h10v2h-10zM715 500h10v2h-10zM715 505h10v2h-10zM725 488h9v2h-9zM725 495h9v3h-9zM725 505h9v2h-9zM725 514h9v2h-9zM725 519h9v2h-9zM725 563h9v5h-9zM725 582h9v3h-9zM734 549h10v3h-10zM734 592h10v2h-10zM753 465h10v2h-10zM753 488h10v2h-10zM753 502h10v3h-10zM763 514h9v5h-9zM772 552h9v4h-9zM772 575h9v3h-9zM781 563h10v3h-10zM791 505h9v4h-9zM800 502h10v3h-10zM800 549h10v3h-10zM800 554h10v2h-10zM800 573h10v5h-10zM810 552h9v2h-9zM810 559h9v2h-9zM810 589h9v3h-9zM829 474h9v2h-9zM829 486h9v2h-9zM829 490h9v3h-9zM838 516h10v3h-10zM838 566h10v2h-10zM848 549h7v5h-7zM848 566h7v2h-7zM848 575h7v3h-7zM848 585h7v2h-7z"/>
<path fill="#0068ff" d="M135 542h4v3h-4zM139 628h10v4h-10zM149 509h9v3h-9zM149 519h9v2h-9zM149 526h9v2h-9zM158 535h10v3h-10zM158 545h10v2h-10zM158 552h10v4h-10zM158 561h10v5h-10zM158 571h10v7h-10zM158 585h10v2h-10zM158 608h10v2h-10zM158 651h10v10h-10zM168 561h9v2h-9zM168 573h9v2h-9zM168 582h9v3h-9zM168 587h9v5h-9zM168 596h9v3h-9zM168 608h9v2h-9zM187 514h9v2h-9zM196 519h9v2h-9zM196 523h9v3h-9zM196 530h9v3h-9zM196 535h9v5h-9zM196 552h9v7h-9zM196 566h9v2h-9zM196 578h9v2h-9zM196 582h9v3h-9zM196 608h9v2h-9zM205 556h10v3h-10zM205 566h10v2h-10zM205 580h10v2h-10zM205 585h10v2h-10zM205 608h10v2h-10zM215 563h9v3h-9zM224 493h10v2h-10zM224 505h10v7h-10zM234 526h9v4h-9zM234 533h9v2h-9zM234 542h9v5h-9zM234 552h9v4h-9zM234 566h9v2h-9zM234 578h9v2h-9zM234 582h9v3h-9zM243 563h10v3h-10zM243 573h10v5h-10zM243 580h10v2h-10zM243 585h10v4h-10zM272 526h9v4h-9zM272 552h9v2h-9zM272 556h9v3h-9zM272 566h9v5h-9zM272 573h9v2h-9zM272 578h9v4h-9zM272 608h9v2h-9zM281 559h9v2h-9zM281 571h9v2h-9zM281 589h9v5h-9zM281 596h9v3h-9zM281 608h9v2h-9zM300 460h9v2h-9zM300 469h9v5h-9zM300 502h9v3h-9zM300 507h9v5h-9zM300 514h9v2h-9zM309 528h10v2h-10zM309 538h10v7h-10zM309 549h10v3h-10zM309 554h10v2h-10zM309 563h10v3h-10zM309 571h10v4h-10zM309 580h10v7h-10zM319 561h9v2h-9zM319 566h9v5h-9zM319 585h9v4h-9zM319 608h9v2h-9zM338 495h9v5h-9zM338 507h9v2h-9zM338 512h9v2h-9zM347 540h10v7h-10zM347 556h10v3h-10zM347 563h10v3h-10zM347 575h10v10h-10zM347 592h10v2h-10zM357 552h9v4h-9zM357 561h9v5h-9zM357 571h9v2h-9zM357 575h9v3h-9zM357 587h9v5h-9zM357 596h9v3h-9zM357 608h9v2h-9zM375 472h10v2h-10zM375 486h10v2h-10zM375 493h10v2h-10zM375 500h10v2h-10zM375 505h10v4h-10zM375 512h10v2h-10zM385 521h9v2h-9zM385 530h9v5h-9zM385 556h9v3h-9zM385 561h9v5h-9zM385 585h9v2h-9zM385 592h9v2h-9zM385 608h9v2h-9zM394 554h10v2h-10zM394 566h10v2h-10zM394 578h10v2h-10zM394 582h10v7h-10zM394 592h10v2h-10zM394 599h10v2h-10zM413 498h10v2h-10zM413 505h10v4h-10zM413 512h10v2h-10zM423 521h9v2h-9zM423 526h9v2h-9zM423 530h9v3h-9zM423 535h9v5h-9zM423 556h9v3h-9zM423 561h9v2h-9zM423 566h9v2h-9zM423 571h9v2h-9zM423 580h9v5h-9zM423 587h9v2h-9zM432 563h10v3h-10zM432 571h10v4h-10zM432 585h10v2h-10zM432 589h10v3h-10zM432 594h10v2h-10zM451 458h9v2h-9zM451 493h9v7h-9zM451 505h9v2h-9zM451 512h9v2h-9zM460 507h10v2h-10zM460 523h10v3h-10zM460 528h10v2h-10zM460 535h10v5h-10zM460 563h10v3h-10zM460 575h10v5h-10zM460 582h10v3h-10zM460 587h10v2h-10zM460 594h10v2h-10zM470 578h9v2h-9zM470 582h9v12h-9zM470 608h9v2h-9zM489 500h9v2h-9zM489 505h9v2h-9zM498 530h10v8h-10zM498 540h10v2h-10zM498 552h10v2h-10zM498 561h10v5h-10zM498 568h10v3h-10zM498 578h10v4h-10zM498 589h10v3h-10zM498 594h10v2h-10zM498 608h10v2h-10zM508 554h9v5h-9zM508 563h9v5h-9zM508 571h9v2h-9zM508 580h9v2h-9zM508 585h9v7h-9zM508 596h9v3h-9zM508 608h9v2h-9zM527 509h9v3h-9zM527 528h9v2h-9zM536 516h9v5h-9zM536 535h9v3h-9zM536 556h9v3h-9zM536 561h9v2h-9zM536 566h9v2h-9zM536 573h9v2h-9zM536 578h9v7h-9zM536 589h9v10h-9zM545 559h10v2h-10zM545 563h10v3h-10zM545 568h10v3h-10zM545 573h10v2h-10zM545 578h10v4h-10zM545 594h10v2h-10zM564 472h10v2h-10zM564 488h10v2h-10zM564 495h10v5h-10zM564 509h10v3h-10zM564 514h10v2h-10zM574 514h9v2h-9zM574 521h9v2h-9zM574 528h9v2h-9zM574 547h9v2h-9zM574 554h9v2h-9zM574 561h9v5h-9zM574 571h9v2h-9zM574 585h9v2h-9zM574 589h9v3h-9zM574 594h9v2h-9zM583 561h10v5h-10zM583 585h10v2h-10zM583 592h10v4h-10zM602 500h10v2h-10zM602 509h10v3h-10zM612 512h9v2h-9zM612 516h9v5h-9zM612 530h9v8h-9zM612 554h9v5h-9zM612 563h9v5h-9zM612 573h9v5h-9zM612 587h9v2h-9zM621 559h9v2h-9zM621 568h9v3h-9zM621 575h9v3h-9zM621 592h9v4h-9zM621 608h9v2h-9zM640 521h9v5h-9zM649 507h10v2h-10zM649 514h10v2h-10zM649 521h10v2h-10zM649 530h10v5h-10zM649 538h10v2h-10zM649 561h10v2h-10zM649 566h10v2h-10zM649 585h10v2h-10zM649 589h10v3h-10zM649 594h10v2h-10zM649 599h10v2h-10zM659 559h9v7h-9zM659 571h9v2h-9zM659 580h9v7h-9zM659 592h9v4h-9zM659 608h9v2h-9zM678 474h9v2h-9zM678 490h9v5h-9zM678 502h9v5h-9zM678 509h9v5h-9zM687 509h9v5h-9zM687 528h9v5h-9zM687 535h9v3h-9zM687 549h9v3h-9zM687 563h9v3h-9zM687 571h9v2h-9zM687 587h9v5h-9zM687 596h9v3h-9zM687 608h9v2h-9zM696 554h10v2h-10zM696 561h10v2h-10zM696 566h10v2h-10zM696 573h10v2h-10zM696 580h10v7h-10zM696 589h10v7h-10zM696 608h10v2h-10zM706 563h9v3h-9zM715 512h10v4h-10zM715 526h10v2h-10zM715 651h10v10h-10zM725 493h9v2h-9zM725 502h9v3h-9zM725 509h9v5h-9zM725 528h9v2h-9zM725 533h9v2h-9zM725 547h9v5h-9zM725 571h9v4h-9zM725 580h9v2h-9zM725 592h9v2h-9zM725 608h9v2h-9zM734 554h10v2h-10zM734 563h10v3h-10zM734 568h10v5h-10zM734 575h10v5h-10zM734 589h10v3h-10zM734 608h10v2h-10zM753 509h10v3h-10zM753 514h10v2h-10zM753 651h10v10h-10zM763 519h9v11h-9zM763 535h9v10h-9zM763 556h9v3h-9zM763 563h9v3h-9zM763 582h9v3h-9zM763 587h9v2h-9zM763 592h9v7h-9zM763 608h9v2h-9zM772 556h9v5h-9zM772 563h9v3h-9zM772 568h9v3h-9zM772 580h9v2h-9zM772 585h9v7h-9zM772 601h9v2h-9zM772 608h9v2h-9zM791 509h9v3h-9zM791 651h9v10h-9zM800 526h10v12h-10zM800 547h10v2h-10zM800 563h10v3h-10zM800 568h10v3h-10zM800 580h10v2h-10zM800 585h10v9h-10zM800 608h10v2h-10zM810 556h9v3h-9zM810 573h9v7h-9zM810 582h9v3h-9zM810 587h9v2h-9zM810 594h9v2h-9zM810 608h9v2h-9zM829 509h9v3h-9zM829 514h9v2h-9zM829 651h9v10h-9zM838 526h10v2h-10zM838 530h10v3h-10zM838 535h10v3h-10zM838 542h10v3h-10zM838 547h10v2h-10zM838 561h10v5h-10zM838 575h10v3h-10zM838 589h10v3h-10zM838 651h10v10h-10zM848 556h7v3h-7zM848 573h7v2h-7zM848 578h7v2h-7zM848 582h7v3h-7zM848 587h7v2h-7z"/>
<path fill="#0058ff" d="M135 545h4v2h-4zM139 566h10v2h-10zM149 507h9v2h-9zM149 514h9v5h-9zM149 521h9v2h-9zM158 538h10v2h-10zM158 542h10v3h-10zM158 549h10v3h-10zM158 559h10v2h-10zM168 552h9v2h-9zM168 556h9v5h-9zM168 566h9v5h-9zM168 578h9v4h-9zM168 585h9v2h-9zM168 592h9v4h-9zM177 566h10v2h-10zM187 507h9v5h-9zM196 514h9v2h-9zM196 533h9v2h-9zM196 559h9v4h-9zM196 568h9v3h-9zM196 580h9v2h-9zM205 559h10v2h-10zM205 563h10v3h-10zM205 573h10v7h-10zM224 495h10v3h-10zM224 500h10v5h-10zM224 512h10v2h-10zM234 516h9v3h-9zM234 521h9v2h-9zM234 547h9v5h-9zM234 556h9v5h-9zM234 563h9v3h-9zM234 580h9v2h-9zM243 547h10v2h-10zM243 552h10v2h-10zM243 566h10v5h-10zM243 582h10v3h-10zM262 509h10v3h-10zM272 516h9v10h-9zM272 530h9v8h-9zM272 571h9v2h-9zM272 582h9v3h-9zM281 554h9v5h-9zM281 561h9v5h-9zM281 575h9v3h-9zM281 582h9v3h-9zM290 563h10v3h-10zM300 462h9v3h-9zM300 467h9v2h-9zM300 476h9v3h-9zM300 488h9v5h-9zM300 495h9v5h-9zM300 505h9v2h-9zM309 516h10v7h-10zM309 526h10v2h-10zM309 530h10v3h-10zM309 547h10v2h-10zM309 561h10v2h-10zM309 568h10v3h-10zM309 651h10v10h-10zM319 552h9v2h-9zM319 556h9v5h-9zM319 563h9v3h-9zM319 571h9v7h-9zM319 582h9v3h-9zM319 592h9v4h-9zM328 563h10v3h-10zM338 479h9v2h-9zM338 500h9v2h-9zM347 547h10v9h-10zM347 559h10v2h-10zM347 568h10v7h-10zM347 585h10v7h-10zM347 594h10v2h-10zM357 559h9v2h-9zM357 566h9v2h-9zM357 573h9v2h-9zM357 578h9v2h-9zM357 582h9v5h-9zM357 592h9v2h-9zM366 563h9v3h-9zM375 481h10v5h-10zM375 488h10v5h-10zM375 495h10v3h-10zM375 502h10v3h-10zM385 516h9v5h-9zM385 526h9v4h-9zM385 535h9v3h-9zM385 559h9v2h-9zM385 566h9v2h-9zM385 571h9v2h-9zM385 578h9v2h-9zM385 582h9v3h-9zM385 587h9v5h-9zM385 599h9v2h-9zM394 561h10v2h-10zM394 571h10v7h-10zM394 594h10v2h-10zM404 563h9v3h-9zM413 495h10v3h-10zM413 500h10v2h-10zM413 514h10v2h-10zM423 523h9v3h-9zM423 528h9v2h-9zM423 533h9v2h-9zM423 552h9v2h-9zM423 568h9v3h-9zM423 573h9v7h-9zM432 554h10v9h-10zM432 566h10v2h-10zM432 578h10v2h-10zM432 582h10v3h-10zM432 587h10v2h-10zM451 455h9v3h-9zM451 500h9v5h-9zM451 507h9v5h-9zM460 509h10v14h-10zM460 552h10v2h-10zM460 556h10v7h-10zM460 573h10v2h-10zM460 589h10v5h-10zM470 552h9v11h-9zM470 568h9v10h-9zM470 580h9v2h-9zM479 563h10v3h-10zM489 469h9v3h-9zM489 493h9v2h-9zM489 502h9v3h-9zM489 507h9v7h-9zM498 519h10v2h-10zM498 523h10v3h-10zM498 528h10v2h-10zM498 556h10v5h-10zM498 566h10v2h-10zM498 571h10v2h-10zM498 585h10v4h-10zM508 559h9v4h-9zM508 568h9v3h-9zM508 573h9v2h-9zM508 578h9v2h-9zM508 582h9v3h-9zM508 592h9v4h-9zM527 502h9v5h-9zM527 514h9v5h-9zM536 523h9v3h-9zM536 533h9v2h-9zM536 540h9v5h-9zM536 547h9v2h-9zM536 559h9v2h-9zM536 568h9v3h-9zM536 575h9v3h-9zM536 585h9v2h-9zM545 552h10v7h-10zM545 561h10v2h-10zM545 566h10v2h-10zM545 571h10v2h-10zM545 575h10v3h-10zM545 582h10v5h-10zM564 474h10v5h-10zM564 483h10v5h-10zM564 490h10v3h-10zM564 500h10v2h-10zM564 505h10v4h-10zM564 512h10v2h-10zM574 523h9v3h-9zM574 530h9v5h-9zM574 556h9v5h-9zM574 566h9v2h-9zM574 575h9v3h-9zM574 582h9v3h-9zM574 587h9v2h-9zM574 592h9v2h-9zM583 552h10v9h-10zM583 566h10v2h-10zM583 571h10v2h-10zM583 578h10v4h-10zM583 587h10v5h-10zM602 498h10v2h-10zM602 505h10v4h-10zM612 502h9v3h-9zM612 507h9v5h-9zM612 514h9v2h-9zM612 523h9v7h-9zM612 561h9v2h-9zM612 571h9v2h-9zM612 578h9v2h-9zM612 582h9v5h-9zM612 592h9v2h-9zM621 549h9v7h-9zM621 561h9v5h-9zM621 571h9v4h-9zM621 580h9v2h-9zM621 585h9v2h-9zM621 589h9v3h-9zM640 519h9v2h-9zM649 505h10v2h-10zM649 523h10v3h-10zM649 552h10v9h-10zM649 571h10v7h-10zM649 587h10v2h-10zM659 554h9v5h-9zM659 566h9v5h-9zM659 575h9v5h-9zM668 563h10v3h-10zM678 469h9v5h-9zM678 483h9v3h-9zM678 488h9v2h-9zM678 495h9v5h-9zM678 507h9v2h-9zM687 505h9v4h-9zM687 516h9v7h-9zM687 526h9v2h-9zM687 533h9v2h-9zM687 556h9v5h-9zM687 566h9v5h-9zM687 575h9v3h-9zM687 580h9v5h-9zM696 556h10v3h-10zM696 563h10v3h-10zM696 575h10v5h-10zM715 502h10v3h-10zM715 507h10v2h-10zM715 516h10v3h-10zM715 521h10v5h-10zM725 490h9v3h-9zM725 498h9v2h-9zM725 507h9v2h-9zM725 516h9v3h-9zM725 521h9v7h-9zM725 530h9v3h-9zM725 538h9v9h-9zM725 556h9v7h-9zM725 568h9v3h-9zM725 575h9v5h-9zM725 585h9v7h-9zM734 552h10v2h-10zM734 566h10v2h-10zM734 573h10v2h-10zM734 580h10v5h-10zM734 587h10v2h-10zM753 493h10v2h-10zM753 505h10v2h-10zM753 512h10v2h-10zM763 530h9v3h-9zM763 549h9v3h-9zM763 559h9v4h-9zM763 571h9v7h-9zM763 580h9v2h-9zM763 585h9v2h-9zM763 589h9v3h-9zM763 651h9v10h-9zM772 561h9v2h-9zM772 566h9v2h-9zM772 571h9v4h-9zM772 582h9v3h-9zM772 592h9v4h-9zM800 516h10v7h-10zM800 538h10v9h-10zM800 556h10v5h-10zM800 566h10v2h-10zM800 651h10v10h-10zM810 549h9v3h-9zM810 554h9v2h-9zM810 563h9v10h-9zM810 585h9v2h-9zM810 592h9v2h-9zM829 483h9v3h-9zM829 505h9v4h-9zM838 519h10v4h-10zM838 528h10v2h-10zM838 533h10v2h-10zM838 538h10v4h-10zM838 549h10v3h-10zM838 568h10v5h-10zM838 580h10v2h-10zM838 585h10v2h-10zM838 592h10v2h-10zM848 559h7v2h-7zM848 563h7v3h-7zM848 568h7v5h-7zM848 580h7v2h-7zM848 592h7v2h-7z"/>
<path fill="#0078ff" d="M135 547h4v5h-4zM149 512h9v2h-9zM149 523h9v3h-9zM158 540h10v2h-10zM158 556h10v3h-10zM158 566h10v5h-10zM158 582h10v3h-10zM158 599h10v2h-10zM177 568h10v3h-10zM187 512h9v2h-9zM187 516h9v3h-9zM187 542h9v3h-9zM196 521h9v2h-9zM196 526h9v4h-9zM196 540h9v2h-9zM196 547h9v5h-9zM196 571h9v4h-9zM196 601h9v2h-9zM205 561h10v2h-10zM205 568h10v3h-10zM205 582h10v3h-10zM224 519h10v2h-10zM224 533h10v2h-10zM234 523h9v3h-9zM234 535h9v3h-9zM234 561h9v2h-9zM234 568h9v7h-9zM234 585h9v2h-9zM234 592h9v2h-9zM243 549h10v3h-10zM243 554h10v2h-10zM243 559h10v2h-10zM243 599h10v2h-10zM243 608h10v2h-10zM262 512h10v4h-10zM262 530h10v3h-10zM272 538h9v7h-9zM272 547h9v2h-9zM272 554h9v2h-9zM272 563h9v3h-9zM272 575h9v3h-9zM272 585h9v2h-9zM272 596h9v3h-9zM281 566h9v5h-9zM281 578h9v4h-9zM281 585h9v4h-9zM281 599h9v4h-9zM290 566h10v2h-10zM300 465h9v2h-9zM300 474h9v2h-9zM300 493h9v2h-9zM300 512h9v2h-9zM300 519h9v4h-9zM309 523h10v3h-10zM309 533h10v2h-10zM309 556h10v3h-10zM309 566h10v2h-10zM309 575h10v3h-10zM309 608h10v2h-10zM319 580h9v2h-9zM319 589h9v3h-9zM319 596h9v5h-9zM338 502h9v5h-9zM338 516h9v5h-9zM338 523h9v3h-9zM347 535h10v5h-10zM357 556h9v3h-9zM357 580h9v2h-9zM357 594h9v2h-9zM366 566h9v2h-9zM375 509h10v3h-10zM375 514h10v2h-10zM385 523h9v3h-9zM385 538h9v2h-9zM385 554h9v2h-9zM385 568h9v3h-9zM385 573h9v2h-9zM385 596h9v3h-9zM394 552h10v2h-10zM394 556h10v5h-10zM394 563h10v3h-10zM394 568h10v3h-10zM394 580h10v2h-10zM394 589h10v3h-10zM394 596h10v3h-10zM394 608h10v2h-10zM404 566h9v2h-9zM413 519h10v2h-10zM413 533h10v2h-10zM423 559h9v2h-9zM423 585h9v2h-9zM423 589h9v3h-9zM432 592h10v2h-10zM432 596h10v3h-10zM432 608h10v2h-10zM451 460h9v2h-9zM451 490h9v3h-9zM451 516h9v3h-9zM451 523h9v3h-9zM460 530h10v5h-10zM460 549h10v3h-10zM460 566h10v5h-10zM460 580h10v2h-10zM460 596h10v3h-10zM460 601h10v2h-10zM470 563h9v3h-9zM470 594h9v7h-9zM489 498h9v2h-9zM489 514h9v2h-9zM489 523h9v3h-9zM498 521h10v2h-10zM498 526h10v2h-10zM498 538h10v2h-10zM498 554h10v2h-10zM498 573h10v5h-10zM498 592h10v2h-10zM498 599h10v2h-10zM527 519h9v9h-9zM527 530h9v3h-9zM536 545h9v2h-9zM536 552h9v4h-9zM536 563h9v3h-9zM536 571h9v2h-9zM536 587h9v2h-9zM545 587h10v2h-10zM545 596h10v3h-10zM545 608h10v2h-10zM564 493h10v2h-10zM564 502h10v3h-10zM574 535h9v7h-9zM574 578h9v4h-9zM574 606h9v2h-9zM583 568h10v3h-10zM583 575h10v3h-10zM583 608h10v2h-10zM602 512h10v4h-10zM612 538h9v2h-9zM612 547h9v7h-9zM612 559h9v2h-9zM612 568h9v3h-9zM612 580h9v2h-9zM612 589h9v3h-9zM612 594h9v2h-9zM621 556h9v3h-9zM621 566h9v2h-9zM621 582h9v3h-9zM621 596h9v5h-9zM640 526h9v2h-9zM649 509h10v5h-10zM649 516h10v3h-10zM649 526h10v2h-10zM649 549h10v3h-10zM649 580h10v5h-10zM649 596h10v3h-10zM649 601h10v5h-10zM659 573h9v2h-9zM659 587h9v5h-9zM659 596h9v5h-9zM678 481h9v2h-9zM678 500h9v2h-9zM687 538h9v4h-9zM687 552h9v4h-9zM687 561h9v2h-9zM687 594h9v2h-9zM687 599h9v2h-9zM687 606h9v2h-9zM696 549h10v3h-10zM696 559h10v2h-10zM696 596h10v5h-10zM715 509h10v3h-10zM715 519h10v2h-10zM715 530h10v3h-10zM725 552h9v4h-9zM725 594h9v2h-9zM725 599h9v2h-9zM734 561h10v2h-10zM734 585h10v2h-10zM734 594h10v7h-10zM753 516h10v3h-10zM763 533h9v2h-9zM763 545h9v4h-9zM763 552h9v4h-9zM763 566h9v5h-9zM763 578h9v2h-9zM763 599h9v2h-9zM772 578h9v2h-9zM772 596h9v5h-9zM791 523h9v3h-9zM800 523h10v3h-10zM800 552h10v2h-10zM800 561h10v2h-10zM800 571h10v2h-10zM800 578h10v2h-10zM800 582h10v3h-10zM800 594h10v2h-10zM829 512h9v2h-9zM829 516h9v3h-9zM838 523h10v3h-10zM838 545h10v2h-10zM838 552h10v9h-10zM838 573h10v2h-10zM838 578h10v2h-10zM838 582h10v3h-10zM838 587h10v2h-10zM838 594h10v5h-10zM848 554h7v2h-7zM848 561h7v2h-7zM848 589h7v3h-7zM848 594h7v2h-7zM848 608h7v2h-7z"/>
<path fill="#0087ff" d="M135 552h4v4h-4zM135 559h4v2h-4zM149 528h9v5h-9zM158 587h10v7h-10zM168 601h9v2h-9zM187 519h9v4h-9zM187 538h9v4h-9zM196 594h9v5h-9zM205 601h10v2h-10zM215 566h9v2h-9zM224 514h10v5h-10zM224 528h10v2h-10zM234 587h9v5h-9zM234 606h9v4h-9zM243 556h10v3h-10zM243 603h10v5h-10zM253 566h9v2h-9zM253 608h9v2h-9zM262 523h10v7h-10zM262 535h10v3h-10zM272 549h9v3h-9zM272 587h9v5h-9zM272 601h9v2h-9zM300 516h9v3h-9zM300 530h9v3h-9zM309 587h10v2h-10zM309 594h10v2h-10zM309 606h10v2h-10zM328 566h10v2h-10zM338 514h9v2h-9zM338 526h9v2h-9zM347 566h10v2h-10zM347 596h10v3h-10zM347 601h10v2h-10zM347 606h10v2h-10zM357 568h9v3h-9zM357 601h9v2h-9zM375 516h10v5h-10zM375 523h10v3h-10zM385 542h9v3h-9zM385 549h9v5h-9zM413 523h10v7h-10zM423 540h9v5h-9zM423 549h9v3h-9zM423 594h9v7h-9zM423 610h9v8h-9zM432 599h10v2h-10zM432 606h10v2h-10zM451 469h9v3h-9zM451 474h9v2h-9zM451 479h9v2h-9zM451 488h9v2h-9zM451 521h9v2h-9zM460 540h10v7h-10zM460 554h10v2h-10zM460 599h10v2h-10zM460 603h10v3h-10zM470 601h9v5h-9zM489 516h9v3h-9zM489 521h9v2h-9zM489 528h9v5h-9zM498 542h10v3h-10zM498 603h10v3h-10zM508 603h9v3h-9zM536 599h9v2h-9zM536 606h9v2h-9zM545 599h10v2h-10zM564 516h10v5h-10zM564 526h10v2h-10zM574 549h9v3h-9zM574 573h9v2h-9zM574 596h9v3h-9zM574 601h9v2h-9zM574 615h9v3h-9zM583 573h10v2h-10zM583 596h10v3h-10zM602 516h10v7h-10zM602 526h10v2h-10zM602 530h10v3h-10zM612 540h9v2h-9zM612 599h9v2h-9zM612 603h9v3h-9zM612 612h9v6h-9zM621 601h9v2h-9zM640 528h9v7h-9zM649 535h10v3h-10zM649 540h10v9h-10zM649 592h10v2h-10zM649 615h10v3h-10zM659 603h9v3h-9zM668 566h10v2h-10zM678 514h9v2h-9zM678 519h9v2h-9zM678 523h9v5h-9zM678 533h9v5h-9zM687 545h9v4h-9zM687 585h9v2h-9zM687 603h9v3h-9zM696 587h10v2h-10zM696 601h10v5h-10zM715 528h10v2h-10zM715 533h10v2h-10zM725 596h9v3h-9zM725 601h9v2h-9zM744 566h9v2h-9zM753 519h10v2h-10zM753 523h10v5h-10zM791 512h9v7h-9zM791 521h9v2h-9zM791 528h9v10h-9zM800 596h10v5h-10zM800 606h10v2h-10zM810 561h9v2h-9zM810 580h9v2h-9zM810 596h9v12h-9zM819 566h10v2h-10zM829 523h9v3h-9zM838 601h10v2h-10zM838 608h10v2h-10zM848 596h7v7h-7zM848 606h7v2h-7z"/>
<path fill="#0097ff" d="M135 556h4v3h-4zM139 568h10v3h-10zM149 533h9v2h-9zM149 540h9v2h-9zM158 601h10v2h-10zM158 606h10v2h-10zM168 599h9v2h-9zM168 603h9v5h-9zM187 526h9v12h-9zM187 545h9v7h-9zM196 542h9v5h-9zM196 585h9v9h-9zM196 603h9v3h-9zM205 587h10v14h-10zM215 608h9v2h-9zM224 521h10v2h-10zM224 535h10v3h-10zM234 594h9v2h-9zM234 599h9v7h-9zM243 561h10v2h-10zM243 589h10v5h-10zM243 596h10v3h-10zM243 601h10v2h-10zM262 516h10v7h-10zM262 533h10v2h-10zM272 592h9v2h-9zM272 599h9v2h-9zM272 606h9v2h-9zM281 603h9v5h-9zM300 526h9v4h-9zM300 533h9v2h-9zM309 589h10v3h-10zM309 596h10v3h-10zM309 601h10v5h-10zM319 601h9v7h-9zM338 521h9v2h-9zM338 530h9v5h-9zM347 610h10v5h-10zM357 599h9v2h-9zM357 603h9v5h-9zM375 521h10v2h-10zM375 528h10v5h-10zM375 535h10v5h-10zM385 540h9v2h-9zM385 545h9v4h-9zM385 603h9v5h-9zM394 601h10v2h-10zM394 606h10v2h-10zM413 516h10v3h-10zM423 603h9v3h-9zM432 601h10v5h-10zM451 462h9v3h-9zM451 467h9v2h-9zM451 472h9v2h-9zM451 481h9v2h-9zM451 514h9v2h-9zM451 526h9v2h-9zM451 530h9v10h-9zM460 547h10v2h-10zM460 610h10v5h-10zM479 566h10v2h-10zM489 519h9v2h-9zM489 526h9v2h-9zM489 533h9v5h-9zM498 545h10v7h-10zM498 596h10v3h-10zM498 601h10v2h-10zM498 606h10v2h-10zM508 599h9v4h-9zM508 606h9v2h-9zM517 566h10v2h-10zM527 533h9v2h-9zM536 601h9v5h-9zM536 610h9v8h-9zM545 603h10v5h-10zM555 566h9v2h-9zM564 521h10v2h-10zM564 533h10v2h-10zM564 540h10v2h-10zM574 552h9v2h-9zM574 599h9v2h-9zM574 603h9v3h-9zM574 612h9v3h-9zM583 599h10v9h-10zM593 566h9v2h-9zM602 523h10v3h-10zM602 533h10v5h-10zM612 542h9v5h-9zM612 596h9v3h-9zM612 610h9v2h-9zM630 566h10v2h-10zM649 610h10v5h-10zM659 601h9v2h-9zM678 516h9v3h-9zM678 521h9v2h-9zM678 528h9v5h-9zM687 542h9v3h-9zM687 601h9v2h-9zM696 606h10v2h-10zM706 566h9v2h-9zM725 603h9v5h-9zM734 606h10v2h-10zM753 521h10v2h-10zM753 528h10v2h-10zM753 535h10v5h-10zM763 601h9v5h-9zM772 603h9v5h-9zM781 566h10v2h-10zM791 519h9v2h-9zM791 526h9v2h-9zM800 601h10v5h-10zM829 519h9v4h-9zM829 528h9v2h-9zM829 533h9v5h-9zM838 599h10v2h-10zM838 603h10v5h-10zM848 603h7v3h-7z"/>
<path fill="#00a7ff" d="M135 561h4v2h-4zM135 566h4v2h-4zM135 578h4v2h-4zM135 608h4v2h-4zM139 571h10v2h-10zM139 608h10v2h-10zM149 535h9v3h-9zM158 594h10v5h-10zM158 603h10v3h-10zM177 571h10v2h-10zM177 608h10v2h-10zM187 523h9v3h-9zM196 599h9v2h-9zM196 606h9v2h-9zM205 603h10v5h-10zM224 523h10v5h-10zM224 530h10v3h-10zM234 596h9v3h-9zM243 594h10v2h-10zM262 540h10v2h-10zM272 545h9v2h-9zM272 603h9v3h-9zM300 523h9v3h-9zM300 535h9v3h-9zM309 592h10v2h-10zM309 599h10v2h-10zM338 528h9v2h-9zM338 535h9v3h-9zM338 540h9v2h-9zM347 599h10v2h-10zM347 603h10v3h-10zM347 615h10v3h-10zM375 533h10v2h-10zM375 540h10v2h-10zM385 601h9v2h-9zM413 521h10v2h-10zM413 530h10v3h-10zM413 535h10v3h-10zM413 547h10v2h-10zM423 545h9v4h-9zM423 601h9v2h-9zM423 606h9v2h-9zM442 566h9v2h-9zM451 465h9v2h-9zM451 476h9v3h-9zM451 483h9v5h-9zM451 519h9v2h-9zM451 528h9v2h-9zM460 606h10v2h-10zM460 615h10v3h-10zM470 606h9v2h-9zM489 538h9v4h-9zM489 608h9v2h-9zM527 535h9v7h-9zM545 601h10v2h-10zM564 523h10v3h-10zM564 530h10v3h-10zM564 535h10v5h-10zM574 542h9v5h-9zM574 610h9v2h-9zM602 528h10v2h-10zM602 538h10v4h-10zM612 601h9v2h-9zM612 606h9v2h-9zM621 603h9v5h-9zM630 568h10v3h-10zM640 535h9v7h-9zM649 606h10v2h-10zM659 606h9v2h-9zM668 568h10v3h-10zM715 535h10v3h-10zM734 601h10v5h-10zM753 530h10v5h-10zM753 540h10v2h-10zM763 606h9v2h-9zM791 538h9v2h-9zM829 526h9v2h-9zM829 538h9v2h-9z"/>
<path fill="#00b7ff" d="M135 563h4v3h-4zM135 592h4v2h-4zM135 596h4v3h-4zM139 573h10v2h-10zM139 580h10v5h-10zM149 538h9v2h-9zM149 542h9v3h-9zM158 610h10v2h-10zM168 610h9v2h-9zM168 615h9v3h-9zM177 573h10v2h-10zM196 610h9v2h-9zM196 624h9v4h-9zM205 612h10v3h-10zM224 538h10v7h-10zM253 568h9v3h-9zM262 538h10v2h-10zM272 594h9v2h-9zM272 610h9v2h-9zM290 608h10v2h-10zM300 538h9v7h-9zM309 621h10v3h-10zM328 568h10v3h-10zM338 538h9v2h-9zM338 542h9v3h-9zM357 610h9v5h-9zM375 526h10v2h-10zM375 542h10v3h-10zM385 612h9v6h-9zM394 603h10v3h-10zM404 568h9v3h-9zM404 573h9v2h-9zM413 538h10v4h-10zM451 540h9v7h-9zM451 643h9v8h-9zM470 610h9v2h-9zM489 542h9v5h-9zM527 545h9v2h-9zM545 615h10v3h-10zM564 528h10v2h-10zM564 542h10v3h-10zM564 547h10v2h-10zM564 643h10v8h-10zM640 542h9v3h-9zM659 612h9v6h-9zM678 538h9v7h-9zM715 538h10v7h-10zM734 612h10v3h-10zM753 545h10v2h-10zM763 612h9v6h-9zM772 610h9v2h-9zM772 615h9v3h-9zM781 568h10v3h-10zM791 540h9v2h-9zM791 545h9v2h-9zM800 610h10v2h-10zM819 568h10v3h-10zM829 530h9v3h-9zM829 545h9v2h-9zM838 615h10v3h-10zM848 610h7v2h-7z"/>
<path fill="#00c7ff" d="M135 568h4v5h-4zM135 575h4v3h-4zM135 582h4v10h-4zM139 575h10v5h-10zM139 587h10v2h-10zM139 592h10v2h-10zM149 545h9v2h-9zM149 549h9v3h-9zM158 612h10v16h-10zM168 612h9v3h-9zM168 628h9v4h-9zM177 575h10v5h-10zM177 582h10v3h-10zM187 552h9v2h-9zM196 612h9v6h-9zM196 628h9v4h-9zM205 610h10v2h-10zM205 615h10v3h-10zM205 628h10v4h-10zM215 568h9v5h-9zM224 628h10v4h-10zM234 610h9v5h-9zM234 618h9v14h-9zM243 610h10v8h-10zM243 628h10v4h-10zM262 545h10v4h-10zM262 628h10v4h-10zM272 612h9v6h-9zM272 628h9v4h-9zM281 610h9v5h-9zM290 571h10v2h-10zM300 545h9v2h-9zM300 628h9v4h-9zM309 610h10v5h-10zM309 618h10v3h-10zM309 624h10v8h-10zM319 610h9v8h-9zM338 608h9v2h-9zM338 643h9v8h-9zM347 628h10v4h-10zM357 615h9v3h-9zM375 547h10v2h-10zM375 643h10v8h-10zM385 618h9v6h-9zM394 610h10v5h-10zM413 545h10v2h-10zM413 643h10v8h-10zM432 610h10v8h-10zM442 568h9v3h-9zM442 573h9v2h-9zM451 552h9v2h-9zM470 612h9v6h-9zM479 568h10v3h-10zM498 610h10v8h-10zM508 610h9v8h-9zM517 568h10v3h-10zM527 542h9v3h-9zM527 547h9v2h-9zM545 612h10v3h-10zM555 568h9v3h-9zM583 610h10v8h-10zM593 568h9v5h-9zM602 542h10v7h-10zM621 610h9v5h-9zM640 549h9v3h-9zM659 610h9v2h-9zM668 573h10v2h-10zM678 545h9v2h-9zM687 610h9v5h-9zM696 612h10v6h-10zM706 568h9v3h-9zM715 545h10v4h-10zM725 610h9v8h-9zM734 610h10v2h-10zM734 615h10v3h-10zM753 542h10v3h-10zM753 608h10v2h-10zM772 612h9v3h-9zM781 573h10v2h-10zM791 542h9v3h-9zM791 547h9v2h-9zM791 628h9v4h-9zM800 612h10v6h-10zM810 610h9v8h-9zM819 571h10v2h-10zM829 540h9v5h-9zM829 547h9v2h-9zM838 610h10v5h-10zM848 612h7v6h-7z"/>
<path fill="#00d7ff" d="M135 573h4v2h-4zM135 580h4v2h-4zM135 594h4v2h-4zM139 585h10v2h-10zM139 589h10v3h-10zM149 547h9v2h-9zM149 552h9v2h-9zM149 606h9v2h-9zM177 580h10v2h-10zM177 601h10v2h-10zM187 573h9v2h-9zM187 628h9v4h-9zM205 637h10v6h-10zM224 545h10v2h-10zM224 549h10v3h-10zM224 608h10v2h-10zM234 615h9v3h-9zM253 571h9v2h-9zM262 542h10v3h-10zM262 549h10v3h-10zM281 615h9v3h-9zM281 628h9v4h-9zM281 637h9v6h-9zM290 568h10v3h-10zM300 547h9v5h-9zM300 582h9v5h-9zM309 615h10v3h-10zM328 571h10v7h-10zM328 589h10v3h-10zM328 608h10v2h-10zM338 552h9v4h-9zM338 568h9v3h-9zM366 568h9v7h-9zM366 578h9v2h-9zM375 545h10v2h-10zM375 608h10v2h-10zM385 610h9v2h-9zM394 615h10v3h-10zM404 571h9v2h-9zM404 575h9v5h-9zM413 542h10v3h-10zM413 549h10v3h-10zM413 589h10v3h-10zM442 571h9v2h-9zM442 608h9v2h-9zM479 571h10v7h-10zM479 585h10v2h-10zM479 608h10v2h-10zM489 549h9v3h-9zM517 571h10v7h-10zM517 594h10v2h-10zM517 608h10v2h-10zM527 549h9v5h-9zM527 643h9v8h-9zM545 610h10v2h-10zM555 592h9v2h-9zM555 608h9v2h-9zM564 545h10v2h-10zM564 549h10v3h-10zM564 603h10v3h-10zM564 608h10v2h-10zM574 618h9v3h-9zM602 549h10v3h-10zM602 599h10v2h-10zM602 608h10v2h-10zM621 615h9v3h-9zM630 571h10v4h-10zM630 608h10v2h-10zM640 545h9v4h-9zM640 554h9v2h-9zM640 599h9v2h-9zM640 608h9v2h-9zM668 582h10v3h-10zM668 608h10v2h-10zM678 549h9v3h-9zM678 568h9v3h-9zM678 603h9v3h-9zM678 608h9v2h-9zM687 615h9v3h-9zM696 610h10v2h-10zM706 573h9v2h-9zM706 608h9v2h-9zM715 549h10v3h-10zM715 568h10v3h-10zM715 592h10v2h-10zM715 608h10v2h-10zM744 568h9v10h-9zM744 596h9v3h-9zM744 608h9v2h-9zM753 547h10v5h-10zM763 610h9v2h-9zM781 571h10v2h-10zM781 575h10v3h-10zM791 608h9v2h-9zM819 573h10v7h-10zM819 608h10v2h-10zM829 549h9v3h-9zM829 575h9v3h-9zM829 608h9v2h-9z"/>
<path fill="#00e7ff" d="M135 599h4v2h-4zM139 594h10v7h-10zM139 610h10v2h-10zM149 554h9v5h-9zM149 571h9v2h-9zM149 582h9v7h-9zM149 608h9v2h-9zM177 587h10v9h-10zM177 606h10v2h-10zM187 554h9v2h-9zM187 559h9v2h-9zM187 575h9v3h-9zM187 594h9v2h-9zM187 603h9v3h-9zM187 608h9v2h-9zM205 632h10v5h-10zM215 573h9v7h-9zM215 589h9v3h-9zM215 594h9v5h-9zM215 601h9v5h-9zM215 615h9v3h-9zM224 547h10v2h-10zM224 554h10v7h-10zM224 566h10v2h-10zM224 571h10v2h-10zM224 582h10v3h-10zM224 592h10v2h-10zM224 606h10v2h-10zM253 573h9v2h-9zM253 580h9v2h-9zM253 594h9v2h-9zM253 599h9v2h-9zM253 603h9v3h-9zM262 575h10v3h-10zM262 580h10v2h-10zM262 596h10v3h-10zM262 606h10v4h-10zM290 575h10v7h-10zM290 585h10v2h-10zM290 589h10v3h-10zM290 599h10v2h-10zM300 554h9v2h-9zM300 571h9v2h-9zM300 589h9v3h-9zM300 603h9v3h-9zM309 643h10v8h-10zM328 580h10v2h-10zM328 606h10v2h-10zM338 545h9v7h-9zM338 573h9v2h-9zM338 578h9v2h-9zM338 585h9v2h-9zM366 575h9v3h-9zM366 596h9v3h-9zM366 608h9v2h-9zM375 554h10v2h-10zM375 561h10v2h-10zM375 566h10v5h-10zM375 578h10v2h-10zM375 582h10v3h-10zM375 587h10v2h-10zM375 606h10v2h-10zM385 628h9v4h-9zM404 594h9v2h-9zM404 601h9v5h-9zM404 608h9v2h-9zM413 554h10v2h-10zM413 571h10v2h-10zM413 580h10v2h-10zM413 594h10v2h-10zM413 608h10v2h-10zM423 628h9v4h-9zM442 594h9v2h-9zM442 599h9v2h-9zM451 547h9v5h-9zM451 554h9v5h-9zM451 575h9v3h-9zM451 596h9v3h-9zM451 601h9v2h-9zM451 606h9v4h-9zM479 578h10v2h-10zM489 552h9v2h-9zM489 556h9v3h-9zM489 566h9v2h-9zM489 571h9v2h-9zM489 575h9v3h-9zM489 596h9v3h-9zM489 628h9v4h-9zM517 580h10v2h-10zM527 568h9v3h-9zM527 575h9v3h-9zM527 580h9v5h-9zM527 587h9v2h-9zM527 594h9v2h-9zM527 603h9v7h-9zM545 628h10v4h-10zM555 571h9v4h-9zM555 582h9v3h-9zM555 587h9v2h-9zM555 606h9v2h-9zM564 552h10v2h-10zM564 589h10v5h-10zM593 573h9v5h-9zM593 587h9v2h-9zM593 594h9v2h-9zM593 608h9v2h-9zM602 552h10v4h-10zM602 568h10v3h-10zM602 580h10v2h-10zM602 587h10v2h-10zM602 603h10v3h-10zM621 628h9v4h-9zM630 575h10v3h-10zM630 589h10v3h-10zM630 594h10v5h-10zM630 606h10v2h-10zM640 552h9v2h-9zM640 559h9v2h-9zM640 571h9v2h-9zM640 587h9v2h-9zM659 628h9v4h-9zM668 575h10v3h-10zM668 580h10v2h-10zM678 547h9v2h-9zM678 552h9v2h-9zM678 571h9v4h-9zM678 578h9v2h-9zM678 585h9v2h-9zM678 594h9v5h-9zM678 643h9v8h-9zM706 575h9v3h-9zM706 587h9v2h-9zM706 596h9v3h-9zM706 606h9v2h-9zM715 554h10v2h-10zM715 559h10v4h-10zM715 566h10v2h-10zM715 582h10v10h-10zM715 601h10v2h-10zM715 643h10v8h-10zM725 643h9v8h-9zM734 628h10v4h-10zM744 594h9v2h-9zM744 603h9v5h-9zM753 561h10v2h-10zM753 580h10v2h-10zM753 585h10v4h-10zM753 599h10v2h-10zM753 603h10v5h-10zM763 624h9v4h-9zM763 643h9v8h-9zM781 587h10v2h-10zM781 594h10v2h-10zM781 608h10v2h-10zM791 549h9v3h-9zM791 554h9v2h-9zM791 563h9v3h-9zM791 587h9v5h-9zM791 594h9v2h-9zM791 599h9v2h-9zM791 603h9v3h-9zM800 621h10v3h-10zM800 628h10v4h-10zM819 589h10v3h-10zM829 552h9v7h-9zM829 566h9v2h-9zM829 573h9v2h-9zM829 578h9v2h-9zM829 582h9v5h-9zM829 606h9v2h-9zM829 628h9v4h-9z"/>
<path fill="#00f7ff" d="M135 601h4v2h-4zM135 610h4v8h-4zM135 628h4v15h-4zM139 603h10v3h-10zM139 612h10v6h-10zM149 559h9v7h-9zM149 568h9v3h-9zM149 573h9v2h-9zM149 580h9v2h-9zM149 599h9v2h-9zM149 628h9v4h-9zM149 643h9v8h-9zM158 628h10v4h-10zM168 632h9v11h-9zM177 585h10v2h-10zM177 596h10v3h-10zM177 603h10v3h-10zM177 610h10v8h-10zM187 561h9v2h-9zM187 571h9v2h-9zM187 578h9v2h-9zM187 587h9v5h-9zM187 596h9v3h-9zM187 606h9v2h-9zM196 618h9v6h-9zM196 643h9v8h-9zM215 580h9v5h-9zM215 587h9v2h-9zM215 592h9v2h-9zM215 599h9v2h-9zM215 606h9v2h-9zM215 610h9v5h-9zM224 552h10v2h-10zM224 563h10v3h-10zM224 568h10v3h-10zM224 575h10v3h-10zM224 580h10v2h-10zM224 587h10v2h-10zM224 596h10v5h-10zM224 603h10v3h-10zM224 624h10v4h-10zM224 643h10v8h-10zM243 618h10v3h-10zM243 637h10v6h-10zM253 575h9v3h-9zM253 582h9v3h-9zM253 589h9v3h-9zM253 601h9v2h-9zM253 610h9v8h-9zM262 552h10v4h-10zM262 559h10v2h-10zM262 563h10v5h-10zM262 571h10v2h-10zM262 578h10v2h-10zM262 582h10v12h-10zM262 601h10v2h-10zM262 624h10v4h-10zM262 643h10v8h-10zM272 624h9v4h-9zM272 643h9v8h-9zM290 573h10v2h-10zM290 587h10v2h-10zM290 592h10v7h-10zM290 612h10v3h-10zM300 552h9v2h-9zM300 556h9v15h-9zM300 575h9v3h-9zM300 587h9v2h-9zM300 594h9v2h-9zM300 599h9v2h-9zM300 608h9v2h-9zM300 643h9v8h-9zM319 618h9v6h-9zM319 628h9v4h-9zM328 578h10v2h-10zM328 587h10v2h-10zM328 592h10v2h-10zM328 596h10v3h-10zM328 601h10v5h-10zM338 559h9v4h-9zM338 566h9v2h-9zM338 571h9v2h-9zM338 580h9v2h-9zM338 587h9v7h-9zM338 596h9v7h-9zM338 606h9v2h-9zM347 618h10v10h-10zM366 580h9v9h-9zM366 592h9v4h-9zM366 601h9v5h-9zM375 549h10v5h-10zM375 563h10v3h-10zM375 573h10v5h-10zM375 585h10v2h-10zM375 589h10v7h-10zM385 643h9v8h-9zM394 628h10v9h-10zM404 580h9v7h-9zM404 606h9v2h-9zM413 552h10v2h-10zM413 559h10v2h-10zM413 563h10v5h-10zM413 575h10v5h-10zM413 582h10v3h-10zM413 587h10v2h-10zM413 592h10v2h-10zM413 596h10v3h-10zM413 601h10v7h-10zM413 628h10v4h-10zM423 618h9v6h-9zM423 643h9v8h-9zM442 575h9v5h-9zM442 582h9v3h-9zM442 601h9v7h-9zM451 568h9v3h-9zM451 573h9v2h-9zM451 578h9v14h-9zM451 599h9v2h-9zM451 628h9v4h-9zM460 621h10v3h-10zM460 628h10v4h-10zM470 628h9v4h-9zM479 580h10v5h-10zM479 587h10v5h-10zM479 596h10v5h-10zM479 606h10v2h-10zM489 547h9v2h-9zM489 554h9v2h-9zM489 573h9v2h-9zM489 580h9v2h-9zM489 585h9v4h-9zM489 594h9v2h-9zM489 603h9v5h-9zM489 610h9v8h-9zM489 643h9v8h-9zM498 621h10v7h-10zM498 643h10v8h-10zM508 637h9v6h-9zM517 578h10v2h-10zM517 585h10v4h-10zM517 592h10v2h-10zM517 596h10v7h-10zM527 554h9v2h-9zM527 559h9v2h-9zM527 563h9v5h-9zM527 573h9v2h-9zM527 578h9v2h-9zM527 585h9v2h-9zM527 592h9v2h-9zM527 596h9v3h-9zM536 618h9v6h-9zM536 628h9v4h-9zM555 578h9v2h-9zM555 585h9v2h-9zM555 589h9v3h-9zM555 594h9v7h-9zM555 603h9v3h-9zM564 554h10v2h-10zM564 561h10v2h-10zM564 566h10v2h-10zM564 573h10v9h-10zM564 585h10v2h-10zM564 599h10v2h-10zM564 628h10v4h-10zM574 621h9v7h-9zM574 643h9v8h-9zM593 578h9v2h-9zM593 582h9v5h-9zM593 599h9v4h-9zM602 575h10v3h-10zM602 582h10v3h-10zM602 589h10v10h-10zM602 601h10v2h-10zM602 606h10v2h-10zM602 628h10v4h-10zM602 643h10v8h-10zM612 621h9v11h-9zM630 582h10v7h-10zM630 599h10v2h-10zM630 603h10v3h-10zM640 566h9v2h-9zM640 573h9v5h-9zM640 582h9v5h-9zM640 589h9v5h-9zM640 601h9v2h-9zM640 643h9v8h-9zM649 618h10v10h-10zM649 643h10v8h-10zM668 571h10v2h-10zM668 578h10v2h-10zM668 587h10v2h-10zM668 592h10v2h-10zM668 596h10v5h-10zM668 603h10v3h-10zM678 559h9v7h-9zM678 582h9v3h-9zM678 592h9v2h-9zM678 599h9v4h-9zM678 606h9v2h-9zM678 628h9v4h-9zM687 618h9v10h-9zM687 643h9v8h-9zM696 618h10v3h-10zM696 628h10v4h-10zM696 637h10v6h-10zM706 571h9v2h-9zM706 578h9v2h-9zM706 582h9v5h-9zM706 589h9v7h-9zM715 552h10v2h-10zM715 556h10v3h-10zM715 563h10v3h-10zM715 571h10v2h-10zM715 578h10v4h-10zM715 594h10v2h-10zM715 599h10v2h-10zM715 606h10v2h-10zM715 624h10v8h-10zM725 618h9v6h-9zM734 632h10v11h-10zM744 592h9v2h-9zM744 599h9v2h-9zM753 552h10v7h-10zM753 566h10v14h-10zM753 582h10v3h-10zM753 592h10v4h-10zM753 601h10v2h-10zM763 618h9v6h-9zM763 628h9v4h-9zM781 578h10v4h-10zM781 596h10v5h-10zM781 606h10v2h-10zM791 552h9v2h-9zM791 559h9v2h-9zM791 566h9v2h-9zM791 578h9v2h-9zM791 582h9v5h-9zM791 592h9v2h-9zM791 596h9v3h-9zM791 601h9v2h-9zM791 643h9v8h-9zM800 618h10v3h-10zM800 624h10v4h-10zM819 585h10v4h-10zM819 592h10v2h-10zM819 596h10v7h-10zM819 606h10v2h-10zM829 563h9v3h-9zM829 571h9v2h-9zM829 580h9v2h-9zM829 587h9v2h-9zM829 594h9v7h-9zM829 603h9v3h-9zM829 643h9v8h-9zM838 618h10v3h-10zM838 624h10v8h-10zM838 643h10v8h-10z"/>
<path fill="#08fff7" d="M135 603h4v5h-4zM139 601h10v2h-10zM149 566h9v2h-9zM149 575h9v5h-9zM149 589h9v3h-9zM149 594h9v5h-9zM149 601h9v2h-9zM158 643h10v8h-10zM177 599h10v2h-10zM187 556h9v3h-9zM187 563h9v8h-9zM187 580h9v2h-9zM187 585h9v2h-9zM187 599h9v2h-9zM187 643h9v8h-9zM215 585h9v2h-9zM224 561h10v2h-10zM224 573h10v2h-10zM224 594h10v2h-10zM224 601h10v2h-10zM234 643h9v8h-9zM243 621h10v3h-10zM253 585h9v4h-9zM253 592h9v2h-9zM253 596h9v3h-9zM253 606h9v2h-9zM262 556h10v3h-10zM262 561h10v2h-10zM262 568h10v3h-10zM262 594h10v2h-10zM262 599h10v2h-10zM262 603h10v3h-10zM272 618h9v6h-9zM281 632h9v5h-9zM290 601h10v7h-10zM290 610h10v2h-10zM290 615h10v3h-10zM300 573h9v2h-9zM300 578h9v4h-9zM300 592h9v2h-9zM300 596h9v3h-9zM300 601h9v2h-9zM300 606h9v2h-9zM328 582h10v5h-10zM328 594h10v2h-10zM338 563h9v3h-9zM338 575h9v3h-9zM338 582h9v3h-9zM338 594h9v2h-9zM338 603h9v3h-9zM338 628h9v4h-9zM347 643h10v8h-10zM366 599h9v2h-9zM375 556h10v5h-10zM375 596h10v10h-10zM375 628h10v4h-10zM385 624h9v4h-9zM394 637h10v6h-10zM404 587h9v7h-9zM404 599h9v2h-9zM413 556h10v3h-10zM413 561h10v2h-10zM413 568h10v3h-10zM413 585h10v2h-10zM413 599h10v2h-10zM423 624h9v4h-9zM432 628h10v4h-10zM442 580h9v2h-9zM442 587h9v7h-9zM442 596h9v3h-9zM451 559h9v9h-9zM451 571h9v2h-9zM451 592h9v4h-9zM451 603h9v3h-9zM460 618h10v3h-10zM460 624h10v4h-10zM460 643h10v8h-10zM479 592h10v4h-10zM479 603h10v3h-10zM489 559h9v2h-9zM489 568h9v3h-9zM489 578h9v2h-9zM489 582h9v3h-9zM489 589h9v5h-9zM489 599h9v2h-9zM489 624h9v4h-9zM498 618h10v3h-10zM498 628h10v4h-10zM508 628h9v4h-9zM517 582h10v3h-10zM517 589h10v3h-10zM517 603h10v5h-10zM527 556h9v3h-9zM527 571h9v2h-9zM527 599h9v4h-9zM527 628h9v4h-9zM536 624h9v4h-9zM536 643h9v8h-9zM555 575h9v3h-9zM555 580h9v2h-9zM555 601h9v2h-9zM564 556h10v3h-10zM564 563h10v3h-10zM564 568h10v5h-10zM564 582h10v3h-10zM564 587h10v2h-10zM564 594h10v5h-10zM564 606h10v2h-10zM574 628h9v4h-9zM583 628h10v4h-10zM593 580h9v2h-9zM593 589h9v5h-9zM593 596h9v3h-9zM593 603h9v3h-9zM602 561h10v7h-10zM602 571h10v4h-10zM602 578h10v2h-10zM602 585h10v2h-10zM612 618h9v3h-9zM612 643h9v8h-9zM630 578h10v4h-10zM630 592h10v2h-10zM630 601h10v2h-10zM640 556h9v3h-9zM640 561h9v5h-9zM640 578h9v4h-9zM640 594h9v2h-9zM640 603h9v5h-9zM640 628h9v4h-9zM649 628h10v4h-10zM668 585h10v2h-10zM668 594h10v2h-10zM668 601h10v2h-10zM668 606h10v2h-10zM678 554h9v5h-9zM678 566h9v2h-9zM678 575h9v3h-9zM678 580h9v2h-9zM678 587h9v2h-9zM687 628h9v4h-9zM696 621h10v3h-10zM706 580h9v2h-9zM706 601h9v5h-9zM715 573h10v5h-10zM715 603h10v3h-10zM725 624h9v8h-9zM744 578h9v4h-9zM744 585h9v7h-9zM753 559h10v2h-10zM753 563h10v3h-10zM753 589h10v3h-10zM753 596h10v3h-10zM753 628h10v4h-10zM753 643h10v8h-10zM772 628h9v15h-9zM781 582h10v5h-10zM781 589h10v5h-10zM781 601h10v2h-10zM791 556h9v3h-9zM791 561h9v2h-9zM791 568h9v10h-9zM791 606h9v2h-9zM800 643h10v8h-10zM810 628h9v4h-9zM819 580h10v5h-10zM819 594h10v2h-10zM829 559h9v4h-9zM829 568h9v3h-9zM829 589h9v5h-9zM829 601h9v2h-9zM838 621h10v3h-10zM848 628h7v4h-7z"/>
<path fill="#38ffc7" d="M135 618h4v10h-4zM149 615h9v3h-9zM149 624h9v4h-9zM168 618h9v6h-9zM187 612h9v6h-9zM187 621h9v7h-9zM205 618h10v3h-10zM224 610h10v8h-10zM234 637h9v6h-9zM243 624h10v4h-10zM253 621h9v7h-9zM262 610h10v2h-10zM262 615h10v3h-10zM281 621h9v7h-9zM300 610h9v2h-9zM300 615h9v6h-9zM300 624h9v4h-9zM319 632h9v5h-9zM328 615h10v3h-10zM338 610h9v14h-9zM338 632h9v11h-9zM357 628h9v4h-9zM357 637h9v6h-9zM366 610h9v8h-9zM375 610h10v5h-10zM375 621h10v3h-10zM385 632h9v11h-9zM394 621h10v7h-10zM404 610h9v2h-9zM413 610h10v2h-10zM413 615h10v13h-10zM432 618h10v10h-10zM432 632h10v11h-10zM442 612h9v6h-9zM451 610h9v8h-9zM451 624h9v4h-9zM470 621h9v3h-9zM470 632h9v11h-9zM479 610h10v5h-10zM489 621h9v3h-9zM498 632h10v11h-10zM508 618h9v3h-9zM508 624h9v4h-9zM517 610h10v5h-10zM527 610h9v2h-9zM527 615h9v3h-9zM527 624h9v4h-9zM545 621h10v7h-10zM545 632h10v11h-10zM555 610h9v8h-9zM564 610h10v18h-10zM583 618h10v6h-10zM583 632h10v5h-10zM593 610h9v5h-9zM602 610h10v8h-10zM602 624h10v4h-10zM621 621h9v7h-9zM621 637h9v6h-9zM630 610h10v5h-10zM640 610h9v2h-9zM640 615h9v9h-9zM659 621h9v7h-9zM659 637h9v6h-9zM678 612h9v6h-9zM678 621h9v3h-9zM696 624h10v4h-10zM696 632h10v5h-10zM715 610h10v2h-10zM715 615h10v3h-10zM715 621h10v3h-10zM734 618h10v6h-10zM744 610h9v2h-9zM744 615h9v3h-9zM753 610h10v11h-10zM753 624h10v4h-10zM772 618h9v10h-9zM781 612h10v6h-10zM791 612h9v3h-9zM791 618h9v10h-9zM810 618h9v3h-9zM810 624h9v4h-9zM810 637h9v6h-9zM819 612h10v3h-10zM829 610h9v8h-9zM829 621h9v3h-9zM848 618h7v10h-7zM848 632h7v5h-7z"/>
<path fill="#0028ff" d="M139 563h10v3h-10zM149 476h9v3h-9zM149 481h9v7h-9zM149 493h9v2h-9zM149 651h9v10h-9zM158 509h10v14h-10zM187 481h9v2h-9zM187 490h9v10h-9zM187 651h9v10h-9zM196 498h9v2h-9zM196 502h9v12h-9zM196 651h9v10h-9zM205 533h10v5h-10zM205 540h10v2h-10zM205 545h10v2h-10zM215 628h9v4h-9zM224 467h10v2h-10zM224 472h10v2h-10zM224 476h10v5h-10zM224 483h10v3h-10zM224 488h10v2h-10zM234 495h9v3h-9zM234 505h9v2h-9zM234 509h9v3h-9zM234 651h9v10h-9zM243 514h10v2h-10zM243 540h10v7h-10zM262 474h10v2h-10zM262 479h10v4h-10zM262 486h10v12h-10zM272 498h9v2h-9zM272 505h9v2h-9zM272 514h9v2h-9zM281 530h9v3h-9zM281 538h9v2h-9zM281 542h9v3h-9zM281 643h9v8h-9zM290 628h10v4h-10zM300 458h9v2h-9zM309 481h10v5h-10zM309 493h10v7h-10zM309 507h10v2h-10zM319 526h9v2h-9zM319 533h9v2h-9zM319 538h9v2h-9zM328 628h10v4h-10zM338 460h9v5h-9zM338 467h9v2h-9zM338 476h9v3h-9zM338 483h9v5h-9zM347 505h10v2h-10zM347 514h10v2h-10zM347 521h10v2h-10zM347 608h10v2h-10zM347 651h10v10h-10zM357 523h9v3h-9zM357 528h9v5h-9zM375 462h10v5h-10zM375 651h10v10h-10zM385 483h9v7h-9zM385 495h9v3h-9zM385 500h9v2h-9zM385 509h9v3h-9zM394 542h10v3h-10zM394 549h10v3h-10zM404 628h9v4h-9zM413 472h10v7h-10zM413 481h10v9h-10zM413 651h10v10h-10zM423 493h9v5h-9zM423 507h9v7h-9zM423 651h9v10h-9zM432 528h10v2h-10zM432 533h10v7h-10zM432 643h10v8h-10zM451 450h9v3h-9zM451 651h9v10h-9zM460 474h10v5h-10zM460 486h10v7h-10zM460 498h10v4h-10zM460 651h10v10h-10zM470 533h9v2h-9zM470 540h9v2h-9zM470 643h9v8h-9zM479 628h10v4h-10zM489 465h9v4h-9zM489 472h9v2h-9zM489 476h9v14h-9zM489 651h9v10h-9zM498 490h10v3h-10zM498 498h10v2h-10zM498 505h10v2h-10zM498 512h10v2h-10zM498 651h10v10h-10zM508 528h9v5h-9zM508 538h9v2h-9zM508 545h9v2h-9zM508 643h9v8h-9zM517 628h10v4h-10zM527 465h9v2h-9zM527 481h9v2h-9zM527 488h9v7h-9zM527 651h9v10h-9zM536 498h9v7h-9zM536 507h9v2h-9zM536 512h9v2h-9zM536 608h9v2h-9zM536 651h9v10h-9zM545 542h10v3h-10zM555 628h9v4h-9zM564 458h10v4h-10zM564 465h10v2h-10zM564 469h10v3h-10zM564 651h10v10h-10zM574 493h9v2h-9zM574 498h9v2h-9zM574 502h9v7h-9zM583 538h10v2h-10zM602 458h10v4h-10zM602 465h10v4h-10zM612 486h9v2h-9zM612 493h9v2h-9zM612 498h9v2h-9zM612 608h9v2h-9zM621 530h9v8h-9zM621 547h9v2h-9zM621 643h9v8h-9zM640 467h9v2h-9zM640 476h9v3h-9zM640 481h9v2h-9zM640 493h9v2h-9zM640 498h9v2h-9zM640 502h9v3h-9zM649 486h10v4h-10zM649 498h10v2h-10zM649 651h10v10h-10zM659 538h9v2h-9zM659 542h9v5h-9zM659 549h9v3h-9zM668 628h10v4h-10zM678 458h9v4h-9zM678 651h9v10h-9zM687 469h9v3h-9zM687 481h9v5h-9zM687 490h9v5h-9zM687 498h9v2h-9zM696 528h10v5h-10zM696 538h10v2h-10zM696 547h10v2h-10zM696 643h10v8h-10zM715 465h10v2h-10zM715 472h10v14h-10zM725 474h9v5h-9zM725 481h9v5h-9zM725 651h9v10h-9zM734 540h10v2h-10zM734 545h10v2h-10zM744 628h9v4h-9zM753 458h10v2h-10zM753 462h10v3h-10zM753 474h10v2h-10zM753 479h10v4h-10zM753 498h10v4h-10zM763 495h9v3h-9zM763 509h9v3h-9zM772 545h9v2h-9zM772 549h9v3h-9zM772 643h9v8h-9zM781 561h10v2h-10zM781 628h10v4h-10zM791 469h9v5h-9zM791 476h9v7h-9zM791 490h9v3h-9zM791 500h9v2h-9zM800 493h10v2h-10zM800 500h10v2h-10zM800 514h10v2h-10zM810 542h9v3h-9zM810 547h9v2h-9zM810 643h9v8h-9zM819 628h10v4h-10zM829 458h9v2h-9zM829 462h9v3h-9zM829 476h9v3h-9zM829 481h9v2h-9zM829 500h9v5h-9zM838 498h10v9h-10zM848 533h7v5h-7zM848 540h7v7h-7zM848 643h7v8h-7z"/>
<path fill="#18ffe7" d="M139 606h10v2h-10zM149 592h9v2h-9zM149 603h9v3h-9zM187 582h9v3h-9zM187 592h9v2h-9zM187 601h9v2h-9zM224 578h10v2h-10zM224 585h10v2h-10zM224 589h10v3h-10zM243 632h10v5h-10zM253 578h9v2h-9zM262 573h10v2h-10zM290 582h10v3h-10zM328 599h10v2h-10zM338 556h9v3h-9zM366 589h9v3h-9zM366 606h9v2h-9zM375 571h10v2h-10zM375 580h10v2h-10zM404 596h9v3h-9zM413 573h10v2h-10zM479 601h10v2h-10zM489 561h9v5h-9zM489 601h9v2h-9zM527 561h9v2h-9zM527 589h9v3h-9zM564 559h10v2h-10zM564 601h10v2h-10zM593 606h9v2h-9zM602 556h10v5h-10zM621 618h9v3h-9zM640 568h9v3h-9zM678 589h9v3h-9zM706 599h9v2h-9zM715 596h10v3h-10zM744 582h9v3h-9zM744 601h9v2h-9zM781 603h10v3h-10zM791 580h9v2h-9z"/>
<path fill="#78ff87" d="M139 618h10v3h-10zM139 624h10v4h-10zM149 637h9v6h-9zM177 618h10v6h-10zM187 632h9v5h-9zM196 632h9v11h-9zM215 618h9v10h-9zM224 637h10v6h-10zM262 637h10v6h-10zM272 632h9v11h-9zM290 618h10v6h-10zM300 632h9v5h-9zM309 637h10v6h-10zM347 632h10v5h-10zM375 632h10v5h-10zM413 637h10v6h-10zM423 632h9v5h-9zM460 632h10v11h-10zM489 632h9v11h-9zM527 621h9v3h-9zM527 632h9v11h-9zM536 632h9v11h-9zM564 637h10v6h-10zM574 637h9v6h-9zM602 632h10v11h-10zM612 632h9v11h-9zM640 637h9v6h-9zM649 632h10v5h-10zM678 637h9v6h-9zM687 637h9v6h-9zM715 632h10v5h-10zM725 637h9v6h-9zM763 637h9v6h-9zM791 637h9v6h-9zM800 632h10v5h-10zM829 632h9v5h-9zM838 632h10v5h-10z"/>
<path fill="#68ff97" d="M139 621h10v3h-10zM149 618h9v3h-9zM158 632h10v5h-10zM187 637h9v6h-9zM224 632h10v5h-10zM262 632h10v5h-10zM300 637h9v6h-9zM309 632h10v5h-10zM347 637h10v6h-10zM375 624h10v4h-10zM413 632h10v5h-10zM423 637h9v6h-9zM451 618h9v6h-9zM451 632h9v11h-9zM574 632h9v5h-9zM640 632h9v5h-9zM649 637h10v6h-10zM678 632h9v5h-9zM687 632h9v5h-9zM715 637h10v6h-10zM725 632h9v5h-9zM800 637h10v6h-10zM829 637h9v6h-9z"/>
<path fill="#0000b7" d="M149 425h9v7h-9zM149 439h9v2h-9zM158 472h10v2h-10zM158 479h10v2h-10zM158 486h10v2h-10zM168 498h9v2h-9zM168 509h9v3h-9zM168 661h9v15h-9zM177 559h10v2h-10zM187 425h9v2h-9zM187 432h9v2h-9zM187 439h9v2h-9zM196 472h9v2h-9zM196 676h9v8h-9zM205 498h10v9h-10zM205 509h10v7h-10zM205 676h10v8h-10zM215 559h9v2h-9zM224 427h10v2h-10zM224 432h10v2h-10zM224 439h10v2h-10zM243 495h10v5h-10zM243 651h10v10h-10zM253 632h9v11h-9zM262 425h10v2h-10zM262 439h10v2h-10zM272 469h9v3h-9zM281 502h9v5h-9zM281 512h9v2h-9zM290 559h10v2h-10zM309 462h10v3h-10zM319 498h9v2h-9zM328 651h10v10h-10zM338 422h9v3h-9zM338 436h9v5h-9zM347 474h10v2h-10zM357 498h9v4h-9zM357 505h9v2h-9zM357 509h9v3h-9zM357 676h9v8h-9zM366 542h9v3h-9zM366 547h9v2h-9zM375 439h10v2h-10zM385 460h9v2h-9zM394 495h10v3h-10zM394 651h10v10h-10zM413 422h10v5h-10zM413 439h10v2h-10zM423 462h9v3h-9zM423 469h9v5h-9zM432 495h10v5h-10zM451 422h9v7h-9zM451 439h9v2h-9zM470 483h9v3h-9zM470 488h9v2h-9zM470 493h9v2h-9zM479 559h10v2h-10zM489 422h9v3h-9zM489 429h9v3h-9zM489 436h9v5h-9zM498 460h10v5h-10zM508 481h9v2h-9zM508 486h9v7h-9zM508 495h9v5h-9zM508 651h9v10h-9zM517 559h10v2h-10zM517 632h10v5h-10zM517 676h10v8h-10zM527 422h9v3h-9zM527 427h9v5h-9zM527 439h9v4h-9zM536 458h9v4h-9zM545 498h10v2h-10zM545 651h10v25h-10zM555 643h9v18h-9zM555 676h9v8h-9zM564 422h10v21h-10zM574 460h9v5h-9zM583 507h10v7h-10zM593 559h9v2h-9zM593 632h9v5h-9zM602 432h10v2h-10zM612 465h9v2h-9zM621 486h9v7h-9zM621 495h9v3h-9zM630 676h10v8h-10zM640 429h9v3h-9zM640 434h9v2h-9zM640 441h9v2h-9zM649 460h10v2h-10zM649 465h10v2h-10zM659 486h9v4h-9zM659 493h9v2h-9zM668 637h10v6h-10zM678 422h9v7h-9zM678 432h9v2h-9zM678 436h9v3h-9zM696 495h10v5h-10zM706 559h9v2h-9zM715 422h10v7h-10zM715 439h10v2h-10zM734 495h10v3h-10zM734 500h10v2h-10zM734 676h10v8h-10zM744 559h9v2h-9zM753 427h10v7h-10zM753 436h10v3h-10zM763 460h9v7h-9zM772 495h9v3h-9zM772 505h9v2h-9zM772 509h9v3h-9zM781 632h10v5h-10zM791 422h9v3h-9zM791 427h9v2h-9zM791 434h9v2h-9zM810 498h9v4h-9zM810 507h9v2h-9zM819 542h10v10h-10zM819 661h10v15h-10zM829 434h9v2h-9zM829 439h9v4h-9zM838 460h10v2h-10zM848 495h7v7h-7z"/>
<path fill="#48ffb7" d="M149 610h9v5h-9zM168 624h9v4h-9zM177 624h10v4h-10zM205 621h10v3h-10zM224 618h10v6h-10zM253 618h9v3h-9zM262 612h10v3h-10zM290 624h10v4h-10zM300 612h9v3h-9zM300 621h9v3h-9zM319 624h9v4h-9zM319 637h9v6h-9zM328 610h10v2h-10zM375 618h10v3h-10zM394 618h10v3h-10zM404 612h9v3h-9zM479 615h10v3h-10zM489 618h9v3h-9zM508 621h9v3h-9zM508 632h9v5h-9zM527 612h9v3h-9zM545 618h10v3h-10zM583 637h10v6h-10zM593 615h9v3h-9zM602 618h10v3h-10zM640 624h9v4h-9zM659 632h9v5h-9zM668 612h10v3h-10zM678 618h9v3h-9zM678 624h9v4h-9zM715 612h10v3h-10zM715 618h10v3h-10zM734 624h10v4h-10zM781 610h10v2h-10zM791 610h9v2h-9zM791 615h9v3h-9zM810 621h9v3h-9zM819 610h10v2h-10zM819 615h10v3h-10zM829 618h9v3h-9zM829 624h9v4h-9z"/>
<path fill="#87ff78" d="M149 621h9v3h-9zM149 632h9v5h-9zM158 637h10v6h-10zM375 637h10v6h-10zM527 618h9v3h-9zM564 632h10v5h-10zM753 632h10v11h-10zM763 632h9v5h-9zM791 632h9v5h-9zM838 637h10v6h-10z"/>
<path fill="#28ffd7" d="M187 610h9v2h-9zM187 618h9v3h-9zM205 624h10v4h-10zM234 632h9v5h-9zM262 618h10v6h-10zM281 618h9v3h-9zM328 612h10v3h-10zM338 624h9v4h-9zM357 632h9v5h-9zM375 615h10v3h-10zM404 615h9v3h-9zM413 612h10v3h-10zM442 585h9v2h-9zM442 610h9v2h-9zM470 618h9v3h-9zM517 615h10v3h-10zM583 624h10v4h-10zM602 621h10v3h-10zM621 632h9v5h-9zM630 615h10v3h-10zM640 596h9v3h-9zM640 612h9v3h-9zM659 618h9v3h-9zM668 589h10v3h-10zM668 610h10v2h-10zM668 615h10v3h-10zM678 610h9v2h-9zM706 610h9v8h-9zM744 612h9v3h-9zM753 621h10v3h-10zM810 632h9v5h-9zM819 603h10v3h-10zM848 637h7v6h-7z"/>
<path fill="#c7ff38" d="M328 618h10v3h-10zM479 621h10v3h-10zM555 624h9v4h-9z"/>
<path fill="#b7ff48" d="M328 621h10v3h-10zM357 618h9v3h-9zM357 624h9v4h-9zM366 621h9v3h-9zM404 618h9v3h-9zM442 618h9v3h-9zM479 618h10v3h-10zM517 618h10v3h-10zM517 624h10v4h-10zM555 621h9v3h-9zM630 624h10v4h-10zM706 618h9v10h-9zM744 618h9v3h-9zM744 624h9v4h-9zM781 621h10v3h-10z"/>
<path fill="#e7ff18" d="M328 624h10v4h-10zM366 624h9v4h-9zM404 624h9v4h-9zM442 624h9v4h-9zM479 624h10v4h-10z"/>
<path fill="#a7ff58" d="M357 621h9v3h-9zM366 618h9v3h-9zM404 621h9v3h-9zM442 621h9v3h-9zM517 621h10v3h-10zM555 618h9v3h-9zM593 618h9v10h-9zM630 618h10v6h-10zM668 618h10v10h-10zM744 621h9v3h-9zM781 618h10v3h-10zM781 624h10v4h-10zM819 618h10v10h-10z"/>
<path fill="#58ffa7" d="M470 624h9v4h-9z"/>
<rect x="133" y="414" width="1" height="277" fill="#262626"/>
<rect x="856" y="422" width="1" height="262" fill="#262626"/>
<rect x="133" y="414" width="1" height="8" fill="#262626"/>
<rect x="133" y="684" width="1" height="7" fill="#262626"/>
<rect x="251" y="414" width="1" height="8" fill="#262626"/>
<rect x="251" y="684" width="1" height="7" fill="#262626"/>
<rect x="369" y="414" width="1" height="8" fill="#262626"/>
<rect x="369" y="684" width="1" height="7" fill="#262626"/>
<rect x="487" y="414" width="1" height="8" fill="#262626"/>
<rect x="487" y="684" width="1" height="7" fill="#262626"/>
<rect x="605" y="414" width="1" height="8" fill="#262626"/>
<rect x="605" y="684" width="1" height="7" fill="#262626"/>
<rect x="723" y="414" width="1" height="8" fill="#262626"/>
<rect x="723" y="684" width="1" height="7" fill="#262626"/>
<rect x="841" y="414" width="1" height="8" fill="#262626"/>
<rect x="841" y="684" width="1" height="7" fill="#262626"/>
<rect x="129" y="683" width="5" height="1" fill="#262626"/>
<rect x="856" y="683" width="5" height="1" fill="#262626"/>
<rect x="129" y="678" width="5" height="1" fill="#262626"/>
<rect x="856" y="678" width="5" height="1" fill="#262626"/>
<rect x="129" y="674" width="5" height="1" fill="#262626"/>
<rect x="856" y="674" width="5" height="1" fill="#262626"/>
<rect x="129" y="671" width="5" height="1" fill="#262626"/>
<rect x="856" y="671" width="5" height="1" fill="#262626"/>
<rect x="125" y="668" width="9" height="1" fill="#262626"/>
<rect x="856" y="668" width="9" height="1" fill="#262626"/>
<rect x="129" y="647" width="5" height="1" fill="#262626"/>
<rect x="856" y="647" width="5" height="1" fill="#262626"/>
<rect x="129" y="635" width="5" height="1" fill="#262626"/>
<rect x="856" y="635" width="5" height="1" fill="#262626"/>
<rect x="129" y="627" width="5" height="1" fill="#262626"/>
<rect x="856" y="627" width="5" height="1" fill="#262626"/>
<rect x="129" y="620" width="5" height="1" fill="#262626"/>
<rect x="856" y="620" width="5" height="1" fill="#262626"/>
<rect x="129" y="615" width="5" height="1" fill="#262626"/>
<rect x="856" y="615" width="5" height="1" fill="#262626"/>
<rect x="129" y="611" width="5" height="1" fill="#262626"/>
<rect x="856" y="611" width="5" height="1" fill="#262626"/>
<rect x="129" y="607" width="5" height="1" fill="#262626"/>
<rect x="856" y="607" width="5" height="1" fill="#262626"/>
<rect x="129" y="603" width="5" height="1" fill="#262626"/>
<rect x="856" y="603" width="5" height="1" fill="#262626"/>
<rect x="125" y="600" width="9" height="1" fill="#262626"/>
<rect x="856" y="600" width="9" height="1" fill="#262626"/>
<rect x="129" y="579" width="5" height="1" fill="#262626"/>
<rect x="856" y="579" width="5" height="1" fill="#262626"/>
<rect x="129" y="567" width="5" height="1" fill="#262626"/>
<rect x="856" y="567" width="5" height="1" fill="#262626"/>
<rect x="129" y="558" width="5" height="1" fill="#262626"/>
<rect x="856" y="558" width="5" height="1" fill="#262626"/>
<rect x="129" y="552" width="5" height="1" fill="#262626"/>
<rect x="856" y="552" width="5" height="1" fill="#262626"/>
<rect x="129" y="546" width="5" height="1" fill="#262626"/>
<rect x="856" y="546" width="5" height="1" fill="#262626"/>
<rect x="129" y="542" width="5" height="1" fill="#262626"/>
<rect x="856" y="542" width="5" height="1" fill="#262626"/>
<rect x="129" y="538" width="5" height="1" fill="#262626"/>
<rect x="856" y="538" width="5" height="1" fill="#262626"/>
<rect x="129" y="534" width="5" height="1" fill="#262626"/>
<rect x="856" y="534" width="5" height="1" fill="#262626"/>
<rect x="125" y="531" width="9" height="1" fill="#262626"/>
<rect x="856" y="531" width="9" height="1" fill="#262626"/>
<rect x="129" y="510" width="5" height="1" fill="#262626"/>
<rect x="856" y="510" width="5" height="1" fill="#262626"/>
<rect x="129" y="498" width="5" height="1" fill="#262626"/>
<rect x="856" y="498" width="5" height="1" fill="#262626"/>
<rect x="129" y="490" width="5" height="1" fill="#262626"/>
<rect x="856" y="490" width="5" height="1" fill="#262626"/>
<rect x="129" y="483" width="5" height="1" fill="#262626"/>
<rect x="856" y="483" width="5" height="1" fill="#262626"/>
<rect x="129" y="478" width="5" height="1" fill="#262626"/>
<rect x="856" y="478" width="5" height="1" fill="#262626"/>
<rect x="129" y="473" width="5" height="1" fill="#262626"/>
<rect x="856" y="473" width="5" height="1" fill="#262626"/>
<rect x="129" y="469" width="5" height="1" fill="#262626"/>
<rect x="856" y="469" width="5" height="1" fill="#262626"/>
<rect x="129" y="466" width="5" height="1" fill="#262626"/>
<rect x="856" y="466" width="5" height="1" fill="#262626"/>
<rect x="125" y="463" width="9" height="1" fill="#262626"/>
<rect x="856" y="463" width="9" height="1" fill="#262626"/>
<rect x="129" y="442" width="5" height="1" fill="#262626"/>
<rect x="856" y="442" width="5" height="1" fill="#262626"/>
<rect x="129" y="430" width="5" height="1" fill="#262626"/>
<rect x="856" y="430" width="5" height="1" fill="#262626"/>
<rect x="129" y="422" width="5" height="1" fill="#262626"/>
<rect x="856" y="422" width="5" height="1" fill="#262626"/>
<text x="90" y="468.9" font-size="18.2" text-anchor="middle" font-weight="normal" fill="#262626" stroke="#262626" textLength="56.6" lengthAdjust="spacingAndGlyphs" >10000</text>
<text x="90" y="538" font-size="18.2" text-anchor="middle" font-weight="normal" fill="#262626" stroke="#262626" textLength="44.4" lengthAdjust="spacingAndGlyphs" >1000</text>
<text x="90" y="605.8" font-size="18.2" text-anchor="middle" font-weight="normal" fill="#262626" stroke="#262626" textLength="33.4" lengthAdjust="spacingAndGlyphs" >100</text>
<text x="90" y="674.9" font-size="18.2" text-anchor="middle" font-weight="normal" fill="#262626" stroke="#262626" textLength="21.0" lengthAdjust="spacingAndGlyphs" >10</text>
<text x="133.15" y="715.2" font-size="18.2" text-anchor="middle" font-weight="normal" fill="#262626" stroke="#262626" textLength="50.0" lengthAdjust="spacingAndGlyphs" >10:00</text>
<text x="251.15" y="715.2" font-size="18.2" text-anchor="middle" font-weight="normal" fill="#262626" stroke="#262626" textLength="50.0" lengthAdjust="spacingAndGlyphs" >10:10</text>
<text x="369.15" y="715.2" font-size="18.2" text-anchor="middle" font-weight="normal" fill="#262626" stroke="#262626" textLength="50.0" lengthAdjust="spacingAndGlyphs" >10:20</text>
<text x="487.15" y="715.2" font-size="18.2" text-anchor="middle" font-weight="normal" fill="#262626" stroke="#262626" textLength="50.0" lengthAdjust="spacingAndGlyphs" >10:30</text>
<text x="605.15" y="715.2" font-size="18.2" text-anchor="middle" font-weight="normal" fill="#262626" stroke="#262626" textLength="50.0" lengthAdjust="spacingAndGlyphs" >10:40</text>
<text x="723.15" y="715.2" font-size="18.2" text-anchor="middle" font-weight="normal" fill="#262626" stroke="#262626" textLength="50.0" lengthAdjust="spacingAndGlyphs" >10:50</text>
<text x="841.15" y="715.2" font-size="18.2" text-anchor="middle" font-weight="normal" fill="#262626" stroke="#262626" textLength="50.0" lengthAdjust="spacingAndGlyphs" >11:00</text>
<text x="494.2" y="739.9" font-size="21" text-anchor="middle" font-weight="normal" fill="#262626" stroke="#262626" textLength="49.4" lengthAdjust="spacingAndGlyphs" >Time</text>
<text x="0" y="0" font-size="21" text-anchor="middle" fill="#262626" stroke="#262626" textLength="117" lengthAdjust="spacingAndGlyphs" transform="translate(51.3,552.8) rotate(-90)">Energy (eV)</text>
<text x="838.0" y="410.8" font-size="18.3" text-anchor="start" font-weight="normal" fill="#262626" stroke="#262626" textLength="98" lengthAdjust="spacingAndGlyphs" >Log counts</text>
<defs><linearGradient id="cb364" x1="0" y1="1" x2="0" y2="0">
<stop offset="0" stop-color="#000080"/>
<stop offset="0.125" stop-color="#0000ff"/>
<stop offset="0.375" stop-color="#00ffff"/>
<stop offset="0.625" stop-color="#ffff00"/>
<stop offset="0.875" stop-color="#ff0000"/>
<stop offset="1" stop-color="#800000"/>
</linearGradient></defs>
<rect x="875.5" y="422.5" width="23" height="261" fill="url(#cb364)" stroke="#262626" stroke-width="1"/>
<rect x="896" y="683" width="2" height="1" fill="#262626"/>
<text x="906" y="690.1" font-size="18.2" text-anchor="start" font-weight="normal" fill="#262626" stroke="#262626" textLength="9.2" lengthAdjust="spacingAndGlyphs" >0</text>
<rect x="896" y="631" width="2" height="1" fill="#262626"/>
<text x="906" y="637.8" font-size="18.2" text-anchor="start" font-weight="normal" fill="#262626" stroke="#262626" textLength="9.2" lengthAdjust="spacingAndGlyphs" >1</text>
<rect x="896" y="579" width="2" height="1" fill="#262626"/>
<text x="906" y="585.5" font-size="18.2" text-anchor="start" font-weight="normal" fill="#262626" stroke="#262626" textLength="9.2" lengthAdjust="spacingAndGlyphs" >2</text>
<rect x="896" y="526" width="2" height="1" fill="#262626"/>
<text x="906" y="533.3" font-size="18.2" text-anchor="start" font-weight="normal" fill="#262626" stroke="#262626" textLength="9.2" lengthAdjust="spacingAndGlyphs" >3</text>
<rect x="896" y="474" width="2" height="1" fill="#262626"/>
<text x="906" y="481.0" font-size="18.2" text-anchor="start" font-weight="normal" fill="#262626" stroke="#262626" textLength="9.2" lengthAdjust="spacingAndGlyphs" >4</text>
<rect x="896" y="422" width="2" height="1" fill="#262626"/>
<text x="906" y="428.7" font-size="18.2" text-anchor="start" font-weight="normal" fill="#262626" stroke="#262626" textLength="9.2" lengthAdjust="spacingAndGlyphs" >5</text>
</svg></body></html>
